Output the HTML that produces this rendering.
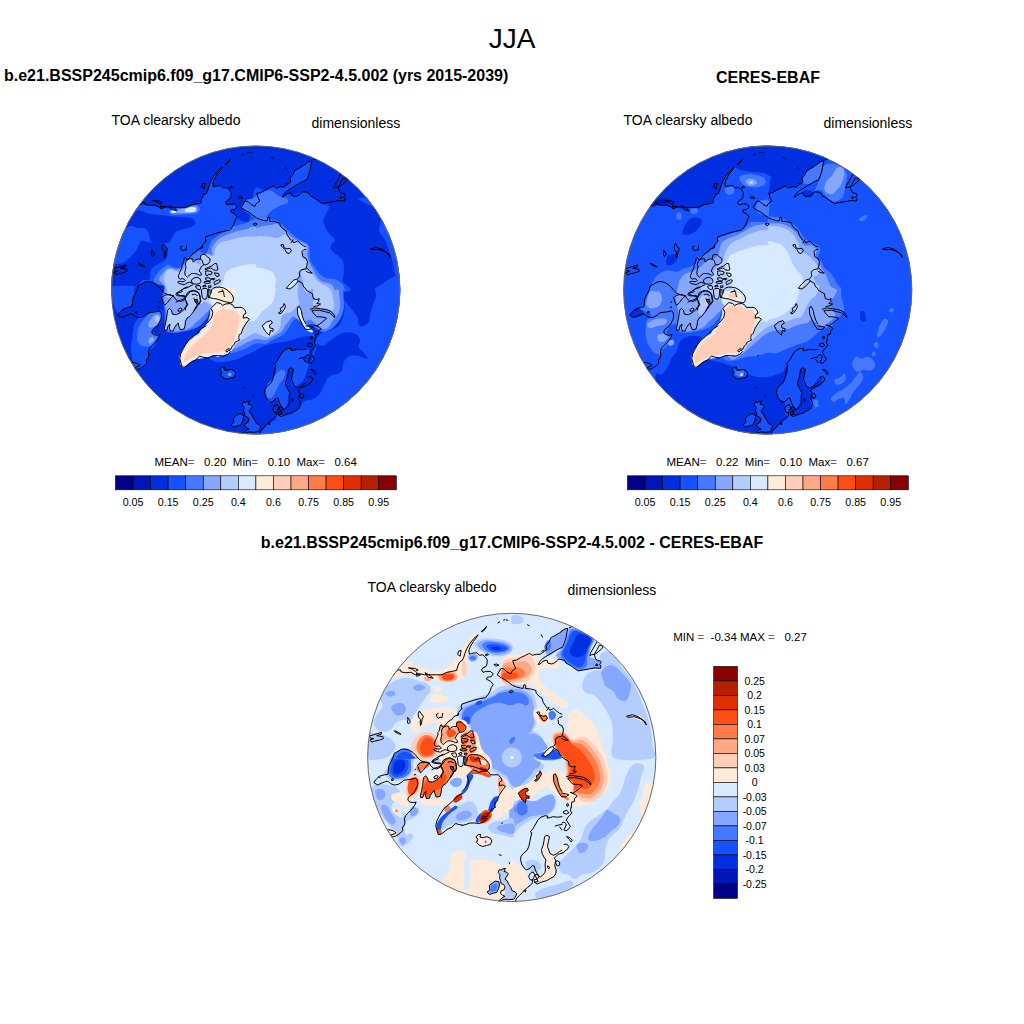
<!DOCTYPE html>
<html><head><meta charset="utf-8"><style>html,body{margin:0;padding:0;background:#fff}svg{display:block}text{font-family:"Liberation Sans",sans-serif;fill:#000}</style></head><body>
<svg width="1024" height="1024" viewBox="0 0 1024 1024">
<rect width="1024" height="1024" fill="#fff"/>
<text x="512" y="48.3" font-size="28" text-anchor="middle" xml:space="preserve">JJA</text>
<text x="4" y="80.6" font-size="16" text-anchor="start" font-weight="bold" xml:space="preserve">b.e21.BSSP245cmip6.f09_g17.CMIP6-SSP2-4.5.002 (yrs 2015-2039)</text>
<text x="768" y="82.6" font-size="16" text-anchor="middle" font-weight="bold" xml:space="preserve">CERES-EBAF</text>
<text x="512" y="548.2" font-size="16" text-anchor="middle" font-weight="bold" xml:space="preserve">b.e21.BSSP245cmip6.f09_g17.CMIP6-SSP2-4.5.002 - CERES-EBAF</text>
<text x="111.5" y="124.8" font-size="14" text-anchor="start" xml:space="preserve">TOA clearsky albedo</text>
<text x="311.5" y="127.8" font-size="14" text-anchor="start" xml:space="preserve">dimensionless</text>
<text x="623.5" y="124.8" font-size="14" text-anchor="start" xml:space="preserve">TOA clearsky albedo</text>
<text x="823.5" y="127.8" font-size="14" text-anchor="start" xml:space="preserve">dimensionless</text>
<text x="367.5" y="592.1" font-size="14" text-anchor="start" xml:space="preserve">TOA clearsky albedo</text>
<text x="567.5" y="595.1" font-size="14" text-anchor="start" xml:space="preserve">dimensionless</text>
<text x="154.5" y="465.6" font-size="11.5" text-anchor="start" xml:space="preserve">MEAN<tspan fill="#666">=</tspan>   0.20  Min<tspan fill="#666">=</tspan>   0.10  Max<tspan fill="#666">=</tspan>   0.64</text>
<text x="666.5" y="465.6" font-size="11.5" text-anchor="start" xml:space="preserve">MEAN<tspan fill="#666">=</tspan>   0.22  Min<tspan fill="#666">=</tspan>   0.10  Max<tspan fill="#666">=</tspan>   0.67</text>
<text x="673.2" y="640.8" font-size="11.5" text-anchor="start" xml:space="preserve">MIN <tspan fill="#666">=</tspan>  -0.34 MAX <tspan fill="#666">=</tspan>   0.27</text>
<rect x="115.50" y="475.8" width="17.55" height="14.0" fill="#000088" stroke="#000" stroke-width="0.6"/>
<rect x="133.05" y="475.8" width="17.55" height="14.0" fill="#0017B5" stroke="#000" stroke-width="0.6"/>
<rect x="150.60" y="475.8" width="17.55" height="14.0" fill="#002FE2" stroke="#000" stroke-width="0.6"/>
<rect x="168.15" y="475.8" width="17.55" height="14.0" fill="#1652FF" stroke="#000" stroke-width="0.6"/>
<rect x="185.70" y="475.8" width="17.55" height="14.0" fill="#4579FF" stroke="#000" stroke-width="0.6"/>
<rect x="203.25" y="475.8" width="17.55" height="14.0" fill="#86A7FF" stroke="#000" stroke-width="0.6"/>
<rect x="220.80" y="475.8" width="17.55" height="14.0" fill="#B4CDFF" stroke="#000" stroke-width="0.6"/>
<rect x="238.35" y="475.8" width="17.55" height="14.0" fill="#D7EAFF" stroke="#000" stroke-width="0.6"/>
<rect x="255.90" y="475.8" width="17.55" height="14.0" fill="#FFEADA" stroke="#000" stroke-width="0.6"/>
<rect x="273.45" y="475.8" width="17.55" height="14.0" fill="#FFCDB8" stroke="#000" stroke-width="0.6"/>
<rect x="291.00" y="475.8" width="17.55" height="14.0" fill="#FFA885" stroke="#000" stroke-width="0.6"/>
<rect x="308.55" y="475.8" width="17.55" height="14.0" fill="#FF7B47" stroke="#000" stroke-width="0.6"/>
<rect x="326.10" y="475.8" width="17.55" height="14.0" fill="#FF4E15" stroke="#000" stroke-width="0.6"/>
<rect x="343.65" y="475.8" width="17.55" height="14.0" fill="#E12F00" stroke="#000" stroke-width="0.6"/>
<rect x="361.20" y="475.8" width="17.55" height="14.0" fill="#B52100" stroke="#000" stroke-width="0.6"/>
<rect x="378.75" y="475.8" width="17.55" height="14.0" fill="#880000" stroke="#000" stroke-width="0.6"/>
<text x="133.05" y="505.8" font-size="10.7" text-anchor="middle" xml:space="preserve">0.05</text>
<text x="168.15" y="505.8" font-size="10.7" text-anchor="middle" xml:space="preserve">0.15</text>
<text x="203.25" y="505.8" font-size="10.7" text-anchor="middle" xml:space="preserve">0.25</text>
<text x="238.35" y="505.8" font-size="10.7" text-anchor="middle" xml:space="preserve">0.4</text>
<text x="273.45" y="505.8" font-size="10.7" text-anchor="middle" xml:space="preserve">0.6</text>
<text x="308.55" y="505.8" font-size="10.7" text-anchor="middle" xml:space="preserve">0.75</text>
<text x="343.65" y="505.8" font-size="10.7" text-anchor="middle" xml:space="preserve">0.85</text>
<text x="378.75" y="505.8" font-size="10.7" text-anchor="middle" xml:space="preserve">0.95</text>
<rect x="627.50" y="475.8" width="17.55" height="14.0" fill="#000088" stroke="#000" stroke-width="0.6"/>
<rect x="645.05" y="475.8" width="17.55" height="14.0" fill="#0017B5" stroke="#000" stroke-width="0.6"/>
<rect x="662.60" y="475.8" width="17.55" height="14.0" fill="#002FE2" stroke="#000" stroke-width="0.6"/>
<rect x="680.15" y="475.8" width="17.55" height="14.0" fill="#1652FF" stroke="#000" stroke-width="0.6"/>
<rect x="697.70" y="475.8" width="17.55" height="14.0" fill="#4579FF" stroke="#000" stroke-width="0.6"/>
<rect x="715.25" y="475.8" width="17.55" height="14.0" fill="#86A7FF" stroke="#000" stroke-width="0.6"/>
<rect x="732.80" y="475.8" width="17.55" height="14.0" fill="#B4CDFF" stroke="#000" stroke-width="0.6"/>
<rect x="750.35" y="475.8" width="17.55" height="14.0" fill="#D7EAFF" stroke="#000" stroke-width="0.6"/>
<rect x="767.90" y="475.8" width="17.55" height="14.0" fill="#FFEADA" stroke="#000" stroke-width="0.6"/>
<rect x="785.45" y="475.8" width="17.55" height="14.0" fill="#FFCDB8" stroke="#000" stroke-width="0.6"/>
<rect x="803.00" y="475.8" width="17.55" height="14.0" fill="#FFA885" stroke="#000" stroke-width="0.6"/>
<rect x="820.55" y="475.8" width="17.55" height="14.0" fill="#FF7B47" stroke="#000" stroke-width="0.6"/>
<rect x="838.10" y="475.8" width="17.55" height="14.0" fill="#FF4E15" stroke="#000" stroke-width="0.6"/>
<rect x="855.65" y="475.8" width="17.55" height="14.0" fill="#E12F00" stroke="#000" stroke-width="0.6"/>
<rect x="873.20" y="475.8" width="17.55" height="14.0" fill="#B52100" stroke="#000" stroke-width="0.6"/>
<rect x="890.75" y="475.8" width="17.55" height="14.0" fill="#880000" stroke="#000" stroke-width="0.6"/>
<text x="645.05" y="505.8" font-size="10.7" text-anchor="middle" xml:space="preserve">0.05</text>
<text x="680.15" y="505.8" font-size="10.7" text-anchor="middle" xml:space="preserve">0.15</text>
<text x="715.25" y="505.8" font-size="10.7" text-anchor="middle" xml:space="preserve">0.25</text>
<text x="750.35" y="505.8" font-size="10.7" text-anchor="middle" xml:space="preserve">0.4</text>
<text x="785.45" y="505.8" font-size="10.7" text-anchor="middle" xml:space="preserve">0.6</text>
<text x="820.55" y="505.8" font-size="10.7" text-anchor="middle" xml:space="preserve">0.75</text>
<text x="855.65" y="505.8" font-size="10.7" text-anchor="middle" xml:space="preserve">0.85</text>
<text x="890.75" y="505.8" font-size="10.7" text-anchor="middle" xml:space="preserve">0.95</text>
<rect x="713.7" y="666.40" width="23.7" height="14.5" fill="#880000" stroke="#000" stroke-width="0.6"/>
<rect x="713.7" y="680.90" width="23.7" height="14.5" fill="#B52100" stroke="#000" stroke-width="0.6"/>
<rect x="713.7" y="695.40" width="23.7" height="14.5" fill="#E12F00" stroke="#000" stroke-width="0.6"/>
<rect x="713.7" y="709.90" width="23.7" height="14.5" fill="#FF4E15" stroke="#000" stroke-width="0.6"/>
<rect x="713.7" y="724.40" width="23.7" height="14.5" fill="#FF7B47" stroke="#000" stroke-width="0.6"/>
<rect x="713.7" y="738.90" width="23.7" height="14.5" fill="#FFA885" stroke="#000" stroke-width="0.6"/>
<rect x="713.7" y="753.40" width="23.7" height="14.5" fill="#FFCDB8" stroke="#000" stroke-width="0.6"/>
<rect x="713.7" y="767.90" width="23.7" height="14.5" fill="#FFEADA" stroke="#000" stroke-width="0.6"/>
<rect x="713.7" y="782.40" width="23.7" height="14.5" fill="#D7EAFF" stroke="#000" stroke-width="0.6"/>
<rect x="713.7" y="796.90" width="23.7" height="14.5" fill="#B4CDFF" stroke="#000" stroke-width="0.6"/>
<rect x="713.7" y="811.40" width="23.7" height="14.5" fill="#86A7FF" stroke="#000" stroke-width="0.6"/>
<rect x="713.7" y="825.90" width="23.7" height="14.5" fill="#4579FF" stroke="#000" stroke-width="0.6"/>
<rect x="713.7" y="840.40" width="23.7" height="14.5" fill="#1652FF" stroke="#000" stroke-width="0.6"/>
<rect x="713.7" y="854.90" width="23.7" height="14.5" fill="#002FE2" stroke="#000" stroke-width="0.6"/>
<rect x="713.7" y="869.40" width="23.7" height="14.5" fill="#0017B5" stroke="#000" stroke-width="0.6"/>
<rect x="713.7" y="883.90" width="23.7" height="14.5" fill="#000088" stroke="#000" stroke-width="0.6"/>
<text x="754.6" y="684.5" font-size="10.5" text-anchor="middle" xml:space="preserve">0.25</text>
<text x="754.6" y="699.0" font-size="10.5" text-anchor="middle" xml:space="preserve">0.2</text>
<text x="754.6" y="713.5" font-size="10.5" text-anchor="middle" xml:space="preserve">0.15</text>
<text x="754.6" y="728.0" font-size="10.5" text-anchor="middle" xml:space="preserve">0.1</text>
<text x="754.6" y="742.5" font-size="10.5" text-anchor="middle" xml:space="preserve">0.07</text>
<text x="754.6" y="757.0" font-size="10.5" text-anchor="middle" xml:space="preserve">0.05</text>
<text x="754.6" y="771.5" font-size="10.5" text-anchor="middle" xml:space="preserve">0.03</text>
<text x="754.6" y="786.0" font-size="10.5" text-anchor="middle" xml:space="preserve">0</text>
<text x="754.6" y="800.5" font-size="10.5" text-anchor="middle" xml:space="preserve">-0.03</text>
<text x="754.6" y="815.0" font-size="10.5" text-anchor="middle" xml:space="preserve">-0.05</text>
<text x="754.6" y="829.5" font-size="10.5" text-anchor="middle" xml:space="preserve">-0.07</text>
<text x="754.6" y="844.0" font-size="10.5" text-anchor="middle" xml:space="preserve">-0.1</text>
<text x="754.6" y="858.5" font-size="10.5" text-anchor="middle" xml:space="preserve">-0.15</text>
<text x="754.6" y="873.0" font-size="10.5" text-anchor="middle" xml:space="preserve">-0.2</text>
<text x="754.6" y="887.5" font-size="10.5" text-anchor="middle" xml:space="preserve">-0.25</text>
<defs>
<clipPath id="cc"><circle cx="0" cy="0" r="144.6"/></clipPath>
<g id="coast" fill="none" stroke="#000" stroke-width="1.0" stroke-linejoin="round" stroke-linecap="round"><path d="M-118.5,-82.6L-113.6,-87.5L-111.2,-87.5L-110.7,-85.5L-105.8,-84.6L-100.9,-85.1L-96.5,-82.6L-91.2,-83.6L-87.2,-82.6L-81.4,-82.6L-76.5,-82.6L-69.7,-82.6L-64.8,-85.1L-59.9,-86.0L-55.0,-87.0L-54.0,-91.4L-52.1,-95.3L-49.8,-96.8"/><path d="M-102.9,-89.5L-97.0,-89.0L-93.6,-87.5L-96.5,-86.0L-99.0,-88.0Z"/><path d="M-95.1,-84.6L-91.2,-82.6L-94.6,-81.2Z"/><path d="M-86.3,-84.6L-81.4,-81.6L-78.5,-79.2L-83.3,-80.2L-85.3,-82.1Z"/><path d="M-53.1,-106.1L-50.6,-107.0L-51.6,-101.2L-53.6,-102.6Z"/><path d="M-49.8,-96.8L-48.3,-99.2L-46.8,-104.1L-44.9,-109.0L-41.9,-113.9L-38.0,-118.8L-33.6,-122.7L-35.1,-120.2L-38.5,-115.8L-41.4,-110.9L-42.9,-107.0L-42.4,-103.1L-40.0,-104.1L-35.1,-104.6L-32.2,-102.1L-29.2,-102.6L-26.3,-100.2L-24.4,-97.3L-24.8,-93.4L-25.8,-90.9L-28.8,-89.5L-30.2,-87.5L-28.8,-85.1L-25.3,-86.0L-21.4,-86.0L-18.5,-83.6L-20.5,-80.7L-24.4,-80.2L-25.3,-78.2L-21.4,-76.3L-18.5,-72.9L-20.5,-69.9L-21.4,-67.0L-23.4,-63.1L-26.3,-59.7L-32.2,-58.7L-38.0,-57.2L-43.9,-55.3L-49.8,-53.3L-50.5,-50.9L-49.8,-49.0"/><path d="M50.2,-126.1L47.9,-124.6L43.0,-121.7L39.1,-119.7L37.2,-115.3L34.2,-111.9L35.2,-108.0L31.3,-105.1L28.4,-103.1L24.5,-103.1L20.6,-102.1L17.6,-104.1L13.7,-102.1L8.8,-99.7L4.9,-97.3L1.0,-96.8L2.0,-93.4L4.0,-89.0L0.1,-86.0L-0.9,-83.6L-4.8,-85.5L-7.8,-88.5L-10.7,-89.0L-14.6,-82.6L-10.7,-79.7L-6.8,-77.7L-2.9,-74.8L1.0,-71.9L4.9,-70.4L8.8,-69.4L11.3,-68.9L12.3,-72.9L14.2,-71.9L13.7,-68.9L18.6,-68.5L24.0,-67.0L24.5,-64.1L27.4,-61.1L30.3,-59.2L31.3,-55.3L33.3,-52.3L34.7,-50.0"/><path d="M-2.4,-66.0L-0.4,-67.0L1.5,-66.0L-0.4,-64.6Z"/><path d="M50.2,-110.0L46.0,-108.0L41.1,-105.1L36.2,-102.1L31.3,-99.2L28.4,-96.3L26.4,-92.9L28.4,-93.4L31.3,-96.3L35.2,-97.3L36.2,-94.3L40.1,-93.4L44.0,-95.3L46.4,-98.2L50.2,-98.0"/><path d="M-30.2,-126.1L-27.8,-128.0L-25.3,-131.0L-26.3,-128.5L-29.2,-125.8Z"/><path d="M-13.8,-134.6L-12.2,-135.7"/><path d="M-8.2,-137.3L-6.8,-137.7"/><path d="M-5.3,-137.5L-4.0,-137.1"/><path d="M15.7,-132.6L17.6,-131.6"/><path d="M29.4,-122.7L30.8,-120.2"/><path d="M-26.3,-102.6L-24.6,-103.5L-23.2,-102.8L-24.8,-102.0Z"/><path d="M-17.5,-92.9L-15.1,-93.4L-12.8,-92.2L-15.6,-91.4Z"/><path d="M29.8,-106.1L32.3,-107.0"/><path d="M50.2,-126.6L53.2,-128.5L56.1,-129.0L55.1,-124.6L54.2,-119.7L52.7,-114.8L51.2,-110.9L50.2,-110.0"/><path d="M57.6,-130.0L61.0,-131.0"/><path d="M50.2,-97.8L53.2,-96.8L54.2,-94.3L58.1,-92.4L62.0,-89.5L66.4,-86.5L71.7,-87.5L77.6,-88.5L83.5,-89.5L88.8,-89.0L89.3,-91.4L87.8,-92.9L89.3,-94.8L88.8,-96.3L86.4,-96.8L83.9,-98.2L83.0,-101.2L82.0,-103.1L79.5,-102.6L78.1,-101.7L78.6,-104.1L81.5,-109.0L83.9,-113.4L85.4,-116.3"/><path d="M82.5,-103.1L85.4,-108.0L87.8,-112.4L91.8,-110.9L89.3,-108.0L86.4,-105.6L83.9,-103.6Z"/><path d="M83.9,-92.4L85.2,-93.6L85.9,-92.2Z"/><path d="M-82.4,5.7L-87.2,4.7L-91.2,3.2L-93.6,0.8L-96.0,-2.1L-99.0,-5.1L-102.9,-7.5L-106.8,-8.5L-110.7,-8.0L-114.6,-5.6L-117.5,-4.1L-118.5,-0.2L-120.9,4.7L-122.9,8.6L-123.4,13.5L-123.9,16.9L-127.3,17.4L-132.2,18.8L-135.1,21.3L-138.0,25.2L-134.1,27.6L-130.2,25.7L-126.3,24.2L-123.9,23.7L-121.4,26.2L-117.5,27.6L-113.6,27.1L-110.7,25.2L-107.8,22.8L-103.9,22.3L-99.9,21.8L-96.5,20.8L-94.6,22.3L-94.1,26.2L-94.6,29.1L-96.5,33.0L-98.0,35.9L-100.4,37.4L-103.4,39.8L-103.9,42.8L-101.9,44.7L-98.0,45.2L-95.6,44.7L-97.0,47.7L-98.5,50.0"/><path d="M-120.0,21.8L-118.7,21.3L-118.3,22.8L-119.7,23.2Z"/><path d="M-97.5,17.4L-96.2,17.2"/><path d="M-97.0,12.5L-96.0,11.7"/><path d="M-133.0,19.5L-131.7,20.3"/><path d="M-94.1,7.6L-91.2,5.2L-87.2,4.7L-82.4,5.7L-85.3,8.6L-88.2,12.5L-91.2,15.4L-92.6,12.5L-93.6,9.6Z"/><path d="M-82.4,5.7L-80.9,8.6L-78.0,11.0L-74.6,10.1L-71.6,8.6L-70.2,6.6L-73.6,6.2L-77.5,4.7L-79.4,3.2L-75.5,0.8L-71.6,-1.7L-68.7,-3.1"/><path d="M-54.5,-42.2L-53.1,-45.1L-49.8,-49.0"/><path d="M-52.9,-44.0L-53.5,-42.1L-56.6,-41.5L-58.5,-40.2L-59.8,-37.8L-61.6,-37.1L-64.1,-35.2L-65.4,-33.4L-67.2,-31.5L-69.1,-30.2L-70.4,-32.8L-71.6,-31.5L-72.2,-28.4L-72.9,-25.9L-74.1,-24.6L-73.5,-23.4L-74.8,-20.2L-76.0,-17.8L-77.2,-14.6L-77.2,-12.1L-75.4,-10.9L-72.9,-11.5L-70.4,-9.6L-71.6,-8.4L-74.1,-8.4L-76.6,-8.7L-78.2,-7.8L-76.6,-6.5L-74.1,-5.9L-71.6,-5.2L-68.5,-7.1L-66.0,-7.8L-63.5,-6.5"/><path d="M-70.4,-25.2L-69.8,-28.4L-67.9,-30.2L-65.4,-31.5L-62.9,-30.9L-62.6,-27.8L-61.0,-29.6L-58.5,-30.9L-55.4,-30.9L-53.5,-29.6L-52.9,-27.1L-52.2,-25.2L-53.5,-24.0L-54.8,-22.8L-55.7,-20.9L-56.6,-19.0L-54.8,-17.1L-54.1,-15.2L-56.0,-14.6L-58.5,-15.9L-61.0,-16.5L-64.1,-16.5L-66.6,-14.6L-68.5,-12.8L-70.4,-14.6L-71.0,-17.1L-70.4,-20.2L-69.8,-22.8Z"/><path d="M-55.4,-30.9L-55.1,-34.6L-52.9,-35.6L-50.4,-35.2L-48.5,-33.4L-45.7,-31.2L-46.0,-28.4L-47.2,-26.5L-49.8,-25.2L-52.2,-25.2"/><path d="M-64.1,-10.2L-61.6,-12.1L-58.5,-12.8L-55.4,-10.9L-54.8,-8.4L-56.0,-6.5L-58.5,-5.9L-61.6,-5.9L-63.5,-7.1Z"/><path d="M-59.8,-4.0L-56.0,-4.6L-55.1,-2.1L-56.0,-0.2L-58.5,-0.9L-59.8,-2.8Z"/><path d="M-79.8,4.1L-77.2,2.9L-73.5,1.6L-74.1,-0.2L-71.6,-1.5L-69.1,-2.1L-65.4,-4.0L-62.9,-5.2"/><path d="M-70.4,20.0L-69.8,17.2L-67.9,14.8L-69.1,12.2L-70.4,9.1L-69.8,6.0L-68.5,2.9L-65.4,1.0L-61.6,0.4L-58.5,1.6L-56.6,4.1L-56.0,7.2L-55.4,10.4L-56.0,12.9L-57.9,13.5L-59.1,16.0L-61.0,18.5L-61.6,20.0"/><path d="M-63.5,4.8L-61.0,4.1L-58.5,5.4"/><path d="M-61.0,9.8L-58.5,9.1L-57.9,11.6L-59.8,12.2Z"/><path d="M-79.8,4.8L-76.6,6.0L-73.5,5.4L-71.0,6.0"/><path d="M-79.8,12.2L-77.2,11.0L-74.8,11.6L-71.6,9.8L-70.4,8.5"/><path d="M-50.4,-21.2L-47.2,-22.8L-44.1,-24.0L-41.0,-26.5L-39.1,-26.5L-38.5,-23.4L-37.9,-20.2L-39.8,-19.6L-42.2,-20.2L-44.8,-22.1L-47.2,-21.5L-49.8,-20.2Z"/><path d="M-49.8,-19.0L-46.6,-19.0L-43.5,-17.8L-44.8,-15.2L-47.2,-15.9L-48.5,-14.0L-49.8,-14.6L-50.1,-17.1Z"/><path d="M-41.0,-17.1L-37.2,-16.5L-36.6,-14.0L-39.1,-13.4L-40.4,-15.2Z"/><path d="M-49.8,-12.1L-46.0,-12.1L-44.8,-10.2L-46.0,-9.0L-48.5,-9.3L-49.8,-10.2Z"/><path d="M-44.1,-11.5L-41.0,-11.5L-41.6,-10.2L-43.8,-10.4Z"/><path d="M-51.0,-8.4L-46.0,-8.7L-45.4,-7.1L-48.5,-6.5L-51.3,-7.1Z"/><path d="M-41.0,-8.4L-37.2,-10.2L-35.4,-9.9L-36.0,-7.8L-38.5,-6.5L-41.0,-5.2L-41.6,-6.5Z"/><path d="M-52.9,-4.0L-50.4,-5.2L-49.8,-3.4L-52.2,-3.1Z"/><path d="M-47.2,-4.0L-44.8,-4.3L-44.8,-2.8L-46.6,-2.4Z"/><path d="M-54.1,-0.2L-52.9,-1.5L-49.1,-1.5L-47.9,-0.2L-48.2,3.5L-48.8,7.2L-49.8,9.1L-52.2,9.1L-53.5,7.2L-54.1,3.5Z"/><path d="M-47.2,-0.9L-45.7,-0.2L-45.7,4.8L-46.3,7.9L-47.2,7.9L-47.6,3.5Z"/><path d="M-45.4,7.9L-42.2,8.5L-38.5,9.1L-34.8,10.4L-31.0,11.6L-27.9,12.2L-24.8,12.9L-22.9,11.6L-22.2,9.1L-22.9,6.0L-24.8,3.5L-27.2,1.0L-29.8,-0.9L-32.2,-2.1L-36.0,-2.8L-39.1,-2.8L-42.2,-2.1L-44.1,-0.2L-44.8,3.5"/><path d="M-33.5,-0.2L-32.2,2.2L-31.6,5.4L-31.3,6.6"/><path d="M-37.2,2.2L-34.8,1.6L-32.9,1.0"/><path d="M-75.4,-42.8L-74.8,-40.9L-73.5,-39.0L-71.6,-40.2L-69.8,-39.6L-69.4,-42.1L-69.1,-44.0"/><path d="M-75.4,-42.8L-73.5,-44.0"/><path d="M-91.2,37.9L-90.2,33.0L-89.2,28.1L-88.2,20.3L-86.3,18.4L-84.3,20.3L-83.3,24.2L-79.4,24.7L-74.6,22.3L-71.6,19.3L-68.7,14.5L-69.7,11.5L-71.6,8.6L-68.7,5.7L-65.8,1.8L-61.9,0.8L-57.0,2.7L-55.5,6.6L-55.0,11.5L-57.0,14.5L-58.9,10.5L-61.9,8.6L-59.9,12.5L-58.0,15.4L-59.9,18.4L-62.8,22.3L-65.8,26.2L-68.7,28.1L-70.2,31.1L-70.6,35.0L-71.6,38.9L-75.5,39.8L-77.0,35.9L-77.5,33.0L-79.4,35.0L-81.4,37.9L-82.4,40.8L-85.3,41.3L-86.3,37.9L-85.8,34.0L-87.7,35.9L-88.7,39.8L-90.7,40.3Z"/><path d="M-77.5,19.3L-75.5,17.9L-73.6,18.8L-74.6,20.8L-77.0,21.3Z"/><path d="M-92.1,-46.1L-90.2,-43.2L-88.2,-40.7L-89.7,-38.3L-90.2,-34.4L-91.2,-31.9L-91.6,-35.4L-91.2,-37.8L-93.1,-40.2L-93.6,-43.2Z"/><path d="M-103.9,-39.7L-102.4,-37.8L-101.4,-35.4L-103.4,-33.4L-104.3,-35.4L-103.9,-37.3Z"/><path d="M-117.0,-26.6L-113.6,-25.1L-110.7,-23.1L-113.1,-23.6L-116.1,-25.1Z"/><path d="M-142.4,-21.2L-138.0,-22.7L-133.1,-24.1L-130.2,-25.1L-130.7,-23.1L-135.1,-21.7L-128.8,-20.7L-128.3,-18.8L-132.2,-17.3L-137.1,-16.3L-140.0,-15.3L-141.9,-17.3L-138.0,-18.8L-141.0,-19.2Z"/><path d="M-49.8,35.9L-53.1,37.9L-56.0,40.3L-58.0,42.8L-61.9,46.2L-64.8,48.6L-66.7,50.0"/><path d="M-49.8,34.0L-46.8,31.1L-43.9,27.1L-42.9,22.3L-44.9,18.4L-41.9,15.4L-39.0,12.5L-35.1,13.5L-33.1,15.4L-30.2,14.0L-26.3,13.5L-23.4,14.5L-21.4,17.4L-17.5,17.4L-13.6,17.4L-10.7,20.3L-9.7,23.2L-12.2,24.7L-12.6,28.1L-8.7,27.6L-6.3,29.1L-8.7,32.0L-10.7,35.0L-12.6,37.9L-13.6,40.8L-14.6,43.8L-16.5,44.7L-17.0,47.7L-16.5,50.0"/><path d="M6.9,35.4L10.8,32.0L15.2,30.6L16.7,33.0L13.7,35.0L14.2,37.9L17.6,38.9L17.1,41.3L14.7,40.3L13.7,45.2L10.8,42.8L8.4,39.4Z"/><path d="M23.0,22.8L25.4,21.3L24.5,18.4L27.4,16.4L28.4,13.5L29.8,16.4L28.4,19.3L26.4,22.3L24.5,23.7Z"/><path d="M42.0,17.4L43.5,16.4L45.5,20.3L46.4,25.2L47.9,30.1L50.2,34.0"/><path d="M42.0,17.4L41.6,18.4L42.0,24.2L44.0,29.1L46.9,35.0L49.9,39.4"/><path d="M30.8,-2.1L34.2,-6.1L38.1,-10.0L41.1,-10.9L42.5,-9.0L40.1,-6.1L37.2,-3.1L34.2,-1.2Z"/><path d="M42.0,-11.4L44.0,-13.9L43.5,-17.8L45.5,-20.2L50.2,-21.2"/><path d="M42.5,-9.0L46.4,-7.0L47.9,-3.1L50.2,-1.2"/><path d="M25.4,-45.1L27.4,-45.6L28.4,-42.2L31.3,-41.2L34.2,-41.7L35.7,-39.3L33.3,-36.3L30.8,-37.3L29.4,-40.2L27.4,-42.2L25.9,-43.7Z"/><path d="M35.2,-47.1L37.2,-50.0"/><path d="M46.0,-38.3L47.9,-40.2L50.2,-40.7"/><path d="M46.4,-37.3L46.9,-33.4L50.2,-31.4"/><path d="M36.2,-50.0L38.1,-47.1L42.0,-49.0L45.0,-46.1L47.9,-44.1L50.2,-43.2"/><path d="M115.2,-41.2L120.6,-42.7L126.4,-40.7L131.3,-37.3L134.7,-32.4L133.3,-35.8L128.4,-38.8L122.5,-40.7L116.7,-40.2Z"/><path d="M50.2,-0.2L53.2,1.8L56.6,3.7L57.6,8.6L61.0,9.6L63.4,8.6L62.9,11.5L61.0,13.5L64.9,14.0L62.0,15.9L58.1,16.4"/><path d="M54.6,19.3L59.0,17.9L64.9,18.8L71.2,19.8L75.6,21.8L78.6,25.2L79.1,27.6L76.6,25.2L73.7,22.8L69.8,21.8L63.9,20.3L59.0,20.3L56.1,20.8L58.1,23.7L61.0,26.7L66.9,27.1L70.8,28.1L67.8,31.1L63.9,34.0L61.0,35.9L58.6,35.0L63.4,36.9L65.4,38.9L62.9,40.8L62.5,44.2L60.0,44.7L59.5,50.0"/><path d="M50.2,-31.4L51.7,-28.5L51.2,-24.6L50.2,-21.7"/><path d="M51.2,-21.7L54.2,-18.8L56.6,-16.8L53.2,-17.3L50.2,-18.8"/><path d="M50.2,35.9L54.2,36.4L57.1,37.4L54.2,39.4L50.2,39.4"/><path d="M55.1,46.7L56.3,46.2L56.9,48.1L55.6,48.8Z"/><path d="M-98.5,50.0L-100.9,52.9L-103.9,55.9L-106.3,58.3L-107.3,61.7L-106.8,65.6L-107.8,68.6L-109.2,69.5L-109.2,73.4L-111.2,75.4L-113.6,77.3L-116.1,78.8L-119.5,79.3L-121.4,77.8L-117.5,76.4L-115.6,75.4L-118.5,73.4L-121.4,72.5L-123.9,72.5"/><path d="M-66.7,50.0L-69.7,53.9L-72.6,58.8L-75.0,63.7L-76.0,68.6L-74.6,73.4L-73.6,76.9L-71.6,77.3L-68.7,75.4L-65.8,72.9L-62.8,71.0L-59.9,70.0L-58.0,67.6L-56.0,66.1L-53.1,67.1L-49.8,67.6"/><path d="M-49.8,68.1L-45.8,67.1L-41.9,65.6L-37.1,65.6L-32.2,66.1L-28.3,64.6L-25.3,61.7L-26.8,59.8L-28.8,62.2L-30.2,60.7L-27.8,58.8L-24.8,59.3L-23.4,55.9L-21.4,54.4L-20.5,52.0L-18.0,51.0L-17.0,50.0"/><path d="M-35.6,79.3L-33.6,77.3L-31.2,76.9L-31.7,79.8L-28.8,80.3L-24.8,79.3L-21.4,80.8L-20.0,83.7L-21.4,87.1L-25.3,88.1L-29.2,89.1L-32.7,87.6L-35.1,85.2L-34.1,82.2Z"/><path d="M-12.6,97.4L-10.7,97.9"/><path d="M-2.4,105.2L-2.2,106.4"/><path d="M-10.2,66.1L-9.2,65.4"/><path d="M-10.7,112.5L-8.7,111.5L-6.3,111.0L-7.8,114.0L-4.8,114.9L-3.4,116.4L-5.8,120.3L-6.8,121.8L-4.8,123.2L-2.9,127.1L-0.9,130.1L0.5,133.5L3.5,134.5L4.9,136.4L3.5,139.8L2.0,141.8L-2.9,142.3L-6.8,141.8L-9.7,142.8L-13.1,144.2L-11.2,141.8L-8.7,139.8L-6.8,138.9L-9.2,137.9L-11.2,135.9L-10.7,133.5L-7.8,132.5L-6.8,129.1L-8.2,127.1L-10.7,126.2L-11.2,123.2L-12.2,120.3L-11.7,117.4L-13.6,114.9L-12.6,112.5Z"/><path d="M-24.4,134.5L-21.9,132.5L-22.4,128.1L-19.5,125.7L-16.5,123.7L-13.1,124.2L-12.2,127.1L-13.1,131.1L-15.1,135.0L-18.5,135.9L-21.9,136.9Z"/><path d="M50.2,59.3L46.0,59.8L41.1,59.3L38.1,60.3L35.2,60.7L36.2,58.8L33.3,58.3L29.4,59.8L26.4,62.2L24.5,65.6L22.5,69.0L21.1,71.5L18.6,74.4L20.1,75.4L19.1,79.3L18.1,84.2L17.1,89.1L15.2,93.0L11.8,95.9L9.3,98.8L8.8,102.7L10.3,107.6L12.3,110.5L14.7,112.5L18.1,111.0L20.6,108.1L22.5,108.6L23.5,112.5L25.0,115.4L26.4,118.4L28.4,119.8L31.3,117.4L33.3,114.9L33.7,111.5L33.3,106.6L34.2,102.7L32.3,99.8L30.3,95.9L29.8,92.0L31.3,88.1L32.3,83.2L32.8,79.3L35.2,77.8L37.7,79.3L36.7,84.2L35.7,89.1L37.2,93.0L38.1,95.9L41.6,97.9L45.0,96.4L47.9,93.9L50.2,93.0"/><path d="M17.1,118.4L18.6,115.9L21.5,114.5L23.0,117.4L22.0,120.3L20.6,122.8L18.6,122.3Z"/><path d="M22.5,122.3L25.4,121.8L26.4,124.2L23.5,124.7Z"/><path d="M23.5,117.4L26.4,116.9L27.4,119.3L25.4,121.3Z"/><path d="M3.5,144.2L4.9,140.8L7.9,137.9L10.8,135.0L12.8,132.5L15.7,130.1L18.6,128.1L20.6,125.7L20.6,122.8"/><path d="M22.5,124.7L25.4,126.7L28.4,125.2L31.3,124.2L35.2,123.2L38.1,121.3L42.0,119.3L44.0,116.4L44.5,112.5L43.0,108.6L43.5,104.7L45.5,103.2L47.9,104.7L47.9,107.6L45.5,108.6L44.0,105.7L44.0,102.7L42.5,100.8L44.5,98.8L46.4,96.9L50.2,95.9"/><path d="M36.2,108.6L37.7,109.6L37.2,111.5L36.0,110.5Z"/><path d="M43.5,68.6L46.9,67.6L50.2,67.1"/><path d="M47.9,69.5L50.2,72.5"/><path d="M12.8,133.0L14.2,132.5L13.7,134.5Z"/><path d="M59.5,50.0L58.6,52.9L60.0,55.4L58.1,57.8L56.1,59.8L54.6,62.7L57.1,66.6L58.6,69.0L56.6,72.0L54.2,73.4L52.2,72.5L53.7,69.5L54.6,66.6L52.2,64.6L50.2,65.6"/><path d="M52.2,53.9L55.1,52.9L57.1,55.4L54.6,56.8L52.2,55.9Z"/><path d="M55.1,79.3L58.1,80.3L60.5,82.7L59.5,84.7L57.6,82.2Z"/><path d="M52.2,87.1L55.1,86.6L57.1,89.1L55.6,92.0L53.2,93.5L51.2,95.9L50.2,94.9"/></g>
</defs>
<g transform="translate(255.75,290.0)">
<g clip-path="url(#cc)">
<circle cx="0" cy="0" r="144.6" fill="#002FE2"/>
<path d="M-127.8,-79.7L-113.1,-85.3L-105.8,-84.8L-98.5,-83.3L-91.2,-82.3L-85.3,-81.2L-79.4,-81.4L-73.6,-81.9L-67.7,-82.6L-61.9,-85.5L-56.0,-87.7L-53.8,-91.4L-52.3,-95.1L-48.7,-95.8L-47.2,-100.2L-46.5,-104.6L-44.3,-110.4L-40.6,-115.6L-37.0,-120.0L-33.3,-122.9L-34.0,-120.7L-37.7,-116.3L-40.6,-111.9L-42.1,-107.5L-42.5,-103.4L-38.4,-103.1L-34.0,-104.6L-31.1,-101.7L-26.7,-100.9L-24.5,-98.7L-24.5,-94.3L-26.7,-91.4L-29.6,-88.5L-29.6,-85.5L-25.2,-84.8L-20.8,-86.3L-18.6,-84.1L-20.8,-81.2L-25.2,-79.7L-22.3,-76.8L-18.6,-73.8L-17.2,-70.9L-10.6,-68.0L2.6,-70.2L2.6,2.3L-152.7,2.3L-152.7,-62.1Z" fill="#1652FF"/>
<path d="M-116.8,-79.7C-113.9,-79.8 -110.1,-76.9 -105.8,-76.0C-101.5,-75.2 -96.0,-75.0 -91.2,-74.6C-86.3,-74.1 -81.1,-73.6 -76.5,-73.1C-71.9,-72.6 -66.0,-72.9 -63.3,-71.6C-60.6,-70.4 -59.7,-67.4 -60.4,-65.8C-61.1,-64.2 -64.5,-63.3 -67.7,-62.1C-70.9,-60.9 -76.8,-60.2 -79.4,-58.4C-82.1,-56.7 -82.6,-53.7 -83.8,-51.9C-85.1,-50.0 -85.1,-48.3 -86.8,-47.5C-88.5,-46.6 -91.2,-46.6 -94.1,-46.7C-97.0,-46.9 -102.3,-46.9 -104.3,-48.2C-106.4,-49.5 -105.6,-52.6 -106.5,-54.8C-107.5,-57.0 -108.4,-60.2 -110.2,-61.4C-112.0,-62.6 -115.1,-61.6 -117.5,-62.1C-120.0,-62.6 -122.9,-64.3 -124.8,-64.3C-126.8,-64.3 -128.8,-61.5 -129.2,-62.1C-129.7,-62.7 -128.8,-65.8 -127.8,-68.0C-126.8,-70.2 -125.2,-73.3 -123.4,-75.3C-121.6,-77.2 -119.7,-79.6 -116.8,-79.7Z" fill="#002FE2"/>
<path d="M-114.6,-48.9C-112.5,-49.9 -109.2,-47.9 -105.8,-47.5C-102.4,-47.0 -97.0,-47.5 -94.1,-46.0C-91.2,-44.5 -89.0,-41.1 -88.2,-38.7C-87.5,-36.2 -88.2,-33.4 -89.7,-31.3C-91.2,-29.3 -94.8,-27.7 -97.0,-26.2C-99.2,-24.8 -101.4,-24.1 -102.9,-22.6C-104.3,-21.0 -105.3,-18.7 -105.8,-16.7C-106.3,-14.7 -104.6,-12.1 -105.8,-10.8C-107.0,-9.6 -111.2,-10.6 -113.1,-9.4C-115.1,-8.2 -116.7,-5.5 -117.5,-3.5C-118.4,-1.6 -113.4,1.4 -118.3,2.3C-123.1,3.3 -142.1,6.2 -146.8,2.3C-151.6,-1.6 -149.3,-16.1 -146.8,-21.1C-144.4,-26.1 -136.0,-25.5 -132.2,-27.7C-128.4,-29.9 -126.4,-32.0 -124.1,-34.3C-121.8,-36.6 -119.8,-39.2 -118.3,-41.6C-116.7,-44.0 -116.7,-47.9 -114.6,-48.9Z" fill="#002FE2"/>
<path d="M-2.7,-93.6C-0.7,-110.7 5.5,-98.5 9.0,-100.2C12.6,-101.9 15.6,-103.4 18.6,-103.9C21.5,-104.3 24.2,-102.5 26.6,-103.1C29.1,-103.7 31.7,-105.6 33.2,-107.5C34.7,-109.5 34.1,-112.8 35.4,-114.8C36.7,-116.9 39.1,-118.1 41.3,-120.0C43.5,-121.8 46.2,-124.4 48.6,-125.8C51.0,-127.3 54.8,-130.1 55.6,-128.8C56.5,-127.4 54.5,-120.8 53.7,-117.8C52.9,-114.7 52.4,-112.4 50.8,-110.4C49.2,-108.5 46.5,-107.5 44.2,-106.1C41.9,-104.6 39.3,-103.1 36.9,-101.7C34.4,-100.2 31.3,-98.6 29.5,-97.3C27.8,-95.9 25.9,-93.8 26.6,-93.6C27.3,-93.4 32.2,-95.8 33.9,-95.8C35.6,-95.8 35.2,-93.4 36.9,-93.6C38.6,-93.8 42.5,-96.4 44.2,-97.3C45.9,-98.1 45.7,-98.9 47.1,-98.7C48.6,-98.6 51.0,-97.8 53.0,-96.5C54.9,-95.3 56.6,-93.0 58.8,-91.4C61.0,-89.8 63.7,-87.9 66.2,-86.7C68.6,-85.5 72.8,-85.7 73.5,-84.1C74.2,-82.4 71.5,-79.4 70.6,-76.8C69.6,-74.1 67.1,-71.4 67.6,-68.0C68.1,-64.6 71.5,-59.2 73.5,-56.2C75.4,-53.3 79.1,-52.3 79.4,-50.4C79.6,-48.4 75.4,-46.5 75.0,-44.5C74.5,-42.6 74.5,-41.1 76.4,-38.7C78.4,-36.2 84.7,-33.3 86.7,-29.9C88.6,-26.5 88.1,-21.6 88.1,-18.2C88.1,-14.7 86.7,-12.8 86.7,-9.4C86.7,-6.0 103.0,0.4 88.1,2.3C73.2,4.3 12.5,18.3 -2.7,2.3C-17.8,-13.6 -4.6,-76.5 -2.7,-93.6Z" fill="#1652FF"/>
<path d="M105.7,-92.1C98.5,-91.3 107.4,-88.6 109.4,-87.0C111.3,-85.4 114.9,-85.3 117.4,-82.6C120.0,-79.9 123.8,-74.8 124.8,-70.9C125.7,-67.0 122.6,-62.6 123.3,-59.2C124.0,-55.8 127.4,-53.8 129.2,-50.4C130.9,-47.0 132.2,-42.6 133.5,-38.7C134.9,-34.8 136.1,-31.6 137.2,-27.0C138.3,-22.3 139.5,-15.7 140.1,-10.8C140.8,-6.0 138.8,0.1 140.9,2.3C142.9,4.5 150.6,18.1 152.6,2.3C154.5,-13.4 160.4,-76.4 152.6,-92.1C144.8,-107.9 112.9,-93.0 105.7,-92.1Z" fill="#1652FF"/>
<path d="M86.7,-2.9C86.6,-4.4 85.7,3.9 88.1,8.8C90.6,13.7 99.0,22.5 101.3,26.4C103.6,30.3 101.3,30.5 102.1,32.2C102.8,33.9 103.9,36.6 105.7,36.6C107.5,36.6 111.6,34.4 113.0,32.2C114.5,30.0 113.8,26.4 114.5,23.4C115.2,20.5 116.5,17.6 117.4,14.6C118.4,11.7 119.6,8.8 120.4,5.9C121.1,2.9 116.5,-1.5 121.8,-2.9C127.2,-4.4 147.5,-28.8 152.6,-2.9C157.7,22.9 178.5,126.5 152.6,152.3C126.7,178.2 23.2,154.3 -2.7,152.3C-28.6,150.4 -3.8,142.2 -2.7,140.6C-1.6,139.0 2.2,143.1 3.9,142.8C5.6,142.6 6.1,140.7 7.6,139.2C9.0,137.6 10.6,134.9 12.7,133.3C14.8,131.7 18.9,130.9 20.0,129.6C21.1,128.4 18.6,126.8 19.3,126.0C20.0,125.1 22.3,124.8 24.4,124.5C26.5,124.3 29.7,124.8 31.7,124.5C33.8,124.3 34.8,124.1 36.9,123.0C38.9,121.9 42.2,119.9 44.2,117.9C46.1,116.0 46.1,112.9 48.6,111.3C51.0,109.7 56.2,109.9 58.8,108.4C61.5,106.9 63.0,105.0 64.7,102.5C66.4,100.1 67.6,96.4 69.1,93.8C70.6,91.1 70.8,88.4 73.5,86.4C76.2,84.5 82.8,84.5 85.2,82.0C87.7,79.6 86.7,74.5 88.1,71.8C89.6,69.1 91.6,66.9 94.0,65.9C96.4,64.9 99.9,65.4 102.8,65.9C105.7,66.4 110.6,69.3 111.6,68.8C112.6,68.4 110.1,64.9 108.6,63.0C107.2,61.0 103.5,59.3 102.8,57.1C102.1,54.9 104.7,52.0 104.3,49.8C103.8,47.6 102.5,45.2 99.9,43.9C97.2,42.7 91.8,41.7 88.1,42.5C84.5,43.2 81.3,46.1 77.9,48.3C74.5,50.5 70.3,54.9 67.6,55.7C64.9,56.4 62.3,54.7 61.8,52.7C61.3,50.8 62.7,45.9 64.7,43.9C66.7,42.0 70.6,42.2 73.5,41.0C76.4,39.8 80.1,38.6 82.3,36.6C84.5,34.7 85.6,32.5 86.7,29.3C87.8,26.1 88.9,22.9 88.9,17.6C88.9,12.2 86.8,-1.5 86.7,-2.9Z" fill="#1652FF"/>
<path d="M10.5,108.4C9.8,106.7 8.4,104.2 8.3,102.5C8.2,100.8 8.8,99.6 9.8,98.1C10.7,96.7 12.9,95.2 14.2,93.8C15.4,92.3 16.1,91.3 17.1,89.4C18.1,87.4 19.8,84.5 20.0,82.0C20.3,79.6 18.3,76.7 18.6,74.7C18.8,72.8 20.5,71.8 21.5,70.3C22.5,68.8 23.4,67.4 24.4,65.9C25.4,64.5 26.3,62.6 27.3,61.5C28.4,60.4 28.7,59.6 31.0,59.3C33.3,59.1 37.7,60.1 41.3,60.1C44.8,60.1 50.2,59.1 52.3,59.3C54.3,59.6 53.7,60.4 53.7,61.5C53.7,62.6 53.1,65.1 52.3,65.9C51.4,66.8 50.1,66.2 48.6,66.7C47.1,67.1 43.7,68.5 43.5,68.8C43.2,69.2 45.9,68.4 47.1,68.8C48.3,69.3 49.6,71.0 50.8,71.8C52.0,72.5 53.2,73.7 54.4,73.2C55.7,72.8 57.7,70.3 58.1,68.8C58.5,67.4 56.6,65.9 56.6,64.5C56.6,63.0 57.6,62.3 58.1,60.1C58.6,57.9 58.5,54.0 59.6,51.3C60.7,48.6 64.3,43.7 64.7,43.9C65.1,44.2 62.7,49.6 61.8,52.7C60.8,55.9 60.3,59.1 58.8,63.0C57.4,66.9 54.7,72.0 53.0,76.2C51.3,80.3 50.1,85.0 48.6,87.9C47.1,90.8 45.9,92.3 44.2,93.8C42.5,95.2 39.8,96.9 38.3,96.7C36.9,96.4 35.6,95.1 35.4,92.3C35.2,89.5 37.0,82.0 36.9,79.8C36.7,77.6 35.6,77.8 34.7,79.1C33.7,80.4 31.5,84.7 31.0,87.9C30.5,91.1 31.3,95.7 31.7,98.1C32.2,100.6 33.7,100.8 33.9,102.5C34.2,104.2 33.6,106.6 33.2,108.4C32.8,110.2 32.4,112.1 31.7,113.5C31.1,115.0 30.4,116.3 29.5,117.2C28.7,118.0 27.5,118.8 26.6,118.7C25.8,118.5 25.2,117.7 24.4,116.5C23.7,115.2 23.1,112.7 22.2,111.3C21.4,110.0 20.3,108.4 19.3,108.4C18.3,108.4 17.5,110.6 16.4,111.3C15.3,112.1 13.7,113.3 12.7,112.8C11.7,112.3 11.2,110.1 10.5,108.4Z" fill="#1652FF"/>
<path d="M-24.4,134.5L-21.9,132.5L-22.4,128.1L-19.5,125.7L-16.5,123.7L-13.1,124.2L-12.2,127.1L-13.1,131.1L-15.1,135.0L-18.5,135.9L-21.9,136.9Z" fill="#1652FF"/>
<path d="M-10.7,112.5L-8.7,111.5L-6.3,111.0L-7.8,114.0L-4.8,114.9L-3.4,116.4L-5.8,120.3L-6.8,121.8L-4.8,123.2L-2.9,127.1L-0.9,130.1L0.5,133.5L3.5,134.5L4.9,136.4L3.5,139.8L2.0,141.8L-2.9,142.3L-6.8,141.8L-9.7,142.8L-13.1,144.2L-11.2,141.8L-8.7,139.8L-6.8,138.9L-9.2,137.9L-11.2,135.9L-10.7,133.5L-7.8,132.5L-6.8,129.1L-8.2,127.1L-10.7,126.2L-11.2,123.2L-12.2,120.3L-11.7,117.4L-13.6,114.9L-12.6,112.5Z" fill="#1652FF"/>
<path d="M-35.6,79.3L-33.6,77.3L-31.2,76.9L-31.7,79.8L-28.8,80.3L-24.8,79.3L-21.4,80.8L-20.0,83.7L-21.4,87.1L-25.3,88.1L-29.2,89.1L-32.7,87.6L-35.1,85.2L-34.1,82.2Z" fill="#1652FF"/>
<path d="M-121.9,36.6C-121.1,33.4 -120.0,31.7 -118.3,29.3C-116.5,26.9 -113.7,24.4 -111.7,22.0C-109.6,19.5 -107.8,16.4 -105.8,14.6C-103.9,12.9 -101.9,11.2 -99.9,11.7C-98.0,12.2 -95.3,15.0 -94.1,17.6C-92.9,20.1 -92.4,24.4 -92.6,27.1C-92.9,29.8 -94.2,31.9 -95.6,33.7C-96.9,35.5 -99.5,36.6 -100.7,38.1C-101.9,39.6 -103.7,41.3 -102.9,42.5C-102.0,43.7 -96.3,44.1 -95.6,45.4C-94.8,46.8 -97.5,48.7 -98.5,50.5C-99.5,52.4 -100.2,54.8 -101.4,56.4C-102.6,58.0 -104.8,58.5 -105.8,60.1C-106.8,61.6 -106.8,64.1 -107.3,65.9C-107.8,67.7 -108.1,69.3 -108.7,71.0C-109.3,72.8 -109.2,74.7 -110.9,76.2C-112.6,77.6 -117.2,79.8 -119.0,79.8C-120.8,79.8 -120.9,79.7 -121.9,76.2C-122.9,72.6 -124.6,63.2 -124.8,58.6C-125.1,54.0 -123.9,52.0 -123.4,48.3C-122.9,44.7 -122.8,39.8 -121.9,36.6Z" fill="#1652FF"/>
<path d="M-146.8,-2.9C-142.5,-4.9 -122.4,-4.6 -118.3,-2.9C-114.1,-1.2 -120.9,4.4 -121.9,7.3C-122.9,10.3 -123.1,12.9 -124.1,14.6C-125.1,16.4 -126.4,16.8 -127.8,17.6C-129.1,18.3 -130.6,18.1 -132.2,19.0C-133.8,20.0 -135.8,23.7 -137.3,23.4C-138.8,23.2 -139.9,20.0 -141.0,17.6C-142.1,15.1 -142.9,12.2 -143.9,8.8C-144.9,5.4 -151.1,-1.0 -146.8,-2.9Z" fill="#1652FF"/>
<path d="M-47.2,67.1C-47.5,68.3 -42.9,71.0 -40.0,71.8C-37.2,72.6 -33.5,72.1 -30.2,71.8C-26.9,71.4 -23.7,70.7 -20.4,69.7C-17.2,68.8 -14.0,67.4 -10.7,65.9C-7.5,64.5 -4.2,62.6 -0.9,60.9C2.3,59.3 5.6,57.4 8.9,56.1C12.1,54.8 15.3,53.8 18.6,53.2C21.8,52.5 25.1,52.8 28.4,52.1C31.6,51.5 34.6,50.2 38.2,49.2C41.8,48.2 46.8,46.9 50.2,46.3C53.6,45.7 59.8,48.2 58.8,45.4C57.8,42.6 54.0,32.0 44.2,29.3C34.4,26.6 10.6,26.9 0.2,29.3C-10.1,31.7 -11.5,38.1 -17.9,43.9C-24.4,49.8 -33.5,60.6 -38.4,64.5C-43.3,68.3 -46.9,65.9 -47.2,67.1Z" fill="#1652FF"/>
<path d="M-0.6,-71.2C-1.1,-70.8 -3.3,-70.4 -4.6,-69.7C-5.9,-69.1 -6.6,-68.2 -8.5,-67.4C-10.5,-66.6 -13.7,-65.8 -16.3,-65.0C-18.9,-64.3 -21.8,-63.8 -24.1,-62.7C-26.3,-61.6 -27.9,-59.6 -29.8,-58.4C-31.7,-57.3 -33.9,-56.5 -35.5,-55.7C-37.1,-54.8 -38.1,-54.2 -39.4,-53.3C-40.8,-52.4 -42.4,-51.3 -43.4,-50.1C-44.5,-48.9 -45.1,-47.7 -45.7,-46.3C-46.4,-44.9 -46.7,-43.0 -47.2,-41.6C-47.7,-40.2 -47.9,-38.9 -48.7,-37.9C-49.5,-37.0 -50.7,-35.9 -51.9,-36.0C-53.1,-36.2 -54.7,-38.3 -56.0,-38.7C-57.3,-39.1 -58.1,-39.2 -59.8,-38.4C-61.5,-37.5 -64.2,-35.3 -66.0,-33.7C-67.8,-32.1 -69.5,-30.4 -70.6,-29.0C-71.8,-27.6 -72.3,-26.1 -73.0,-25.2C-73.7,-24.3 -73.7,-24.1 -74.6,-23.6C-75.5,-23.0 -77.0,-22.0 -78.6,-22.0C-80.1,-22.0 -82.4,-23.0 -84.0,-23.6C-85.5,-24.1 -86.6,-25.3 -87.9,-25.2C-89.2,-25.1 -90.4,-23.8 -91.7,-22.9C-93.0,-21.9 -94.5,-20.8 -95.7,-19.6C-96.9,-18.5 -97.7,-17.4 -98.8,-15.8C-99.8,-14.2 -101.8,-11.4 -102.0,-10.0C-102.2,-8.5 -101.0,-8.3 -99.9,-7.2C-98.9,-6.1 -96.8,-4.7 -95.6,-3.5C-94.3,-2.3 -92.7,-1.6 -92.3,0.0C-92.0,1.6 -93.3,3.7 -93.4,5.9C-93.4,8.1 -93.0,10.7 -92.6,13.2C-92.3,15.6 -91.4,17.8 -91.2,20.5C-90.9,23.2 -91.2,26.6 -91.2,29.3C-91.2,32.0 -91.6,34.5 -91.2,36.6C-90.7,38.7 -89.9,40.7 -88.2,41.7C-86.5,42.8 -83.3,42.8 -80.9,42.8C-78.5,42.8 -75.8,42.1 -73.6,41.7C-71.4,41.4 -69.7,41.2 -67.7,40.7C-65.8,40.2 -63.8,39.6 -61.9,38.8C-59.9,38.0 -57.7,37.1 -56.0,35.9C-54.3,34.7 -52.9,33.1 -51.6,31.5C-50.3,29.9 -48.9,28.2 -47.9,26.4C-47.0,24.5 -46.2,20.8 -45.7,20.5C-45.3,20.3 -44.8,22.9 -45.0,24.9C-45.3,26.9 -46.4,30.3 -47.2,32.2C-48.1,34.2 -48.9,35.3 -50.1,36.6C-51.4,38.0 -53.6,39.1 -54.5,40.3C-55.5,41.5 -54.8,42.8 -56.0,43.9C-57.2,45.0 -60.3,45.9 -61.9,46.9C-63.4,47.9 -64.2,48.3 -65.5,49.8C-66.9,51.3 -68.6,53.7 -69.9,55.7C-71.3,57.6 -72.6,59.6 -73.6,61.5C-74.6,63.5 -75.6,65.2 -75.8,67.4C-76.0,69.6 -75.4,73.0 -74.8,74.7C-74.1,76.4 -73.3,77.5 -72.1,77.3C-70.9,77.2 -69.2,74.8 -67.7,73.7C-66.3,72.6 -64.8,71.6 -63.3,70.8C-61.9,69.9 -60.6,69.0 -58.9,68.6C-57.2,68.1 -55.0,68.1 -53.1,67.8C-51.1,67.6 -48.9,67.6 -47.2,67.1C-45.5,66.6 -44.3,65.0 -42.8,64.9C-41.4,64.8 -40.1,66.4 -38.4,66.4C-36.7,66.4 -34.4,65.3 -32.6,64.9C-30.7,64.5 -29.9,64.3 -27.4,63.7C-25.0,63.2 -21.0,62.5 -17.9,61.5C-14.9,60.5 -12.2,59.2 -9.1,57.9C-6.1,56.5 -3.0,54.1 0.2,53.5C3.5,52.8 7.8,54.3 10.2,53.9C12.7,53.5 12.9,51.9 14.9,50.8C16.9,49.8 19.8,48.7 21.9,47.6C24.0,46.6 25.8,45.9 27.5,44.5C29.2,43.1 30.8,41.1 32.2,39.1C33.6,37.2 34.7,34.5 36.0,32.8C37.3,31.1 38.6,29.1 39.9,28.9C41.3,28.6 42.1,30.3 43.9,31.2C45.7,32.1 48.7,33.9 50.9,34.4C53.1,35.0 55.7,33.9 57.1,34.4C58.5,34.9 58.4,36.5 59.4,37.5C60.5,38.5 61.9,39.8 63.4,40.6C64.8,41.4 66.5,42.2 68.1,42.2C69.6,42.2 71.2,41.4 72.8,40.6C74.3,39.8 75.8,39.1 77.4,37.5C79.1,35.9 81.3,33.5 82.9,31.2C84.4,28.9 85.9,26.0 86.8,23.4C87.7,20.8 88.1,18.4 88.3,15.7C88.5,13.0 88.0,9.9 87.8,7.3C87.7,4.7 87.4,1.2 87.6,0.0C87.7,-1.2 89.2,1.0 89.0,0.0C88.9,-1.0 88.2,-4.1 86.7,-5.9C85.1,-7.6 82.4,-9.5 79.6,-10.5C76.9,-11.6 72.9,-11.1 70.3,-12.0C67.7,-12.9 65.8,-14.3 64.0,-16.0C62.1,-17.7 60.8,-20.0 59.3,-22.3C57.7,-24.5 55.5,-27.0 54.6,-29.3C53.7,-31.6 54.1,-33.7 53.9,-36.3C53.6,-38.9 54.7,-42.5 53.0,-44.8C51.3,-47.2 46.5,-48.4 43.6,-50.4C40.8,-52.3 38.2,-54.6 35.8,-56.5C33.5,-58.5 31.6,-60.2 29.5,-62.1C27.5,-64.0 26.7,-66.3 23.7,-68.0C20.6,-69.7 12.9,-70.9 11.2,-72.4C9.5,-73.8 12.6,-75.5 13.4,-76.8C14.3,-78.0 14.7,-78.5 16.4,-79.7C18.1,-80.9 21.1,-82.9 23.7,-84.1C26.3,-85.3 30.5,-85.8 31.7,-87.0C33.0,-88.2 32.6,-90.2 31.0,-91.4C29.4,-92.6 24.9,-93.0 22.2,-94.3C19.5,-95.7 17.8,-99.1 14.9,-99.5C12.0,-99.8 7.7,-97.9 4.6,-96.5C1.6,-95.2 -1.0,-92.5 -3.3,-91.4C-5.6,-90.3 -7.3,-91.2 -9.1,-89.9C-11.0,-88.7 -13.8,-85.8 -14.3,-84.1C-14.7,-82.4 -13.5,-81.2 -12.1,-79.7C-10.6,-78.2 -7.2,-76.5 -5.5,-75.3C-3.8,-74.1 -2.6,-73.0 -1.8,-72.4C-1.0,-71.7 -0.2,-71.6 -0.6,-71.2Z" fill="#4579FF"/>
<path d="M-0.6,-63.4C-1.5,-63.5 -3.3,-63.1 -4.6,-62.7C-5.9,-62.3 -6.6,-61.6 -8.5,-61.1C-10.5,-60.5 -13.7,-60.1 -16.3,-59.5C-18.9,-58.8 -21.8,-57.9 -24.1,-57.1C-26.3,-56.3 -28.0,-55.6 -29.8,-54.8C-31.6,-54.0 -33.1,-53.5 -34.8,-52.4C-36.4,-51.4 -38.2,-49.9 -39.4,-48.6C-40.7,-47.3 -41.7,-46.1 -42.5,-44.7C-43.3,-43.2 -44.0,-41.6 -44.1,-40.0C-44.3,-38.4 -42.9,-35.9 -43.4,-35.3C-43.9,-34.7 -45.8,-36.1 -47.2,-36.2C-48.6,-36.3 -50.6,-35.9 -51.9,-35.7C-53.2,-35.6 -54.5,-35.9 -55.1,-35.3C-55.8,-34.7 -55.1,-33.1 -55.9,-32.2C-56.6,-31.3 -58.6,-30.2 -59.8,-29.9C-61.0,-29.6 -62.3,-31.0 -62.9,-30.6C-63.5,-30.2 -63.1,-27.9 -63.6,-27.5C-64.1,-27.1 -65.0,-28.3 -66.0,-28.3C-66.9,-28.3 -68.4,-27.8 -69.2,-27.5C-70.0,-27.3 -70.0,-27.6 -70.6,-27.0C-71.3,-26.3 -72.2,-24.5 -73.0,-23.6C-73.8,-22.6 -74.2,-21.8 -75.3,-21.2C-76.5,-20.7 -78.5,-20.4 -80.0,-20.5C-81.6,-20.6 -83.3,-21.9 -84.7,-22.0C-86.2,-22.1 -87.5,-21.9 -88.7,-21.2C-89.8,-20.6 -90.7,-19.3 -91.7,-18.2C-92.8,-17.0 -94.2,-15.6 -95.0,-14.2C-95.7,-12.8 -96.8,-11.4 -96.4,-10.0C-96.0,-8.5 -93.5,-7.4 -92.6,-5.7C-91.7,-4.1 -91.3,-1.9 -91.2,0.0C-91.0,1.9 -91.9,3.7 -91.9,5.9C-91.9,8.1 -91.5,10.7 -91.2,13.2C-90.8,15.6 -89.9,17.8 -89.7,20.5C-89.4,23.2 -89.7,26.9 -89.7,29.3C-89.7,31.7 -90.2,33.3 -89.7,35.2C-89.2,37.0 -88.2,39.3 -86.8,40.3C-85.3,41.3 -83.1,41.3 -80.9,41.3C-78.7,41.3 -75.8,40.7 -73.6,40.3C-71.4,39.9 -69.4,39.4 -67.7,38.8C-66.0,38.2 -64.5,37.6 -63.3,36.6C-62.1,35.6 -61.6,34.2 -60.4,33.0C-59.2,31.7 -57.5,30.6 -56.0,29.3C-54.5,28.0 -53.1,26.4 -51.6,24.9C-50.1,23.4 -48.4,21.7 -47.2,20.5C-46.0,19.3 -44.9,17.1 -44.6,17.9C-44.2,18.6 -44.6,22.5 -45.0,24.9C-45.5,27.3 -46.4,30.3 -47.2,32.2C-48.1,34.2 -48.9,35.3 -50.1,36.6C-51.4,38.0 -53.6,39.1 -54.5,40.3C-55.5,41.5 -54.8,42.8 -56.0,43.9C-57.2,45.0 -60.3,45.9 -61.9,46.9C-63.4,47.9 -64.2,48.3 -65.5,49.8C-66.9,51.3 -68.6,53.7 -69.9,55.7C-71.3,57.6 -72.6,59.6 -73.6,61.5C-74.6,63.5 -75.6,65.2 -75.8,67.4C-76.0,69.6 -75.4,73.0 -74.8,74.7C-74.1,76.4 -73.3,77.5 -72.1,77.3C-70.9,77.2 -69.2,74.8 -67.7,73.7C-66.3,72.6 -64.8,71.6 -63.3,70.8C-61.9,69.9 -60.6,69.0 -58.9,68.6C-57.2,68.1 -55.0,68.1 -53.1,67.8C-51.1,67.6 -48.9,67.6 -47.2,67.1C-45.5,66.6 -44.3,65.0 -42.8,64.9C-41.4,64.8 -40.1,66.4 -38.4,66.4C-36.7,66.4 -35.0,66.0 -32.6,64.9C-30.1,63.8 -26.7,61.3 -23.8,59.8C-20.8,58.2 -17.9,57.1 -15.0,55.7C-12.1,54.2 -8.7,52.4 -6.2,51.3C-3.7,50.2 -2.5,49.3 0.2,49.1C3.0,48.9 7.8,50.2 10.2,50.0C12.7,49.7 13.3,48.4 14.9,47.6C16.5,46.8 17.8,46.3 19.6,45.3C21.4,44.2 24.2,43.1 25.9,41.5C27.6,39.8 28.5,37.0 29.8,35.2C31.1,33.3 32.4,31.9 33.6,30.5C34.9,29.0 36.0,26.6 37.6,26.5C39.2,26.4 41.1,29.0 43.0,29.7C45.0,30.5 47.4,31.2 49.3,31.2C51.3,31.2 52.9,29.2 54.7,29.7C56.5,30.3 58.7,33.1 60.2,34.4C61.6,35.7 62.1,36.7 63.4,37.5C64.7,38.3 66.5,39.1 68.1,39.1C69.6,39.1 71.3,38.8 72.8,37.5C74.2,36.2 75.3,33.0 76.6,31.2C77.9,29.4 79.4,28.3 80.5,26.5C81.7,24.7 82.9,22.8 83.6,20.4C84.3,17.9 84.5,14.1 84.5,11.7C84.5,9.3 83.7,7.8 83.5,5.9C83.2,3.9 83.6,1.0 82.9,0.0C82.1,-1.0 79.6,0.3 78.8,0.0C78.0,-0.3 78.7,-0.9 78.0,-1.9C77.4,-2.9 76.8,-4.8 75.0,-5.9C73.1,-6.9 69.4,-6.9 67.0,-8.2C64.7,-9.5 62.6,-11.4 60.9,-13.6C59.2,-15.8 58.3,-18.8 56.9,-21.4C55.6,-24.0 53.9,-26.8 53.0,-29.3C52.1,-31.8 51.8,-33.7 51.5,-36.3C51.3,-38.9 53.1,-42.6 51.5,-44.8C50.0,-47.0 45.0,-47.9 42.1,-49.5C39.3,-51.1 36.6,-52.4 34.2,-54.2C31.9,-56.0 30.2,-58.6 28.1,-60.5C26.0,-62.4 24.0,-65.0 21.8,-65.8C19.6,-66.5 17.3,-65.4 14.9,-65.0C12.5,-64.7 9.9,-64.4 7.6,-63.9C5.2,-63.4 2.2,-62.2 0.8,-62.1C-0.5,-62.0 0.3,-63.3 -0.6,-63.4Z" fill="#86A7FF"/>
<path d="M-0.6,-53.6C-3.2,-53.6 -5.9,-53.5 -8.5,-53.3C-11.2,-53.1 -13.7,-52.9 -16.3,-52.4C-18.9,-52.0 -21.8,-51.0 -24.1,-50.4C-26.3,-49.8 -28.0,-49.4 -29.8,-48.9C-31.6,-48.4 -33.3,-48.3 -34.8,-47.5C-36.2,-46.6 -37.7,-45.3 -38.7,-43.9C-39.8,-42.6 -40.5,-40.8 -41.1,-39.3C-41.6,-37.7 -41.1,-35.4 -41.8,-34.6C-42.5,-33.7 -43.9,-34.1 -45.0,-34.3C-46.2,-34.5 -47.1,-35.6 -48.7,-35.7C-50.3,-35.9 -53.4,-36.0 -54.5,-35.3C-55.7,-34.6 -55.6,-33.0 -55.7,-31.3C-55.8,-29.7 -54.6,-26.2 -55.1,-25.5C-55.7,-24.8 -57.6,-26.2 -58.9,-27.0C-60.3,-27.7 -61.9,-29.3 -63.3,-29.9C-64.8,-30.5 -66.5,-31.1 -67.7,-30.6C-68.9,-30.1 -70.2,-28.1 -70.6,-27.0C-71.1,-25.8 -70.3,-24.8 -70.6,-23.6C-71.0,-22.4 -71.9,-20.5 -73.0,-19.6C-74.0,-18.7 -75.5,-18.2 -76.9,-18.2C-78.4,-18.2 -80.1,-19.2 -81.6,-19.6C-83.2,-20.0 -85.0,-20.8 -86.3,-20.5C-87.6,-20.3 -88.5,-19.2 -89.4,-18.2C-90.3,-17.1 -91.4,-15.6 -91.7,-14.2C-92.1,-12.8 -92.1,-11.7 -91.7,-10.0C-91.4,-8.2 -90.3,-5.2 -89.7,-3.5C-89.1,-1.9 -88.2,-1.6 -88.2,0.0C-88.2,1.6 -90.2,4.6 -89.7,5.9C-89.2,7.1 -87.5,7.3 -85.3,7.3C-83.1,7.3 -79.1,6.2 -76.5,5.9C-73.9,5.5 -72.1,5.7 -69.9,5.1C-67.7,4.5 -65.3,2.0 -63.3,2.2C-61.4,2.4 -59.4,4.6 -58.2,6.6C-57.0,8.5 -57.1,13.1 -56.0,13.9C-54.9,14.8 -53.1,11.8 -51.6,11.7C-50.1,11.6 -48.4,12.3 -47.2,13.2C-46.0,14.0 -44.6,14.9 -44.3,16.8C-43.9,18.8 -44.5,22.3 -45.0,24.9C-45.5,27.5 -46.4,30.3 -47.2,32.2C-48.1,34.2 -48.9,35.3 -50.1,36.6C-51.4,38.0 -53.6,39.1 -54.5,40.3C-55.5,41.5 -54.8,42.8 -56.0,43.9C-57.2,45.0 -60.3,45.9 -61.9,46.9C-63.4,47.9 -64.2,48.3 -65.5,49.8C-66.9,51.3 -68.6,53.7 -69.9,55.7C-71.3,57.6 -72.6,59.6 -73.6,61.5C-74.6,63.5 -75.6,65.2 -75.8,67.4C-76.0,69.6 -75.4,73.0 -74.8,74.7C-74.1,76.4 -73.3,77.5 -72.1,77.3C-70.9,77.2 -69.2,74.8 -67.7,73.7C-66.3,72.6 -64.8,71.6 -63.3,70.8C-61.9,69.9 -60.6,69.0 -58.9,68.6C-57.2,68.1 -55.0,68.1 -53.1,67.8C-51.1,67.6 -48.9,67.6 -47.2,67.1C-45.5,66.6 -44.3,65.0 -42.8,64.9C-41.4,64.8 -40.1,66.4 -38.4,66.4C-36.7,66.4 -34.8,65.7 -32.6,64.9C-30.4,64.1 -27.4,63.4 -25.2,61.5C-23.0,59.6 -21.6,55.5 -19.4,53.5C-17.2,51.4 -14.5,50.5 -12.1,49.1C-9.6,47.6 -6.8,45.7 -4.7,44.7C-2.7,43.7 -2.2,42.8 0.2,43.2C2.7,43.6 7.8,46.4 10.2,46.9C12.7,47.4 13.2,46.9 14.9,46.1C16.6,45.4 18.9,43.6 20.5,42.2C22.0,40.7 23.5,39.3 24.3,37.5C25.1,35.7 24.9,33.0 25.2,31.2C25.4,29.4 25.1,27.8 25.9,26.5C26.7,25.2 28.2,24.2 29.8,23.4C31.5,22.7 34.0,23.1 36.0,21.8C37.9,20.5 40.2,17.1 41.6,15.7C42.9,14.3 43.8,14.6 43.9,13.3C44.0,12.0 42.6,10.0 42.3,7.8C41.9,5.5 41.8,1.9 41.9,0.0C41.9,-1.9 42.7,-2.0 42.7,-3.5C42.8,-5.1 42.0,-7.7 42.0,-9.4C42.0,-11.1 42.2,-12.1 42.7,-13.8C43.2,-15.5 43.7,-18.4 44.9,-19.6C46.1,-20.8 49.0,-20.4 50.1,-21.1C51.2,-21.8 51.4,-22.2 51.5,-23.7C51.6,-25.2 51.4,-28.5 50.6,-30.0C49.9,-31.6 47.6,-31.8 46.8,-33.1C46.0,-34.4 45.4,-36.6 46.0,-37.8C46.5,-39.0 49.1,-39.1 49.9,-40.1C50.7,-41.2 51.4,-43.2 50.6,-44.1C49.9,-45.0 46.8,-44.8 45.2,-45.7C43.7,-46.6 42.6,-49.3 41.3,-49.5C40.0,-49.8 39.0,-46.4 37.5,-47.2C35.9,-47.9 33.3,-52.8 31.9,-54.2C30.4,-55.6 30.0,-55.9 28.8,-55.8C27.6,-55.7 26.3,-54.1 24.9,-53.5C23.4,-52.8 21.8,-51.9 20.2,-51.9C18.5,-51.8 17.1,-53.0 14.9,-53.3C12.7,-53.6 9.7,-53.6 7.1,-53.6C4.5,-53.7 2.0,-53.7 -0.6,-53.6Z" fill="#B4CDFF"/>
<path d="M50.1,2.3C48.4,1.0 47.9,-6.0 47.1,-9.4C46.4,-12.8 44.8,-16.3 45.7,-18.2C46.5,-20.0 50.5,-20.8 52.3,-20.7C54.0,-20.6 55.0,-19.0 56.2,-17.6C57.4,-16.1 58.0,-13.7 59.3,-12.0C60.6,-10.3 62.4,-8.5 64.0,-7.3C65.5,-6.2 67.1,-5.9 68.7,-5.0C70.2,-4.1 72.3,-3.1 73.3,-1.9C74.4,-0.7 74.7,2.3 75.0,2.3C75.2,2.4 74.7,-2.4 75.1,-1.5C75.5,-0.6 76.9,4.9 77.4,7.8C78.0,10.6 78.3,13.6 78.2,15.7C78.0,17.8 77.5,19.8 76.6,20.4C75.7,20.9 74.7,19.1 72.8,18.8C70.8,18.4 67.2,18.3 64.8,18.0C62.5,17.7 60.0,18.2 58.7,17.1C57.4,16.1 56.8,13.0 57.1,11.7C57.3,10.4 60.2,10.3 60.2,9.4C60.2,8.5 57.6,8.1 57.1,6.3C56.6,4.5 58.3,-0.8 57.1,-1.5C55.9,-2.1 51.7,3.7 50.1,2.3Z" fill="#B4CDFF"/>
<path d="M0.2,-25.5C-1.3,-25.9 -6.1,-25.9 -9.1,-25.5C-12.2,-25.1 -15.2,-24.0 -17.9,-23.3C-20.6,-22.6 -23.2,-22.2 -25.2,-21.1C-27.3,-20.0 -29.3,-18.4 -30.4,-16.7C-31.5,-15.0 -31.2,-12.8 -31.8,-10.8C-32.4,-8.9 -33.2,-6.8 -34.0,-5.0C-34.9,-3.2 -34.8,-1.3 -37.0,0.0C-39.2,1.3 -45.6,1.5 -47.2,2.9C-48.8,4.4 -47.0,6.9 -46.5,8.8C-46.0,10.7 -45.5,13.5 -44.3,14.4C-43.1,15.3 -40.9,14.4 -39.2,14.2C-37.4,14.1 -35.9,13.5 -34.0,13.5C-32.2,13.5 -30.4,13.4 -28.2,14.2C-26.0,15.1 -23.0,18.0 -20.8,18.6C-18.6,19.2 -16.7,17.5 -15.0,17.9C-13.3,18.2 -11.6,19.4 -10.6,20.8C-9.6,22.2 -9.7,25.0 -9.1,26.4C-8.5,27.8 -7.9,28.4 -6.9,29.3C-6.0,30.2 -4.5,31.5 -3.3,31.5C-2.1,31.5 -1.3,30.9 0.2,29.3C1.8,27.7 3.9,24.2 6.1,22.0C8.3,19.8 11.5,18.1 13.4,16.1C15.4,14.2 16.9,12.2 17.8,10.3C18.8,8.3 18.9,6.1 19.3,4.4C19.7,2.7 20.0,1.3 20.0,0.0C20.0,-1.3 19.3,-1.7 19.3,-3.5C19.3,-5.3 20.5,-8.4 20.0,-10.8C19.5,-13.3 18.2,-16.5 16.4,-18.2C14.5,-19.9 11.7,-20.3 9.0,-21.1C6.4,-21.9 1.7,-22.1 0.2,-22.9C-1.2,-23.6 1.8,-25.0 0.2,-25.5Z" fill="#D7EAFF"/>
<path d="M-91.2,37.9L-90.2,33.0L-89.2,28.1L-88.2,20.3L-86.3,18.4L-84.3,20.3L-83.3,24.2L-79.4,24.7L-74.6,22.3L-71.6,19.3L-68.7,14.5L-69.7,11.5L-71.6,8.6L-68.7,5.7L-65.8,1.8L-61.9,0.8L-57.0,2.7L-55.5,6.6L-55.0,11.5L-57.0,14.5L-58.9,10.5L-61.9,8.6L-59.9,12.5L-58.0,15.4L-59.9,18.4L-62.8,22.3L-65.8,26.2L-68.7,28.1L-70.2,31.1L-70.6,35.0L-71.6,38.9L-75.5,39.8L-77.0,35.9L-77.5,33.0L-79.4,35.0L-81.4,37.9L-82.4,40.8L-85.3,41.3L-86.3,37.9L-85.8,34.0L-87.7,35.9L-88.7,39.8L-90.7,40.3Z" fill="#B4CDFF"/>
<path d="M-118.3,43.9C-118.0,41.5 -117.9,39.1 -116.8,36.6C-115.7,34.2 -113.5,31.5 -111.7,29.3C-109.8,27.1 -107.9,24.8 -105.8,23.4C-103.7,22.1 -101.0,21.2 -99.2,21.2C-97.4,21.2 -95.7,22.3 -94.8,23.4C-94.0,24.5 -93.7,26.1 -94.1,27.8C-94.5,29.5 -95.8,32.0 -97.0,33.7C-98.2,35.4 -100.3,36.6 -101.4,38.1C-102.5,39.6 -104.0,41.3 -103.6,42.5C-103.2,43.7 -99.9,44.2 -99.2,45.4C-98.5,46.6 -98.6,48.2 -99.2,49.8C-99.8,51.4 -101.3,53.8 -102.9,54.9C-104.5,56.0 -106.8,56.3 -108.7,56.4C-110.7,56.5 -113.0,56.5 -114.6,55.7C-116.2,54.8 -117.6,53.2 -118.3,51.3C-118.9,49.3 -118.5,46.4 -118.3,43.9Z" fill="#4579FF"/>
<path d="M-107.3,33.7C-106.8,31.9 -104.3,28.0 -102.9,26.4C-101.4,24.8 -99.7,24.0 -98.5,24.2C-97.3,24.3 -95.7,25.6 -95.6,27.1C-95.4,28.6 -96.8,31.4 -97.7,33.0C-98.7,34.5 -100.1,35.9 -101.4,36.6C-102.8,37.4 -104.8,37.8 -105.8,37.4C-106.8,36.9 -107.8,35.5 -107.3,33.7Z" fill="#86A7FF"/>
<path d="M-107.3,49.8C-106.8,48.7 -104.6,47.0 -103.6,46.9C-102.6,46.8 -101.4,48.1 -101.4,49.1C-101.4,50.0 -102.8,52.0 -103.6,52.7C-104.5,53.5 -105.9,54.0 -106.5,53.5C-107.1,53.0 -107.8,50.9 -107.3,49.8Z" fill="#86A7FF"/>
<path d="M-100.4,26.8C-99.8,26.0 -97.3,25.7 -96.7,26.4C-96.1,27.1 -96.2,30.2 -96.7,31.1C-97.3,31.9 -99.3,32.2 -99.9,31.5C-100.6,30.8 -100.9,27.7 -100.4,26.8Z" fill="#B4CDFF"/>
<path d="M-118.3,-4.4C-123.1,-2.4 -120.9,4.2 -121.9,7.3C-122.9,10.5 -123.1,12.9 -124.1,14.6C-125.1,16.4 -126.4,16.8 -127.8,17.6C-129.1,18.3 -130.6,18.1 -132.2,19.0C-133.8,20.0 -136.8,22.1 -137.3,23.4C-137.8,24.8 -136.7,26.7 -135.1,27.1C-133.5,27.5 -129.6,26.1 -127.8,25.6C-125.9,25.1 -125.3,24.0 -124.1,24.2C-122.9,24.3 -122.5,26.2 -120.5,26.4C-118.4,26.5 -114.1,25.5 -111.7,24.9C-109.2,24.3 -107.9,23.4 -105.8,22.7C-103.7,22.0 -101.0,20.6 -99.2,20.5C-97.4,20.4 -95.8,23.2 -94.8,22.0C-93.8,20.8 -93.5,15.9 -93.4,13.2C-93.2,10.5 -94.2,8.8 -94.1,5.9C-94.0,2.9 -88.6,-2.7 -92.6,-4.4C-96.7,-6.1 -113.4,-6.3 -118.3,-4.4Z" fill="#002FE2"/>
<path d="M-118.3,0.9C-122.2,0.1 -117.9,-1.9 -116.1,-3.5C-114.2,-5.1 -110.0,-8.3 -107.3,-8.6C-104.6,-9.0 -101.9,-6.8 -99.9,-5.7C-98.0,-4.6 -96.8,-3.1 -95.6,-2.1C-94.3,-1.0 -88.8,0.4 -92.6,0.9C-96.4,1.4 -114.4,1.6 -118.3,0.9Z" fill="#002FE2"/>
<path d="M-44.3,17.6L-39.2,13.9L-34.0,13.2L-28.2,13.9L-20.8,18.3L-15.0,17.6L-10.6,20.5L-9.1,26.4L-6.2,28.6L-9.1,33.0L-12.8,36.6L-14.3,42.5L-16.5,48.3L-19.4,52.0L-22.3,55.7L-24.5,60.1L-27.4,63.0L-32.6,64.5L-38.4,65.9L-42.8,64.5L-47.2,66.7L-53.1,67.4L-58.9,68.1L-63.3,70.3L-67.7,73.2L-72.1,76.9L-74.3,74.7L-75.8,67.4L-73.6,61.5L-69.9,55.7L-65.5,49.8L-61.9,46.9L-56.0,43.9L-54.5,40.3L-50.1,36.6L-47.2,32.2L-45.0,24.9Z" fill="#FFEADA" stroke="#D7EAFF" stroke-width="1.6"/>
<path d="M-38.4,22.0C-37.2,21.1 -35.5,19.4 -33.3,19.0C-31.1,18.7 -27.7,19.2 -25.2,19.8C-22.8,20.4 -20.2,21.1 -18.6,22.7C-17.1,24.3 -16.4,27.1 -16.2,29.3C-16.0,31.5 -17.0,33.6 -17.5,35.9C-17.9,38.2 -18.3,41.0 -18.9,43.2C-19.6,45.4 -20.3,47.1 -21.1,49.1C-22.0,51.0 -22.8,53.2 -24.1,54.9C-25.3,56.6 -26.7,58.2 -28.5,59.3C-30.2,60.4 -32.6,60.9 -34.8,61.5C-36.9,62.1 -39.3,62.8 -41.4,63.0C-43.4,63.2 -45.3,62.5 -47.2,62.7C-49.2,62.9 -51.1,63.6 -53.1,64.2C-55.0,64.7 -57.1,65.3 -58.9,65.9C-60.8,66.6 -62.5,67.3 -64.1,68.1C-65.6,68.9 -67.2,70.0 -68.5,70.6C-69.7,71.2 -70.9,72.3 -71.4,71.8C-71.9,71.2 -71.9,69.1 -71.4,67.4C-70.9,65.7 -69.7,63.4 -68.5,61.5C-67.2,59.7 -65.8,58.2 -64.1,56.4C-62.3,54.6 -60.2,52.2 -58.2,50.5C-56.2,48.8 -54.0,47.6 -52.3,46.1C-50.6,44.7 -49.2,43.3 -47.9,41.7C-46.7,40.2 -45.6,38.7 -44.6,36.6C-43.6,34.5 -42.7,31.4 -42.1,29.3C-41.4,27.2 -41.2,25.4 -40.6,24.2C-40.0,22.9 -39.6,22.8 -38.4,22.0Z" fill="#FFCDB8"/>
<path d="M-44.3,2.9C-43.9,1.0 -44.3,-0.7 -40.6,-1.5C-37.0,-2.2 -25.4,-3.2 -22.3,-1.5C-19.2,0.2 -21.9,6.5 -22.0,8.8C-22.1,11.1 -22.0,11.7 -23.0,12.5C-24.1,13.2 -26.3,13.2 -28.2,13.2C-30.0,13.1 -32.2,12.2 -34.0,12.2C-35.9,12.1 -37.7,13.2 -39.2,12.9C-40.6,12.6 -42.0,11.9 -42.8,10.3C-43.7,8.6 -44.6,4.9 -44.3,2.9Z" fill="#FFEADA"/>
<path d="M-38.4,0.9C-40.7,0.3 -37.4,-2.1 -36.2,-2.8C-35.0,-3.5 -32.7,-3.6 -31.1,-3.5C-29.5,-3.4 -28.2,-2.8 -26.7,-2.1C-25.2,-1.3 -20.4,0.4 -22.3,0.9C-24.3,1.4 -36.1,1.5 -38.4,0.9Z" fill="#FFEADA"/>
<path d="M-86.8,-78.2C-86.3,-79.2 -83.1,-80.5 -80.9,-81.2C-78.7,-81.8 -76.3,-81.4 -73.6,-81.9C-70.9,-82.4 -67.2,-83.6 -64.8,-84.1C-62.3,-84.6 -60.4,-85.3 -58.9,-84.8C-57.5,-84.3 -56.0,-82.5 -56.0,-81.2C-56.0,-79.8 -57.0,-77.6 -58.9,-76.8C-60.9,-75.9 -64.8,-76.3 -67.7,-76.0C-70.6,-75.8 -73.8,-75.4 -76.5,-75.3C-79.2,-75.2 -82.1,-74.8 -83.8,-75.3C-85.5,-75.8 -87.3,-77.2 -86.8,-78.2Z" fill="#4579FF"/>
<path d="M-83.8,-77.9C-84.3,-78.5 -81.4,-79.4 -79.4,-80.0C-77.5,-80.5 -74.8,-80.6 -72.1,-81.2C-69.4,-81.7 -65.5,-83.1 -63.3,-83.3C-61.1,-83.6 -59.5,-83.5 -58.9,-82.6C-58.3,-81.8 -58.2,-79.1 -59.7,-78.2C-61.1,-77.3 -64.9,-77.4 -67.7,-77.2C-70.5,-77.0 -73.8,-76.6 -76.5,-76.8C-79.2,-76.9 -83.3,-77.4 -83.8,-77.9Z" fill="#86A7FF"/>
<path d="M-70.6,-80.4C-69.8,-81.2 -66.5,-82.6 -64.8,-82.9C-63.0,-83.2 -60.8,-83.1 -60.1,-82.3C-59.4,-81.6 -59.7,-79.3 -60.7,-78.5C-61.7,-77.8 -64.7,-77.9 -66.3,-77.8C-67.8,-77.7 -69.2,-77.5 -69.9,-77.9C-70.6,-78.4 -71.5,-79.6 -70.6,-80.4Z" fill="#D7EAFF"/>
<path d="M-85.3,-79.0C-84.9,-79.5 -81.9,-80.2 -80.9,-80.0C-79.9,-79.8 -78.8,-78.5 -79.1,-77.9C-79.5,-77.4 -82.1,-76.6 -83.1,-76.8C-84.1,-76.9 -85.7,-78.4 -85.3,-79.0Z" fill="#D7EAFF"/>
<path d="M11.2,95.2C12.2,92.8 14.8,91.3 16.4,89.4C17.9,87.4 19.2,85.1 20.8,83.5C22.3,81.9 24.4,80.1 25.9,79.8C27.3,79.6 29.2,80.7 29.5,82.0C29.9,83.4 29.1,85.9 28.1,87.9C27.1,89.8 24.9,91.8 23.7,93.8C22.5,95.7 21.7,97.7 20.8,99.6C19.8,101.6 19.0,104.0 17.8,105.5C16.6,106.9 14.7,108.6 13.4,108.4C12.2,108.2 10.9,106.2 10.5,104.0C10.1,101.8 10.3,97.7 11.2,95.2Z" fill="#4579FF"/>
<path d="M6.9,35.4L10.8,32.0L15.2,30.6L16.7,33.0L13.7,35.0L14.2,37.9L17.6,38.9L17.1,41.3L14.7,40.3L13.7,45.2L10.8,42.8L8.4,39.4Z" fill="#D7EAFF"/>
<path d="M42.0,17.4L43.5,16.4L45.5,20.3L46.4,25.2L47.9,30.1L50.2,34.0L53.8,37.9L56.2,40.3L57.7,41.3L56.2,42.8L52.8,41.3L49.9,39.4L46.9,35.0L44.0,29.1L42.0,24.2L41.6,18.4Z" fill="#D7EAFF"/>
<path d="M30.8,-2.1L34.2,-6.1L38.1,-10.0L41.1,-10.9L42.5,-9.0L40.1,-6.1L37.2,-3.1L34.2,-1.2Z" fill="#D7EAFF"/>
<path d="M-27.8,83.7C-27.6,83.1 -26.4,82.7 -25.8,82.7C-25.2,82.7 -24.3,83.2 -24.2,83.7C-24.0,84.2 -24.4,85.2 -24.8,85.6C-25.3,86.1 -26.6,86.5 -27.1,86.1C-27.6,85.8 -28.0,84.3 -27.8,83.7Z" fill="#86A7FF"/>
<use href="#coast"/>
</g>
<circle cx="0" cy="0" r="144.1" fill="none" stroke="#6a6a6a" stroke-width="1"/>
</g>
<g transform="translate(767.75,290.0)">
<g clip-path="url(#cc)">
<circle cx="0" cy="0" r="144.6" fill="#1652FF"/>
<path d="M-127.8,-79.7L-113.1,-85.3L-105.8,-84.8L-98.5,-83.3L-91.2,-82.3L-85.3,-81.2L-79.4,-81.4L-73.6,-81.9L-67.7,-82.6L-61.9,-85.5L-56.0,-87.7L-53.8,-91.4L-52.3,-95.1L-48.7,-95.8L-47.2,-100.2L-46.5,-104.6L-44.3,-110.4L-40.6,-115.6L-37.0,-120.0L-33.3,-122.9L-28.2,-120.0L-17.9,-118.5L-3.3,-117.0L3.2,-113.4L1.7,-101.7L0.2,-95.5L9.0,-100.2L18.6,-103.9L26.6,-103.1L33.2,-107.5L35.4,-114.8L41.3,-120.0L48.6,-125.8L55.6,-128.8L61.8,-132.4L61.8,-155.9L-135.1,-155.9L-135.1,-79.7Z" fill="#002FE2"/>
<path d="M-118.3,-84.1C-118.0,-84.9 -115.2,-87.3 -113.1,-88.5C-111.1,-89.7 -108.0,-91.2 -105.8,-91.4C-103.6,-91.7 -100.7,-90.8 -99.9,-89.9C-99.2,-89.1 -99.9,-87.0 -101.4,-86.3C-102.9,-85.5 -106.5,-86.0 -108.7,-85.5C-110.9,-85.1 -113.0,-83.6 -114.6,-83.3C-116.2,-83.1 -118.5,-83.2 -118.3,-84.1Z" fill="#0017B5"/>
<path d="M-112.4,89.4C-112.4,78.0 -107.9,86.3 -105.8,84.2C-103.7,82.2 -101.5,79.6 -99.9,76.9C-98.4,74.2 -97.7,70.7 -96.3,68.1C-94.8,65.6 -92.6,64.3 -91.2,61.5C-89.7,58.7 -89.2,53.7 -87.5,51.3C-85.8,48.8 -83.7,47.7 -80.9,46.9C-78.1,46.0 -73.5,45.8 -70.6,46.1C-67.8,46.5 -64.4,47.6 -64.1,49.1C-63.7,50.5 -66.9,52.9 -68.5,54.9C-70.0,57.0 -72.4,59.4 -73.6,61.5C-74.8,63.6 -75.6,65.2 -75.8,67.4C-76.0,69.6 -75.4,73.0 -74.8,74.7C-74.1,76.4 -73.3,77.5 -72.1,77.3C-70.9,77.2 -69.9,74.9 -67.7,73.7C-65.5,72.5 -61.9,70.3 -58.9,70.0C-55.9,69.7 -52.9,71.0 -49.7,71.8C-46.6,72.6 -43.3,73.6 -40.0,74.7C-36.8,75.8 -33.5,77.1 -30.2,78.5C-26.9,80.0 -23.7,82.1 -20.4,83.5C-17.2,84.9 -14.0,86.3 -10.7,86.9C-7.5,87.4 -4.2,87.3 -0.9,86.9C2.3,86.5 6.3,85.2 8.9,84.4C11.5,83.6 13.6,82.8 14.9,82.0C16.2,81.2 16.0,80.8 16.7,79.5C17.3,78.3 18.0,74.3 18.6,74.7C19.1,75.1 20.3,79.6 20.0,82.0C19.8,84.5 18.1,87.4 17.1,89.4C16.1,91.3 15.5,92.2 14.2,93.8C12.8,95.3 10.0,97.4 9.0,98.9C8.1,100.3 7.9,100.8 8.3,102.5C8.7,104.2 9.9,107.7 11.2,109.1C12.6,110.6 15.3,110.0 16.4,111.3C17.5,112.7 17.7,115.5 17.8,117.2C17.9,118.9 16.9,119.9 17.1,121.6C17.3,123.3 19.7,125.9 19.3,127.4C18.9,129.0 16.6,129.5 14.9,131.1C13.2,132.7 10.9,135.0 9.0,137.0C7.2,138.9 5.4,140.3 3.9,142.8C2.4,145.4 18.5,150.8 0.2,152.3C-18.0,153.9 -87.0,162.8 -105.8,152.3C-124.6,141.8 -112.4,100.7 -112.4,89.4Z" fill="#002FE2"/>
<path d="M34.7,79.1C35.4,78.7 36.6,78.6 36.9,79.8C37.1,81.1 36.4,84.4 36.1,86.4C35.9,88.5 35.0,90.6 35.4,92.3C35.8,94.0 37.1,95.8 38.3,96.7C39.6,97.5 41.3,97.9 42.7,97.4C44.2,96.9 45.8,95.3 47.1,93.8C48.5,92.2 49.6,89.1 50.8,87.9C52.0,86.7 54.0,85.4 54.4,86.4C54.9,87.4 54.4,92.0 53.7,93.8C53.0,95.5 51.4,95.7 50.1,96.7C48.7,97.7 46.9,98.6 45.7,99.6C44.4,100.6 43.0,101.6 42.7,102.5C42.5,103.5 43.3,104.6 44.2,105.5C45.0,106.3 48.0,107.1 47.9,107.7C47.7,108.3 44.3,108.0 43.5,109.1C42.6,110.2 42.6,112.8 42.7,114.3C42.9,115.7 44.7,116.9 44.2,117.9C43.7,118.9 41.0,119.3 39.8,120.1C38.6,121.0 38.2,122.3 36.9,123.0C35.5,123.8 33.3,124.0 31.7,124.5C30.2,125.0 28.6,126.0 27.3,126.0C26.1,126.0 25.3,125.2 24.4,124.5C23.6,123.8 22.2,122.9 22.2,121.6C22.2,120.2 23.7,116.9 24.4,116.5C25.2,116.0 25.8,118.5 26.6,118.7C27.5,118.8 28.7,118.0 29.5,117.2C30.4,116.3 31.1,115.0 31.7,113.5C32.4,112.1 32.8,110.2 33.2,108.4C33.6,106.6 34.2,104.2 33.9,102.5C33.7,100.8 32.4,99.6 31.7,98.1C31.1,96.7 30.4,95.5 30.3,93.8C30.2,92.0 30.6,89.8 31.0,87.9C31.4,85.9 31.9,83.5 32.5,82.0C33.1,80.6 33.9,79.5 34.7,79.1Z" fill="#002FE2"/>
<path d="M-85.3,-56.2C-86.0,-58.2 -82.9,-65.3 -80.9,-68.0C-79.0,-70.7 -76.0,-71.9 -73.6,-72.4C-71.1,-72.9 -67.2,-72.4 -66.3,-70.9C-65.3,-69.4 -66.0,-66.0 -67.7,-63.6C-69.4,-61.1 -73.6,-57.5 -76.5,-56.2C-79.4,-55.0 -84.6,-54.3 -85.3,-56.2Z" fill="#002FE2"/>
<path d="M-101.4,-25.5C-102.1,-27.0 -101.4,-32.6 -99.9,-34.3C-98.5,-36.0 -94.1,-36.5 -92.6,-35.7C-91.2,-35.0 -90.7,-31.6 -91.2,-29.9C-91.6,-28.2 -93.8,-26.2 -95.6,-25.5C-97.3,-24.8 -100.7,-24.0 -101.4,-25.5Z" fill="#002FE2"/>
<path d="M-137.3,23.4C-136.8,22.0 -133.8,19.9 -132.2,19.0C-130.6,18.2 -129.1,17.5 -127.8,18.3C-126.4,19.2 -124.1,22.8 -124.1,24.2C-124.1,25.5 -125.9,25.8 -127.8,26.4C-129.6,26.9 -133.5,28.0 -135.1,27.5C-136.7,27.1 -137.8,24.9 -137.3,23.4Z" fill="#002FE2"/>
<path d="M35.4,-98.7C36.0,-99.8 39.6,-99.7 41.3,-99.5C43.0,-99.2 45.2,-98.4 45.7,-97.3C46.1,-96.2 45.5,-93.6 44.2,-92.9C42.9,-92.1 39.1,-91.9 37.6,-92.9C36.1,-93.8 34.8,-97.6 35.4,-98.7Z" fill="#002FE2"/>
<path d="M92.5,22.0C93.1,20.5 96.1,20.5 96.9,22.0C97.8,23.4 98.3,29.3 97.7,30.8C97.1,32.2 94.1,32.2 93.3,30.8C92.4,29.3 91.9,23.4 92.5,22.0Z" fill="#002FE2"/>
<path d="M-24.4,134.5L-21.9,132.5L-22.4,128.1L-19.5,125.7L-16.5,123.7L-13.1,124.2L-12.2,127.1L-13.1,131.1L-15.1,135.0L-18.5,135.9L-21.9,136.9Z" fill="#1652FF"/>
<path d="M-10.7,112.5L-8.7,111.5L-6.3,111.0L-7.8,114.0L-4.8,114.9L-3.4,116.4L-5.8,120.3L-6.8,121.8L-4.8,123.2L-2.9,127.1L-0.9,130.1L0.5,133.5L3.5,134.5L4.9,136.4L3.5,139.8L2.0,141.8L-2.9,142.3L-6.8,141.8L-9.7,142.8L-13.1,144.2L-11.2,141.8L-8.7,139.8L-6.8,138.9L-9.2,137.9L-11.2,135.9L-10.7,133.5L-7.8,132.5L-6.8,129.1L-8.2,127.1L-10.7,126.2L-11.2,123.2L-12.2,120.3L-11.7,117.4L-13.6,114.9L-12.6,112.5Z" fill="#1652FF"/>
<path d="M-35.6,79.3L-33.6,77.3L-31.2,76.9L-31.7,79.8L-28.8,80.3L-24.8,79.3L-21.4,80.8L-20.0,83.7L-21.4,87.1L-25.3,88.1L-29.2,89.1L-32.7,87.6L-35.1,85.2L-34.1,82.2Z" fill="#1652FF"/>
<path d="M-32.9,80.6C-32.9,80.1 -32.2,79.7 -31.8,79.5C-31.3,79.2 -30.5,78.9 -30.3,79.2C-30.1,79.4 -30.8,80.6 -30.6,80.9C-30.3,81.3 -29.5,81.3 -28.8,81.2C-28.1,81.2 -27.2,80.6 -26.5,80.6C-25.7,80.7 -24.9,81.1 -24.4,81.5C-23.9,81.9 -23.6,82.6 -23.6,83.3C-23.6,83.9 -23.9,84.9 -24.4,85.3C-25.0,85.7 -26.0,85.7 -26.8,85.9C-27.6,86.1 -28.4,86.5 -29.1,86.5C-29.8,86.4 -30.6,86.0 -31.2,85.6C-31.8,85.2 -32.5,84.7 -32.6,84.1C-32.8,83.6 -32.0,83.0 -32.0,82.4C-32.1,81.8 -33.0,81.1 -32.9,80.6Z" fill="#4579FF"/>
<path d="M-27.5,84.2C-27.3,83.7 -26.4,83.2 -25.9,83.2C-25.4,83.2 -24.7,83.7 -24.6,84.2C-24.5,84.6 -24.9,85.6 -25.3,85.9C-25.8,86.3 -26.7,86.4 -27.1,86.1C-27.5,85.8 -27.7,84.7 -27.5,84.2Z" fill="#D7EAFF"/>
<path d="M-28.2,-113.4C-27.4,-115.0 -23.8,-115.3 -20.8,-115.6C-17.9,-115.8 -13.5,-115.5 -10.6,-114.8C-7.7,-114.2 -4.6,-113.4 -3.3,-111.9C-1.9,-110.4 -1.6,-107.5 -2.5,-106.1C-3.5,-104.6 -6.6,-103.6 -9.1,-103.1C-11.7,-102.6 -15.2,-102.6 -17.9,-103.1C-20.6,-103.6 -23.5,-104.3 -25.2,-106.1C-26.9,-107.8 -28.9,-111.8 -28.2,-113.4Z" fill="#4579FF"/>
<path d="M-22.3,-109.0C-21.8,-109.8 -19.6,-111.1 -17.9,-111.2C-16.2,-111.3 -13.2,-110.6 -12.1,-109.7C-11.0,-108.9 -10.5,-106.9 -11.3,-106.1C-12.2,-105.2 -15.6,-104.6 -17.2,-104.6C-18.8,-104.6 -20.0,-105.3 -20.8,-106.1C-21.7,-106.8 -22.8,-108.1 -22.3,-109.0Z" fill="#86A7FF"/>
<path d="M-18.6,-108.3C-18.4,-108.7 -16.5,-109.2 -15.7,-109.0C-15.0,-108.7 -14.0,-107.3 -14.3,-106.8C-14.5,-106.3 -16.5,-105.8 -17.2,-106.1C-17.9,-106.3 -18.9,-107.8 -18.6,-108.3Z" fill="#B4CDFF"/>
<path d="M-42.8,-101.7C-42.2,-102.6 -39.9,-103.0 -38.4,-103.1C-37.0,-103.2 -34.8,-103.4 -34.0,-102.4C-33.3,-101.4 -33.3,-98.5 -34.0,-97.3C-34.8,-96.0 -37.1,-95.1 -38.4,-95.1C-39.8,-95.1 -41.4,-96.2 -42.1,-97.3C-42.8,-98.4 -43.4,-100.7 -42.8,-101.7Z" fill="#4579FF"/>
<path d="M34.7,-109.0C34.3,-110.4 34.9,-113.0 36.1,-114.8C37.4,-116.7 39.8,-118.3 42.0,-120.0C44.2,-121.7 47.1,-123.8 49.3,-125.1C51.5,-126.4 54.4,-129.2 55.2,-128.0C55.9,-126.8 54.6,-120.7 53.7,-117.8C52.9,-114.8 51.6,-112.3 50.1,-110.4C48.5,-108.6 46.1,-107.5 44.2,-106.8C42.2,-106.1 39.9,-105.7 38.3,-106.1C36.7,-106.4 35.0,-107.5 34.7,-109.0Z" fill="#4579FF"/>
<path d="M53.0,-113.4C54.4,-117.5 54.4,-121.4 55.9,-123.6C57.4,-125.8 58.8,-126.6 61.8,-126.6C64.7,-126.6 70.6,-125.3 73.5,-123.6C76.4,-121.9 78.6,-119.2 79.4,-116.3C80.1,-113.4 78.4,-109.2 77.9,-106.1C77.4,-102.9 77.2,-99.7 76.4,-97.3C75.7,-94.8 75.2,-92.9 73.5,-91.4C71.8,-89.9 68.6,-88.2 66.2,-88.5C63.7,-88.7 60.8,-91.2 58.8,-92.9C56.9,-94.6 55.9,-97.5 54.4,-98.7C53.0,-100.0 51.3,-100.2 50.1,-100.2C48.8,-100.2 46.6,-96.5 47.1,-98.7C47.6,-100.9 51.5,-109.2 53.0,-113.4Z" fill="#4579FF"/>
<path d="M56.6,-101.7C56.6,-103.6 57.5,-106.8 58.8,-109.0C60.2,-111.2 63.0,-112.6 64.7,-114.8C66.4,-117.0 67.4,-120.9 69.1,-122.2C70.8,-123.4 73.7,-123.4 75.0,-122.2C76.2,-120.9 76.7,-117.5 76.4,-114.8C76.2,-112.2 74.7,-108.5 73.5,-106.1C72.3,-103.6 70.6,-101.9 69.1,-100.2C67.6,-98.5 66.4,-96.3 64.7,-95.8C63.0,-95.3 60.2,-96.3 58.8,-97.3C57.5,-98.2 56.6,-99.7 56.6,-101.7Z" fill="#86A7FF"/>
<path d="M91.1,-70.9C91.3,-71.8 94.1,-73.2 95.5,-73.8C96.8,-74.4 98.6,-74.9 99.1,-74.6C99.6,-74.2 99.2,-72.6 98.4,-71.6C97.5,-70.7 95.2,-68.8 94.0,-68.7C92.8,-68.6 90.8,-70.0 91.1,-70.9Z" fill="#4579FF"/>
<path d="M84.5,73.2C84.7,71.0 86.6,67.4 88.1,66.7C89.7,65.9 92.0,68.8 94.0,68.8C96.0,68.8 97.9,66.4 99.9,66.7C101.8,66.9 104.5,68.7 105.7,70.3C106.9,71.9 107.7,74.5 107.2,76.2C106.7,77.9 104.7,80.0 102.8,80.6C100.8,81.2 97.4,79.6 95.5,79.8C93.5,80.1 92.5,82.0 91.1,82.0C89.6,82.0 87.8,81.3 86.7,79.8C85.6,78.4 84.2,75.4 84.5,73.2Z" fill="#4579FF"/>
<path d="M66.9,89.4C67.5,88.3 70.4,88.9 72.0,87.9C73.6,86.9 75.4,83.3 76.4,83.5C77.4,83.7 78.4,87.6 77.9,89.4C77.4,91.1 75.1,92.9 73.5,93.8C71.9,94.6 69.5,95.2 68.4,94.5C67.3,93.8 66.3,90.5 66.9,89.4Z" fill="#4579FF"/>
<path d="M63.2,108.4C63.7,106.8 67.1,104.0 69.1,102.5C71.0,101.1 72.8,101.1 75.0,99.6C77.2,98.1 80.1,95.9 82.3,93.8C84.5,91.6 86.4,88.4 88.1,86.4C89.8,84.5 91.3,81.8 92.5,82.0C93.8,82.3 95.7,85.7 95.5,87.9C95.2,90.1 92.8,92.8 91.1,95.2C89.4,97.7 86.7,100.3 85.2,102.5C83.7,104.7 83.5,106.4 82.3,108.4C81.1,110.4 78.9,114.3 77.9,114.3C76.9,114.3 77.6,109.3 76.4,108.4C75.2,107.5 72.3,108.5 70.6,109.1C68.9,109.7 67.4,112.2 66.2,112.1C64.9,111.9 62.7,110.0 63.2,108.4Z" fill="#4579FF"/>
<path d="M109.4,46.9C109.1,45.4 110.5,39.6 111.6,36.6C112.7,33.7 114.5,30.3 116.0,29.3C117.4,28.3 120.1,29.1 120.4,30.8C120.6,32.5 118.7,37.1 117.4,39.6C116.2,42.0 114.4,44.2 113.0,45.4C111.7,46.6 109.6,48.3 109.4,46.9Z" fill="#4579FF"/>
<path d="M105.7,54.2C106.0,53.2 108.5,51.6 109.4,52.0C110.2,52.4 111.1,55.4 110.8,56.4C110.6,57.4 108.8,58.2 107.9,57.9C107.1,57.5 105.5,55.2 105.7,54.2Z" fill="#4579FF"/>
<path d="M104.3,63.0C104.6,62.3 106.6,61.2 107.2,61.5C107.8,61.9 108.3,64.5 107.9,65.2C107.5,65.9 105.6,66.3 105.0,65.9C104.4,65.6 103.9,63.7 104.3,63.0Z" fill="#4579FF"/>
<path d="M121.8,19.0C122.4,18.4 124.9,17.8 125.5,18.3C126.1,18.8 126.1,21.4 125.5,22.0C124.9,22.6 122.4,22.5 121.8,22.0C121.2,21.5 121.2,19.7 121.8,19.0Z" fill="#4579FF"/>
<path d="M45.7,110.6C46.0,109.4 48.5,109.0 49.3,109.9C50.2,110.7 51.2,114.5 50.8,115.7C50.4,116.9 48.0,118.0 47.1,117.2C46.3,116.3 45.3,111.8 45.7,110.6Z" fill="#4579FF"/>
<path d="M-91.2,-76.8C-90.5,-77.7 -87.5,-77.7 -86.8,-76.8C-86.0,-75.8 -86.2,-71.9 -86.8,-70.9C-87.4,-69.9 -89.7,-69.9 -90.4,-70.9C-91.2,-71.9 -91.8,-75.8 -91.2,-76.8Z" fill="#4579FF"/>
<path d="M-76.5,-81.2C-75.5,-81.9 -71.6,-81.9 -70.6,-81.2C-69.7,-80.4 -69.7,-77.5 -70.6,-76.8C-71.6,-76.0 -75.5,-76.0 -76.5,-76.8C-77.5,-77.5 -77.5,-80.4 -76.5,-81.2Z" fill="#4579FF"/>
<path d="M0.2,-70.2C-0.8,-66.7 -2.6,-68.3 -5.5,-68.0C-8.4,-67.6 -14.6,-68.7 -17.2,-68.0C-19.7,-67.2 -19.5,-64.8 -20.8,-63.6C-22.2,-62.4 -23.3,-61.6 -25.2,-60.6C-27.2,-59.7 -29.9,-58.7 -32.6,-57.7C-35.2,-56.7 -38.7,-55.8 -41.4,-54.8C-44.0,-53.8 -47.0,-53.1 -48.7,-51.9C-50.4,-50.6 -50.8,-49.2 -51.6,-47.5C-52.5,-45.8 -52.6,-43.1 -53.8,-41.6C-55.0,-40.1 -57.1,-39.9 -58.9,-38.7C-60.8,-37.5 -63.0,-35.5 -64.8,-34.3C-66.6,-33.1 -68.5,-32.8 -69.9,-31.3C-71.4,-29.9 -72.0,-27.0 -73.6,-25.5C-75.2,-24.0 -77.5,-23.3 -79.4,-22.6C-81.4,-21.8 -83.3,-21.8 -85.3,-21.1C-87.3,-20.4 -88.5,-18.4 -91.2,-18.2C-93.8,-17.9 -98.0,-20.4 -101.4,-19.6C-104.8,-18.9 -108.9,-17.0 -111.7,-13.8C-114.5,-10.5 -116.5,-3.5 -118.3,0.0C-120.0,3.5 -120.9,4.9 -121.9,7.3C-122.9,9.8 -123.1,12.8 -124.1,14.6C-125.1,16.5 -128.4,17.0 -127.8,18.3C-127.2,19.7 -122.4,21.5 -120.5,22.7C-118.5,23.9 -115.9,24.3 -116.1,25.6C-116.2,27.0 -120.2,28.9 -121.2,30.8C-122.2,32.6 -121.8,33.9 -121.9,36.6C-122.0,39.3 -122.4,43.7 -121.9,46.9C-121.4,50.0 -120.5,53.0 -119.0,55.7C-117.5,58.3 -115.1,61.5 -113.1,63.0C-111.2,64.5 -108.5,64.9 -107.3,64.5C-106.0,64.0 -106.8,61.4 -105.8,60.1C-104.8,58.7 -102.6,58.0 -101.4,56.4C-100.2,54.8 -99.3,52.4 -98.5,50.5C-97.6,48.7 -95.8,46.6 -96.3,45.4C-96.8,44.2 -100.9,44.4 -101.4,43.2C-101.9,42.0 -100.6,39.7 -99.2,38.1C-97.9,36.5 -94.7,33.9 -93.4,33.7C-92.0,33.4 -92.0,35.3 -91.2,36.6C-90.3,38.0 -89.9,40.7 -88.2,41.7C-86.5,42.8 -83.3,42.8 -80.9,42.8C-78.5,42.8 -75.8,42.1 -73.6,41.7C-71.4,41.4 -69.7,41.2 -67.7,40.7C-65.8,40.2 -63.8,39.6 -61.9,38.8C-59.9,38.0 -57.7,37.1 -56.0,35.9C-54.3,34.7 -52.9,33.1 -51.6,31.5C-50.3,29.9 -48.9,28.2 -47.9,26.4C-47.0,24.5 -46.2,20.8 -45.7,20.5C-45.3,20.3 -44.8,22.9 -45.0,24.9C-45.3,26.9 -46.4,30.3 -47.2,32.2C-48.1,34.2 -48.9,35.3 -50.1,36.6C-51.4,38.0 -53.6,39.1 -54.5,40.3C-55.5,41.5 -54.8,42.8 -56.0,43.9C-57.2,45.0 -60.3,45.9 -61.9,46.9C-63.4,47.9 -64.2,48.3 -65.5,49.8C-66.9,51.3 -68.6,53.7 -69.9,55.7C-71.3,57.6 -72.6,59.6 -73.6,61.5C-74.6,63.5 -75.6,65.2 -75.8,67.4C-76.0,69.6 -75.4,73.0 -74.8,74.7C-74.1,76.4 -73.3,77.5 -72.1,77.3C-70.9,77.2 -69.2,74.8 -67.7,73.7C-66.3,72.6 -64.8,71.6 -63.3,70.8C-61.9,69.9 -60.6,69.0 -58.9,68.6C-57.2,68.1 -55.0,68.1 -53.1,67.8C-51.1,67.6 -49.4,66.6 -47.2,67.1C-45.0,67.6 -42.9,70.3 -40.0,70.8C-37.2,71.2 -33.5,70.4 -30.2,69.7C-26.9,69.1 -23.7,67.4 -20.4,66.8C-17.2,66.2 -14.0,66.6 -10.7,65.9C-7.5,65.3 -4.2,63.5 -0.9,63.0C2.3,62.5 5.6,63.6 8.9,63.0C12.1,62.3 15.3,60.4 18.6,59.0C21.8,57.7 25.1,56.2 28.4,55.1C31.6,53.9 35.1,53.8 38.2,52.1C41.3,50.5 44.7,47.4 47.1,45.4C49.6,43.4 51.0,41.5 53.0,40.3C54.9,39.1 56.9,38.9 58.8,38.1C60.8,37.2 63.0,36.6 64.7,35.2C66.4,33.7 67.6,31.0 69.1,29.3C70.6,27.6 72.3,26.6 73.5,24.9C74.7,23.2 76.2,21.2 76.4,19.0C76.7,16.8 75.4,13.9 75.0,11.7C74.5,9.5 73.7,7.8 73.5,5.9C73.2,3.9 73.7,1.6 73.5,0.0C73.2,-1.6 72.8,-2.4 72.0,-3.5C71.3,-4.6 70.1,-5.0 69.1,-6.4C68.1,-7.9 67.4,-10.4 66.2,-12.3C64.9,-14.3 63.4,-16.5 61.8,-18.2C60.2,-19.9 58.0,-20.8 56.6,-22.6C55.3,-24.3 54.8,-26.7 53.7,-28.4C52.6,-30.1 50.3,-31.1 50.1,-32.8C49.8,-34.5 52.1,-36.7 52.3,-38.7C52.4,-40.6 52.6,-42.8 50.8,-44.5C49.0,-46.2 43.8,-47.5 41.3,-48.9C38.7,-50.4 37.1,-51.4 35.4,-53.3C33.7,-55.3 33.0,-58.3 31.0,-60.6C29.1,-63.0 26.9,-65.3 23.7,-67.2C20.5,-69.2 15.9,-71.3 12.0,-72.4C8.1,-73.5 2.8,-73.3 0.2,-73.8C-2.3,-74.3 -1.7,-74.8 -3.3,-75.3C-4.8,-75.8 -7.7,-75.5 -9.1,-76.8C-10.6,-78.0 -12.1,-80.7 -12.1,-82.6C-12.1,-84.6 -10.6,-87.3 -9.1,-88.5C-7.7,-89.7 -5.0,-89.9 -3.3,-89.9C-1.6,-89.9 0.5,-91.8 1.1,-88.5C1.7,-85.2 1.3,-73.6 0.2,-70.2Z" fill="#4579FF"/>
<path d="M0.2,-66.5C-1.3,-66.3 -6.1,-65.8 -9.1,-65.0C-12.2,-64.3 -15.5,-63.2 -17.9,-62.1C-20.4,-61.0 -21.6,-59.7 -23.8,-58.4C-26.0,-57.2 -28.7,-55.9 -31.1,-54.8C-33.5,-53.7 -36.2,-52.8 -38.4,-51.9C-40.6,-50.9 -42.8,-50.1 -44.3,-48.9C-45.7,-47.7 -46.5,-46.2 -47.2,-44.5C-47.9,-42.8 -47.9,-40.6 -48.7,-38.7C-49.4,-36.7 -50.4,-34.0 -51.6,-32.8C-52.8,-31.6 -54.3,-32.1 -56.0,-31.3C-57.7,-30.6 -60.2,-29.6 -61.9,-28.4C-63.6,-27.2 -64.8,-25.2 -66.3,-24.0C-67.7,-22.8 -68.9,-22.1 -70.6,-21.1C-72.4,-20.1 -74.8,-18.9 -76.5,-18.2C-78.2,-17.4 -79.4,-17.4 -80.9,-16.7C-82.4,-16.0 -84.1,-15.0 -85.3,-13.8C-86.5,-12.5 -87.5,-11.1 -88.2,-9.4C-89.0,-7.7 -89.3,-5.1 -89.7,-3.5C-90.1,-2.0 -90.1,-1.6 -90.4,0.0C-90.8,1.6 -91.8,3.7 -91.9,5.9C-92.0,8.1 -91.5,10.7 -91.2,13.2C-90.8,15.6 -89.9,17.8 -89.7,20.5C-89.4,23.2 -89.7,26.9 -89.7,29.3C-89.7,31.7 -90.2,33.3 -89.7,35.2C-89.2,37.0 -88.2,39.3 -86.8,40.3C-85.3,41.3 -83.1,41.3 -80.9,41.3C-78.7,41.3 -75.8,40.7 -73.6,40.3C-71.4,39.9 -69.4,39.4 -67.7,38.8C-66.0,38.2 -64.5,37.6 -63.3,36.6C-62.1,35.6 -61.6,34.2 -60.4,33.0C-59.2,31.7 -57.5,30.6 -56.0,29.3C-54.5,28.0 -53.1,26.4 -51.6,24.9C-50.1,23.4 -48.4,21.7 -47.2,20.5C-46.0,19.3 -44.9,17.1 -44.6,17.9C-44.2,18.6 -44.6,22.5 -45.0,24.9C-45.5,27.3 -46.4,30.3 -47.2,32.2C-48.1,34.2 -48.9,35.3 -50.1,36.6C-51.4,38.0 -53.6,39.1 -54.5,40.3C-55.5,41.5 -54.8,42.8 -56.0,43.9C-57.2,45.0 -60.3,45.9 -61.9,46.9C-63.4,47.9 -64.2,48.3 -65.5,49.8C-66.9,51.3 -68.6,53.7 -69.9,55.7C-71.3,57.6 -72.6,59.6 -73.6,61.5C-74.6,63.5 -75.6,65.2 -75.8,67.4C-76.0,69.6 -75.4,73.0 -74.8,74.7C-74.1,76.4 -73.3,77.5 -72.1,77.3C-70.9,77.2 -69.2,74.8 -67.7,73.7C-66.3,72.6 -64.8,71.6 -63.3,70.8C-61.9,69.9 -60.6,69.0 -58.9,68.6C-57.2,68.1 -55.0,68.1 -53.1,67.8C-51.1,67.6 -48.9,67.6 -47.2,67.1C-45.5,66.6 -44.3,65.0 -42.8,64.9C-41.4,64.8 -39.7,65.6 -38.4,66.4C-37.1,67.2 -37.2,70.1 -35.1,69.7C-32.9,69.3 -28.3,66.0 -25.4,63.9C-22.5,61.8 -19.9,59.2 -17.5,57.1C-15.0,55.0 -13.0,53.2 -10.7,51.3C-8.5,49.3 -6.1,47.0 -3.9,45.4C-1.6,43.8 0.6,42.6 3.0,41.7C5.5,40.9 8.2,40.6 10.8,40.3C13.4,40.0 15.9,40.5 18.6,39.8C21.2,39.2 23.9,37.6 26.5,36.6C29.1,35.6 32.0,34.3 34.2,33.7C36.5,33.1 38.1,33.7 39.8,33.0C41.5,32.2 42.7,29.2 44.2,29.3C45.7,29.4 47.1,32.5 48.6,33.7C50.1,34.9 51.3,36.6 53.0,36.6C54.7,36.6 56.9,34.9 58.8,33.7C60.8,32.5 63.2,30.8 64.7,29.3C66.2,27.8 67.6,26.6 67.6,24.9C67.6,23.2 65.7,20.8 64.7,19.0C63.7,17.3 61.8,16.4 61.8,14.6C61.8,12.9 63.7,10.5 64.7,8.8C65.7,7.1 66.9,5.9 67.6,4.4C68.4,2.9 69.8,1.3 69.1,0.0C68.4,-1.3 64.7,-2.0 63.2,-3.5C61.8,-5.1 61.2,-7.4 60.3,-9.4C59.5,-11.3 59.1,-13.3 58.1,-15.2C57.1,-17.2 55.7,-18.9 54.4,-21.1C53.2,-23.3 51.9,-26.2 50.8,-28.4C49.7,-30.6 48.2,-32.3 47.9,-34.3C47.5,-36.2 49.2,-38.4 48.6,-40.1C48.0,-41.8 46.1,-43.8 44.2,-44.5C42.2,-45.3 38.7,-43.6 36.9,-44.5C35.0,-45.5 34.7,-48.2 33.2,-50.4C31.7,-52.6 30.2,-55.5 28.1,-57.7C26.0,-59.9 23.4,-62.1 20.8,-63.6C18.1,-65.0 15.4,-66.0 12.0,-66.5C8.5,-67.0 2.2,-66.5 0.2,-66.5C-1.7,-66.5 1.8,-66.7 0.2,-66.5Z" fill="#86A7FF"/>
<path d="M0.2,-60.6C-1.3,-59.9 -6.1,-59.9 -9.1,-59.2C-12.2,-58.4 -15.2,-57.3 -17.9,-56.2C-20.6,-55.2 -22.8,-53.8 -25.2,-52.6C-27.7,-51.4 -30.5,-50.1 -32.6,-48.9C-34.6,-47.7 -36.2,-46.7 -37.7,-45.3C-39.2,-43.8 -40.4,-42.0 -41.4,-40.1C-42.3,-38.3 -42.9,-35.9 -43.5,-34.3C-44.2,-32.7 -44.0,-32.2 -45.0,-30.5C-46.0,-28.8 -48.3,-26.0 -49.7,-24.2C-51.1,-22.3 -52.6,-21.0 -53.7,-19.5C-54.7,-17.9 -55.6,-16.5 -56.0,-14.8C-56.4,-13.1 -55.5,-10.8 -56.0,-9.4C-56.5,-8.0 -57.5,-7.1 -59.1,-6.3C-60.6,-5.5 -64.1,-5.7 -65.4,-4.7C-66.7,-3.6 -67.0,-1.3 -67.0,0.0C-67.0,1.3 -67.2,2.6 -65.4,3.1C-63.5,3.6 -58.1,2.3 -56.0,3.1C-53.9,3.9 -54.5,6.7 -52.9,7.8C-51.4,8.8 -48.5,9.4 -46.6,9.4C-44.8,9.4 -42.9,7.6 -41.9,7.8C-40.9,7.9 -40.2,8.7 -40.6,10.3C-41.0,11.8 -43.5,14.4 -44.3,16.8C-45.0,19.3 -44.5,22.3 -45.0,24.9C-45.5,27.5 -46.4,30.3 -47.2,32.2C-48.1,34.2 -48.9,35.3 -50.1,36.6C-51.4,38.0 -53.6,39.1 -54.5,40.3C-55.5,41.5 -54.8,42.8 -56.0,43.9C-57.2,45.0 -60.3,45.9 -61.9,46.9C-63.4,47.9 -64.2,48.3 -65.5,49.8C-66.9,51.3 -68.6,53.7 -69.9,55.7C-71.3,57.6 -72.6,59.6 -73.6,61.5C-74.6,63.5 -75.6,65.2 -75.8,67.4C-76.0,69.6 -75.4,73.0 -74.8,74.7C-74.1,76.4 -73.3,77.5 -72.1,77.3C-70.9,77.2 -69.2,74.8 -67.7,73.7C-66.3,72.6 -64.8,71.6 -63.3,70.8C-61.9,69.9 -60.6,69.0 -58.9,68.6C-57.2,68.1 -55.0,68.1 -53.1,67.8C-51.1,67.6 -48.9,67.6 -47.2,67.1C-45.5,66.6 -44.3,65.0 -42.8,64.9C-41.4,64.8 -40.1,66.4 -38.4,66.4C-36.7,66.4 -33.6,65.0 -32.6,64.9C-31.5,64.8 -33.5,66.9 -32.1,65.9C-30.8,64.9 -26.8,61.3 -24.4,59.0C-21.9,56.7 -19.7,54.4 -17.5,52.1C-15.2,49.9 -13.0,47.5 -10.7,45.4C-8.5,43.3 -6.1,41.2 -3.9,39.6C-1.6,37.9 0.9,36.7 3.0,35.6C5.2,34.4 6.3,33.3 8.9,32.7C11.5,32.0 16.0,32.2 18.6,31.6C21.1,31.1 22.5,29.9 24.4,29.3C26.4,28.7 28.7,28.3 30.3,27.8C31.9,27.3 32.8,27.6 33.9,26.4C35.0,25.1 35.9,22.5 36.9,20.5C37.8,18.6 38.6,16.6 39.8,14.6C41.0,12.7 42.7,10.5 44.2,8.8C45.7,7.1 47.5,5.9 48.6,4.4C49.7,2.9 50.3,1.3 50.8,0.0C51.3,-1.3 51.9,-2.4 51.5,-3.5C51.2,-4.6 49.6,-5.0 48.6,-6.4C47.6,-7.9 45.4,-10.8 45.7,-12.3C45.9,-13.8 49.1,-14.0 50.1,-15.2C51.0,-16.5 51.8,-17.9 51.5,-19.6C51.3,-21.3 49.8,-23.5 48.6,-25.5C47.4,-27.4 45.9,-29.6 44.2,-31.3C42.5,-33.1 40.3,-34.3 38.3,-35.7C36.4,-37.2 33.8,-38.2 32.5,-40.1C31.1,-42.1 31.4,-45.0 30.3,-47.5C29.2,-49.9 27.7,-52.6 25.9,-54.8C24.1,-57.0 21.9,-59.2 19.3,-60.6C16.7,-62.1 13.7,-63.1 10.5,-63.6C7.3,-64.1 2.0,-64.1 0.2,-63.6C-1.5,-63.1 1.8,-61.4 0.2,-60.6Z" fill="#B4CDFF"/>
<path d="M0.2,-45.3C-1.3,-44.5 -6.1,-45.0 -9.1,-44.5C-12.2,-44.0 -15.2,-43.1 -17.9,-42.3C-20.6,-41.6 -22.8,-41.0 -25.2,-40.1C-27.7,-39.3 -30.5,-38.2 -32.6,-37.2C-34.6,-36.2 -36.3,-35.7 -37.7,-34.3C-39.0,-32.8 -40.0,-30.6 -40.6,-28.4C-41.2,-26.2 -41.5,-23.3 -41.4,-21.1C-41.2,-18.9 -40.6,-17.2 -39.9,-15.2C-39.2,-13.3 -37.7,-11.3 -37.0,-9.4C-36.2,-7.4 -35.5,-5.1 -35.5,-3.5C-35.5,-2.0 -35.0,-1.1 -37.0,0.0C-38.9,1.1 -45.6,1.5 -47.2,2.9C-48.8,4.4 -47.0,6.9 -46.5,8.8C-46.0,10.7 -45.5,13.5 -44.3,14.4C-43.1,15.3 -40.9,14.4 -39.2,14.2C-37.4,14.1 -35.9,13.5 -34.0,13.5C-32.2,13.5 -30.4,13.4 -28.2,14.2C-26.0,15.1 -23.0,18.0 -20.8,18.6C-18.6,19.2 -16.7,17.5 -15.0,17.9C-13.3,18.2 -11.6,19.4 -10.6,20.8C-9.6,22.2 -9.7,25.0 -9.1,26.4C-8.5,27.8 -7.9,28.4 -6.9,29.3C-6.0,30.2 -4.5,31.1 -3.3,31.5C-2.1,31.9 -0.3,31.7 0.2,31.5C0.8,31.2 -1.0,30.6 0.2,30.0C1.5,29.4 5.1,28.7 7.6,27.8C10.0,27.0 12.5,26.4 14.9,24.9C17.3,23.4 20.0,21.2 22.2,19.0C24.4,16.8 26.7,13.9 28.1,11.7C29.4,9.5 29.7,7.8 30.3,5.9C30.9,3.9 31.0,1.6 31.7,0.0C32.5,-1.6 34.1,-2.2 34.7,-3.5C35.3,-4.8 35.5,-6.2 35.4,-7.9C35.3,-9.6 34.9,-11.8 33.9,-13.8C33.0,-15.7 31.0,-17.7 29.5,-19.6C28.1,-21.6 26.4,-23.3 25.2,-25.5C23.9,-27.7 23.2,-30.6 22.2,-32.8C21.2,-35.0 20.5,-36.7 19.3,-38.7C18.1,-40.6 16.9,-43.1 14.9,-44.5C12.9,-46.0 10.0,-46.7 7.6,-47.5C5.1,-48.2 1.5,-49.3 0.2,-48.9C-1.0,-48.6 1.8,-46.0 0.2,-45.3Z" fill="#D7EAFF"/>
<path d="M-118.3,2.9C-119.5,4.6 -120.0,6.8 -120.5,8.8C-120.9,10.7 -121.7,13.1 -121.2,14.6C-120.7,16.2 -119.1,17.8 -117.5,18.3C-115.9,18.8 -113.4,18.2 -111.7,17.6C-110.0,17.0 -108.2,16.1 -107.3,14.6C-106.3,13.2 -105.8,10.7 -105.8,8.8C-105.8,6.8 -106.0,4.6 -107.3,2.9C-108.5,1.2 -111.3,-1.5 -113.1,-1.5C-115.0,-1.5 -117.0,1.2 -118.3,2.9Z" fill="#86A7FF"/>
<path d="M-116.1,0.9C-119.2,-0.1 -114.8,-3.6 -113.1,-5.0C-111.4,-6.3 -108.2,-7.4 -105.8,-7.2C-103.4,-6.9 -100.4,-4.9 -98.5,-3.5C-96.5,-2.2 -91.2,0.1 -94.1,0.9C-97.0,1.6 -112.9,1.9 -116.1,0.9Z" fill="#4579FF"/>
<path d="M-120.5,34.4C-120.0,33.1 -117.0,31.0 -114.6,30.0C-112.2,29.1 -108.1,28.6 -105.8,28.6C-103.5,28.6 -101.2,29.1 -100.7,30.0C-100.2,31.0 -101.3,33.4 -102.9,34.4C-104.5,35.4 -107.8,35.3 -110.2,35.9C-112.6,36.5 -115.8,38.3 -117.5,38.1C-119.2,37.8 -120.9,35.8 -120.5,34.4Z" fill="#86A7FF"/>
<path d="M-110.2,45.4C-109.5,44.2 -106.0,43.7 -104.3,43.9C-102.6,44.2 -100.2,45.7 -99.9,46.9C-99.7,48.1 -101.4,50.5 -102.9,51.3C-104.3,52.0 -107.5,52.2 -108.7,51.3C-110.0,50.3 -110.9,46.6 -110.2,45.4Z" fill="#86A7FF"/>
<path d="M-99.9,51.3C-99.3,50.3 -95.8,49.3 -94.8,49.8C-93.8,50.3 -93.5,53.2 -94.1,54.2C-94.7,55.2 -97.5,56.2 -98.5,55.7C-99.5,55.2 -100.6,52.2 -99.9,51.3Z" fill="#86A7FF"/>
<path d="M-91.2,37.9L-90.2,33.0L-89.2,28.1L-88.2,20.3L-86.3,18.4L-84.3,20.3L-83.3,24.2L-79.4,24.7L-74.6,22.3L-71.6,19.3L-68.7,14.5L-69.7,11.5L-71.6,8.6L-68.7,5.7L-65.8,1.8L-61.9,0.8L-57.0,2.7L-55.5,6.6L-55.0,11.5L-57.0,14.5L-58.9,10.5L-61.9,8.6L-59.9,12.5L-58.0,15.4L-59.9,18.4L-62.8,22.3L-65.8,26.2L-68.7,28.1L-70.2,31.1L-70.6,35.0L-71.6,38.9L-75.5,39.8L-77.0,35.9L-77.5,33.0L-79.4,35.0L-81.4,37.9L-82.4,40.8L-85.3,41.3L-86.3,37.9L-85.8,34.0L-87.7,35.9L-88.7,39.8L-90.7,40.3Z" fill="#86A7FF"/>
<path d="M-67.7,8.8C-67.0,7.1 -64.7,4.6 -63.3,4.4C-62.0,4.2 -60.4,5.9 -59.7,7.3C-58.9,8.8 -58.6,11.2 -58.9,13.2C-59.3,15.1 -60.6,17.1 -61.9,19.0C-63.1,21.0 -65.0,24.4 -66.3,24.9C-67.5,25.4 -68.9,23.7 -69.2,22.0C-69.4,20.3 -68.0,16.8 -67.7,14.6C-67.5,12.5 -68.5,10.5 -67.7,8.8Z" fill="#B4CDFF"/>
<path d="M-44.3,17.6L-39.2,13.9L-34.0,13.2L-28.2,13.9L-20.8,18.3L-15.0,17.6L-10.6,20.5L-9.1,26.4L-6.2,28.6L-9.1,33.0L-12.8,36.6L-14.3,42.5L-16.5,48.3L-19.4,52.0L-22.3,55.7L-24.5,60.1L-27.4,63.0L-32.6,64.5L-38.4,65.9L-42.8,64.5L-47.2,66.7L-53.1,67.4L-58.9,68.1L-63.3,70.3L-67.7,73.2L-72.1,76.9L-74.3,74.7L-75.8,67.4L-73.6,61.5L-69.9,55.7L-65.5,49.8L-61.9,46.9L-56.0,43.9L-54.5,40.3L-50.1,36.6L-47.2,32.2L-45.0,24.9Z" fill="#FFEADA" stroke="#D7EAFF" stroke-width="1.6"/>
<path d="M-42.1,19.0C-41.3,17.5 -39.8,16.5 -38.4,15.8C-37.1,15.2 -35.7,15.2 -34.0,15.2C-32.3,15.2 -30.2,15.1 -28.2,15.8C-26.1,16.6 -23.7,19.1 -21.6,19.8C-19.5,20.4 -17.2,19.2 -15.7,19.8C-14.3,20.4 -13.4,22.0 -12.8,23.4C-12.2,24.9 -11.8,26.6 -12.1,28.6C-12.3,30.5 -13.6,32.8 -14.3,35.2C-14.9,37.5 -15.4,40.2 -16.2,42.5C-16.9,44.8 -17.7,47.1 -18.6,49.1C-19.6,51.0 -20.5,52.5 -21.6,54.2C-22.7,55.9 -23.9,58.0 -25.2,59.3C-26.6,60.7 -27.9,61.6 -29.6,62.3C-31.3,62.9 -33.5,63.0 -35.5,63.3C-37.4,63.5 -39.4,63.5 -41.4,63.7C-43.3,63.9 -45.3,64.1 -47.2,64.5C-49.2,64.8 -51.1,65.3 -53.1,65.6C-55.0,66.0 -57.2,66.2 -58.9,66.7C-60.6,67.1 -61.9,67.7 -63.3,68.6C-64.8,69.4 -66.4,70.6 -67.7,71.5C-69.1,72.4 -70.5,73.9 -71.4,74.0C-72.2,74.0 -72.5,73.0 -72.8,71.8C-73.2,70.6 -73.8,68.4 -73.6,66.7C-73.3,64.9 -72.4,63.2 -71.4,61.5C-70.4,59.8 -69.1,58.1 -67.7,56.4C-66.4,54.7 -64.8,52.7 -63.3,51.3C-61.9,49.8 -60.5,48.8 -58.9,47.6C-57.3,46.4 -55.0,45.2 -53.8,43.9C-52.6,42.7 -52.6,41.5 -51.6,40.3C-50.6,39.1 -49.0,38.1 -47.9,36.6C-46.8,35.2 -45.8,33.4 -45.0,31.5C-44.2,29.5 -43.6,27.0 -43.1,24.9C-42.6,22.8 -42.9,20.6 -42.1,19.0Z" fill="#FFCDB8"/>
<path d="M-42.8,3.7C-42.6,2.4 -40.6,2.3 -38.4,2.2C-36.2,2.1 -31.6,2.2 -29.6,2.9C-27.7,3.7 -26.9,5.4 -26.7,6.6C-26.5,7.8 -26.9,9.7 -28.2,10.3C-29.4,10.8 -32.1,10.1 -34.0,10.0C-36.0,9.8 -38.4,10.6 -39.9,9.5C-41.4,8.5 -43.1,4.9 -42.8,3.7Z" fill="#FFEADA"/>
<path d="M-39.9,4.7C-39.6,3.9 -35.7,3.6 -34.0,3.7C-32.3,3.7 -30.2,4.4 -29.6,5.1C-29.0,5.9 -29.4,7.5 -30.4,8.1C-31.3,8.6 -33.9,9.1 -35.5,8.5C-37.1,7.9 -40.1,5.5 -39.9,4.7Z" fill="#FFCDB8"/>
<use href="#coast"/>
</g>
<circle cx="0" cy="0" r="144.1" fill="none" stroke="#6a6a6a" stroke-width="1"/>
</g>
<g transform="translate(511.75,757.4)">
<g clip-path="url(#cc)">
<circle cx="0" cy="0" r="144.6" fill="#D7EAFF"/>
<path d="M-130.7,-62.1C-129.7,-64.6 -127.3,-68.5 -124.8,-70.9C-122.4,-73.3 -119.2,-75.3 -116.1,-76.8C-112.9,-78.2 -109.5,-79.7 -105.8,-79.7C-102.1,-79.7 -97.5,-77.7 -94.1,-76.8C-90.7,-75.8 -87.5,-75.3 -85.3,-73.8C-83.1,-72.4 -80.9,-70.2 -80.9,-68.0C-80.9,-65.8 -83.8,-62.8 -85.3,-60.6C-86.8,-58.4 -88.2,-57.0 -89.7,-54.8C-91.2,-52.6 -92.6,-49.7 -94.1,-47.5C-95.6,-45.3 -97.3,-43.3 -98.5,-41.6C-99.7,-39.9 -99.5,-37.9 -101.4,-37.2C-103.4,-36.5 -107.8,-37.7 -110.2,-37.2C-112.6,-36.7 -114.4,-35.7 -116.1,-34.3C-117.8,-32.8 -118.5,-29.9 -120.5,-28.4C-122.4,-27.0 -125.3,-25.5 -127.8,-25.5C-130.2,-25.5 -133.4,-26.7 -135.1,-28.4C-136.8,-30.1 -138.3,-33.1 -138.0,-35.7C-137.8,-38.4 -135.1,-42.1 -133.6,-44.5C-132.2,-47.0 -129.7,-48.4 -129.2,-50.4C-128.8,-52.3 -130.5,-54.3 -130.7,-56.2C-131.0,-58.2 -131.7,-59.7 -130.7,-62.1Z" fill="#B4CDFF"/>
<path d="M-126.3,-63.6C-126.4,-64.5 -124.1,-66.1 -122.7,-66.5C-121.2,-66.9 -118.5,-66.9 -117.5,-66.2C-116.5,-65.5 -116.1,-63.3 -116.8,-62.4C-117.5,-61.5 -120.3,-60.7 -121.9,-60.9C-123.5,-61.1 -126.2,-62.6 -126.3,-63.6Z" fill="#86A7FF"/>
<path d="M-98.5,-70.2C-98.2,-71.1 -96.4,-72.3 -94.8,-72.7C-93.2,-73.0 -90.3,-72.7 -89.0,-72.1C-87.6,-71.5 -86.4,-70.0 -86.8,-69.1C-87.1,-68.3 -89.6,-67.2 -91.2,-66.8C-92.7,-66.4 -95.1,-66.2 -96.3,-66.8C-97.5,-67.4 -98.7,-69.2 -98.5,-70.2Z" fill="#86A7FF"/>
<path d="M-120.5,-50.4C-120.1,-52.2 -116.7,-53.6 -114.6,-54.1C-112.5,-54.5 -109.5,-54.4 -108.0,-53.3C-106.5,-52.2 -105.4,-49.3 -105.8,-47.5C-106.2,-45.6 -108.4,-43.1 -110.2,-42.3C-112.0,-41.6 -115.1,-41.7 -116.8,-43.1C-118.5,-44.4 -120.8,-48.6 -120.5,-50.4Z" fill="#86A7FF"/>
<path d="M-143.9,-21.1C-142.9,-25.2 -140.5,-23.8 -138.0,-24.0C-135.6,-24.3 -132.2,-23.5 -129.2,-22.6C-126.3,-21.6 -122.7,-20.1 -120.5,-18.2C-118.3,-16.2 -116.1,-13.3 -116.1,-10.8C-116.1,-8.4 -118.5,-5.5 -120.5,-3.5C-122.4,-1.6 -123.9,0.1 -127.8,0.9C-131.7,1.6 -141.2,4.5 -143.9,0.9C-146.6,-2.8 -144.9,-16.9 -143.9,-21.1Z" fill="#B4CDFF"/>
<path d="M-118.3,-82.6C-117.2,-84.6 -114.5,-89.2 -111.7,-91.4C-108.9,-93.6 -103.9,-95.8 -101.4,-95.8C-99.0,-95.8 -99.2,-92.4 -97.0,-91.4C-94.8,-90.4 -91.2,-90.7 -88.2,-89.9C-85.3,-89.2 -82.4,-87.5 -79.4,-87.0C-76.5,-86.5 -73.6,-86.3 -70.6,-87.0C-67.7,-87.7 -64.5,-89.0 -61.9,-91.4C-59.2,-93.8 -57.0,-98.2 -54.5,-101.7C-52.1,-105.1 -49.9,-108.4 -47.2,-111.9C-44.5,-115.5 -40.9,-120.9 -38.4,-122.9C-36.0,-124.9 -32.6,-124.7 -32.6,-123.6C-32.6,-122.5 -36.7,-119.0 -38.4,-116.3C-40.1,-113.6 -41.7,-110.4 -42.8,-107.5C-43.9,-104.6 -44.8,-101.9 -45.0,-98.7C-45.3,-95.6 -43.9,-91.4 -44.3,-88.5C-44.6,-85.5 -45.5,-83.1 -47.2,-81.2C-48.9,-79.2 -51.6,-77.7 -54.5,-76.8C-57.5,-75.8 -61.6,-75.3 -64.8,-75.3C-68.0,-75.3 -70.6,-76.5 -73.6,-76.8C-76.5,-77.0 -79.9,-76.3 -82.4,-76.8C-84.8,-77.2 -85.1,-78.7 -88.2,-79.7C-91.4,-80.7 -97.5,-82.4 -101.4,-82.6C-105.3,-82.9 -108.9,-81.6 -111.7,-81.2C-114.5,-80.7 -117.2,-79.4 -118.3,-79.7C-119.4,-79.9 -119.4,-80.7 -118.3,-82.6Z" fill="#FFEADA"/>
<path d="M-73.6,-81.2C-73.1,-82.5 -70.2,-84.1 -67.7,-84.8C-65.3,-85.5 -61.1,-85.9 -58.9,-85.5C-56.7,-85.2 -55.0,-84.0 -54.5,-82.6C-54.0,-81.3 -54.5,-78.7 -56.0,-77.5C-57.5,-76.3 -60.9,-75.4 -63.3,-75.3C-65.8,-75.2 -68.9,-75.8 -70.6,-76.8C-72.4,-77.7 -74.1,-79.8 -73.6,-81.2Z" fill="#FFA885"/>
<path d="M-69.9,-81.2C-69.4,-82.2 -66.6,-83.4 -64.8,-83.8C-63.0,-84.2 -60.2,-84.0 -58.9,-83.3C-57.7,-82.7 -57.0,-80.7 -57.5,-79.7C-58.0,-78.6 -60.2,-77.4 -61.9,-77.1C-63.6,-76.7 -66.4,-76.8 -67.7,-77.5C-69.1,-78.2 -70.4,-80.1 -69.9,-81.2Z" fill="#FF4E15"/>
<path d="M-87.5,-79.7C-87.1,-80.4 -85.1,-81.0 -83.8,-80.9C-82.6,-80.7 -80.4,-79.7 -80.2,-79.0C-79.9,-78.2 -81.3,-76.8 -82.4,-76.5C-83.4,-76.1 -85.6,-76.2 -86.5,-76.8C-87.3,-77.3 -87.9,-79.0 -87.5,-79.7Z" fill="#FFA885"/>
<path d="M-48.7,-95.8C-47.9,-97.5 -46.4,-96.0 -45.7,-94.3C-45.1,-92.6 -44.8,-87.7 -45.0,-85.5C-45.3,-83.3 -46.4,-81.4 -47.2,-81.2C-48.1,-80.9 -49.9,-81.6 -50.1,-84.1C-50.4,-86.5 -49.4,-94.1 -48.7,-95.8Z" fill="#FFCDB8"/>
<path d="M-81.6,-60.6C-80.9,-61.9 -78.6,-63.3 -76.5,-63.6C-74.4,-63.8 -71.4,-62.7 -69.2,-62.1C-67.0,-61.5 -63.8,-61.0 -63.3,-59.9C-62.8,-58.8 -64.3,-56.4 -66.3,-55.5C-68.2,-54.7 -72.6,-54.7 -75.0,-54.8C-77.5,-54.9 -79.8,-55.3 -80.9,-56.2C-82.0,-57.2 -82.4,-59.4 -81.6,-60.6Z" fill="#FFEADA"/>
<path d="M-78.0,-70.2C-77.4,-71.0 -74.9,-72.0 -73.6,-71.6C-72.2,-71.3 -69.9,-69.1 -69.9,-68.0C-69.9,-66.9 -72.4,-65.3 -73.6,-65.0C-74.8,-64.8 -76.5,-65.6 -77.2,-66.5C-78.0,-67.4 -78.6,-69.3 -78.0,-70.2Z" fill="#FFEADA"/>
<path d="M-99.9,-32.8C-99.5,-35.5 -99.0,-39.2 -97.0,-41.6C-95.1,-44.0 -91.6,-46.2 -88.2,-47.5C-84.8,-48.7 -79.9,-48.4 -76.5,-48.9C-73.1,-49.4 -70.6,-50.4 -67.7,-50.4C-64.8,-50.4 -60.9,-49.9 -58.9,-48.9C-57.0,-47.9 -55.5,-46.2 -56.0,-44.5C-56.5,-42.8 -59.4,-40.1 -61.9,-38.7C-64.3,-37.2 -67.7,-36.5 -70.6,-35.7C-73.6,-35.0 -76.8,-35.0 -79.4,-34.3C-82.1,-33.5 -84.3,-32.8 -86.8,-31.3C-89.2,-29.9 -91.9,-26.5 -94.1,-25.5C-96.3,-24.5 -99.0,-24.3 -99.9,-25.5C-100.9,-26.7 -100.4,-30.1 -99.9,-32.8Z" fill="#FFEADA"/>
<path d="M-37.0,-114.8C-36.2,-116.3 -33.5,-117.8 -31.1,-118.5C-28.7,-119.2 -25.7,-119.4 -22.3,-119.2C-18.9,-119.1 -14.0,-118.5 -10.6,-117.8C-7.2,-117.0 -3.8,-116.3 -1.8,-114.8C0.2,-113.4 1.4,-110.9 1.1,-109.0C0.9,-107.0 -1.1,-104.5 -3.3,-103.1C-5.5,-101.8 -9.1,-101.2 -12.1,-100.9C-15.0,-100.7 -17.9,-100.8 -20.8,-101.7C-23.8,-102.5 -27.2,-104.7 -29.6,-106.1C-32.1,-107.4 -34.3,-108.3 -35.5,-109.7C-36.7,-111.2 -37.7,-113.4 -37.0,-114.8Z" fill="#B4CDFF"/>
<path d="M-34.0,-113.4C-33.5,-114.8 -30.6,-116.4 -28.2,-117.0C-25.7,-117.7 -22.6,-117.3 -19.4,-117.0C-16.2,-116.8 -12.1,-116.4 -9.1,-115.6C-6.2,-114.7 -3.3,-113.3 -1.8,-111.9C-0.3,-110.6 0.4,-108.9 -0.3,-107.5C-1.1,-106.2 -3.8,-104.7 -6.2,-103.9C-8.6,-103.0 -12.1,-102.3 -15.0,-102.4C-17.9,-102.5 -21.1,-103.6 -23.8,-104.6C-26.5,-105.6 -29.4,-106.8 -31.1,-108.3C-32.8,-109.7 -34.5,-111.9 -34.0,-113.4Z" fill="#86A7FF"/>
<path d="M-29.6,-112.6C-29.4,-114.1 -26.2,-115.2 -23.8,-115.6C-21.3,-115.9 -17.9,-115.3 -15.0,-114.8C-12.1,-114.4 -8.3,-113.6 -6.2,-112.6C-4.1,-111.7 -2.3,-110.2 -2.5,-109.0C-2.8,-107.8 -5.3,-106.1 -7.7,-105.3C-10.0,-104.6 -13.5,-104.3 -16.5,-104.6C-19.4,-104.8 -23.0,-105.4 -25.2,-106.8C-27.4,-108.1 -29.9,-111.2 -29.6,-112.6Z" fill="#4579FF"/>
<path d="M-25.2,-111.2C-25.2,-112.4 -21.8,-113.3 -19.4,-113.4C-16.9,-113.5 -13.0,-112.6 -10.6,-111.9C-8.1,-111.2 -4.7,-110.0 -4.7,-109.0C-4.7,-108.0 -8.1,-106.5 -10.6,-106.1C-13.0,-105.6 -16.9,-105.5 -19.4,-106.3C-21.8,-107.2 -25.2,-110.0 -25.2,-111.2Z" fill="#1652FF"/>
<path d="M-20.8,-109.7C-20.8,-110.3 -16.7,-110.9 -15.0,-110.7C-13.3,-110.6 -10.6,-109.6 -10.6,-109.0C-10.6,-108.4 -13.3,-107.1 -15.0,-107.2C-16.7,-107.3 -20.8,-109.1 -20.8,-109.7Z" fill="#002FE2"/>
<path d="M-43.5,-100.9C-43.2,-102.1 -40.0,-103.0 -38.4,-103.1C-36.8,-103.2 -34.5,-102.6 -34.0,-101.7C-33.5,-100.7 -34.4,-98.2 -35.5,-97.3C-36.6,-96.3 -39.3,-95.2 -40.6,-95.8C-42.0,-96.4 -43.9,-99.7 -43.5,-100.9Z" fill="#86A7FF"/>
<path d="M-42.1,-100.2C-41.7,-100.9 -38.7,-101.9 -37.7,-101.7C-36.7,-101.4 -35.9,-99.5 -36.2,-98.7C-36.6,-98.0 -38.9,-97.0 -39.9,-97.3C-40.9,-97.5 -42.5,-99.5 -42.1,-100.2Z" fill="#4579FF"/>
<path d="M-14.3,-84.1C-13.8,-85.8 -11.7,-88.7 -9.1,-89.9C-6.6,-91.2 -1.8,-91.7 1.1,-91.4C4.1,-91.2 7.2,-91.7 8.5,-88.5C9.7,-85.3 9.7,-75.2 8.5,-72.4C7.2,-69.6 3.4,-71.1 1.1,-71.6C-1.2,-72.1 -3.3,-74.0 -5.5,-75.3C-7.7,-76.6 -10.6,-78.2 -12.1,-79.7C-13.5,-81.2 -14.7,-82.4 -14.3,-84.1Z" fill="#FFCDB8"/>
<path d="M-9.1,-84.1C-9.1,-85.5 -6.4,-85.3 -4.7,-85.5C-3.0,-85.8 -1.1,-85.8 1.1,-85.5C3.3,-85.3 7.2,-85.9 8.5,-84.1C9.7,-82.3 9.7,-76.3 8.5,-74.6C7.2,-72.9 3.3,-73.5 1.1,-73.8C-1.1,-74.2 -3.0,-75.0 -4.7,-76.8C-6.4,-78.5 -9.1,-82.6 -9.1,-84.1Z" fill="#FF7B47"/>
<path d="M-5.5,-81.2C-5.5,-82.3 -1.2,-82.2 1.1,-82.3C3.4,-82.4 7.2,-82.8 8.5,-81.9C9.7,-81.0 9.7,-77.8 8.5,-76.8C7.2,-75.7 3.4,-74.9 1.1,-75.6C-1.2,-76.3 -5.5,-80.0 -5.5,-81.2Z" fill="#FF4E15"/>
<path d="M88.1,-101.7C89.1,-104.6 93.0,-106.3 95.5,-106.1C97.9,-105.8 100.1,-103.1 102.8,-100.2C105.5,-97.3 108.6,-92.4 111.6,-88.5C114.5,-84.6 117.9,-80.7 120.4,-76.8C122.8,-72.9 124.3,-69.4 126.2,-65.0C128.2,-60.6 130.4,-54.8 132.1,-50.4C133.8,-46.0 135.3,-42.8 136.5,-38.7C137.7,-34.5 138.7,-30.1 139.4,-25.5C140.1,-20.8 140.5,-15.2 140.9,-10.8C141.2,-6.4 148.0,-1.1 141.6,0.9C135.3,2.8 109.5,4.1 102.8,0.9C96.1,-2.3 101.8,-12.1 101.3,-18.2C100.8,-24.3 101.1,-30.9 99.9,-35.7C98.6,-40.6 96.0,-44.0 94.0,-47.5C92.0,-50.9 90.1,-53.8 88.1,-56.2C86.2,-58.7 84.7,-60.6 82.3,-62.1C79.8,-63.6 75.4,-63.6 73.5,-65.0C71.5,-66.5 70.8,-68.7 70.6,-70.9C70.3,-73.1 71.0,-76.0 72.0,-78.2C73.0,-80.4 74.7,-82.6 76.4,-84.1C78.1,-85.5 80.1,-86.3 82.3,-87.0C84.5,-87.7 88.6,-86.0 89.6,-88.5C90.6,-90.9 87.2,-98.7 88.1,-101.7Z" fill="#B4CDFF"/>
<path d="M89.6,-85.5C90.3,-87.7 93.3,-90.4 95.5,-91.4C97.7,-92.4 100.1,-92.9 102.8,-91.4C105.5,-89.9 108.9,-85.5 111.6,-82.6C114.3,-79.7 117.9,-77.2 118.9,-73.8C119.9,-70.4 118.4,-65.0 117.4,-62.1C116.5,-59.2 115.0,-56.7 113.0,-56.2C111.1,-55.8 107.7,-57.5 105.7,-59.2C103.8,-60.9 103.3,-64.6 101.3,-66.5C99.4,-68.5 95.7,-68.9 94.0,-70.9C92.3,-72.9 91.8,-75.8 91.1,-78.2C90.3,-80.7 88.9,-83.3 89.6,-85.5Z" fill="#86A7FF"/>
<path d="M0.2,-141.2C1.2,-142.6 4.2,-142.4 6.1,-141.9C8.1,-141.5 11.5,-139.6 12.0,-138.3C12.5,-136.9 11.0,-134.6 9.0,-133.9C7.1,-133.2 1.7,-132.7 0.2,-133.9C-1.2,-135.1 -0.7,-139.9 0.2,-141.2Z" fill="#B4CDFF"/>
<path d="M44.2,-101.7C43.7,-103.6 47.1,-105.3 48.6,-107.5C50.1,-109.7 51.8,-111.9 53.0,-114.8C54.2,-117.8 54.9,-122.7 55.9,-125.1C56.9,-127.5 56.6,-129.2 58.8,-129.5C61.0,-129.7 65.2,-128.4 69.1,-126.6C73.0,-124.7 80.6,-121.2 82.3,-118.5C84.0,-115.8 80.1,-113.3 79.4,-110.4C78.6,-107.6 77.4,-103.6 77.9,-101.7C78.4,-99.7 80.6,-99.7 82.3,-98.7C84.0,-97.8 87.0,-97.3 88.1,-95.8C89.2,-94.3 90.3,-91.2 88.9,-89.9C87.4,-88.7 82.9,-89.0 79.4,-88.5C75.8,-87.9 71.0,-86.2 67.6,-86.7C64.2,-87.2 61.5,-89.9 58.8,-91.4C56.2,-92.9 54.0,-94.1 51.5,-95.8C49.1,-97.5 44.7,-99.7 44.2,-101.7Z" fill="#86A7FF"/>
<path d="M48.6,-103.1C48.7,-105.6 51.6,-108.7 53.0,-111.9C54.3,-115.1 55.4,-119.5 56.6,-122.2C57.9,-124.9 58.2,-127.4 60.3,-128.0C62.4,-128.6 65.7,-127.4 69.1,-125.8C72.5,-124.2 79.4,-121.2 80.8,-118.5C82.3,-115.8 78.7,-112.8 77.9,-109.7C77.0,-106.7 76.2,-103.2 75.7,-100.2C75.2,-97.1 76.3,-93.5 75.0,-91.4C73.6,-89.3 70.3,-87.6 67.6,-87.7C64.9,-87.9 61.4,-90.6 58.8,-92.1C56.3,-93.7 54.0,-95.4 52.3,-97.3C50.5,-99.1 48.5,-100.7 48.6,-103.1Z" fill="#4579FF"/>
<path d="M50.8,-104.6C51.2,-106.9 53.8,-110.3 55.2,-113.4C56.5,-116.4 57.5,-120.7 58.8,-122.9C60.2,-125.1 61.3,-126.3 63.2,-126.6C65.2,-126.8 67.8,-125.7 70.6,-124.4C73.4,-123.0 79.0,-120.8 80.1,-118.5C81.2,-116.2 78.1,-113.3 77.2,-110.4C76.2,-107.6 75.1,-104.6 74.2,-101.7C73.4,-98.7 73.4,-94.8 72.0,-92.9C70.7,-90.9 68.4,-89.7 66.2,-89.9C64.0,-90.2 61.0,-92.7 58.8,-94.3C56.6,-95.9 54.3,-97.8 53.0,-99.5C51.6,-101.2 50.4,-102.3 50.8,-104.6Z" fill="#1652FF"/>
<path d="M58.1,-106.1C58.4,-108.3 60.4,-112.0 61.8,-114.8C63.1,-117.7 64.2,-121.7 66.2,-122.9C68.1,-124.1 71.3,-123.0 73.5,-122.2C75.7,-121.3 78.9,-119.7 79.4,-117.8C79.8,-115.8 77.5,-112.9 76.4,-110.4C75.3,-108.0 74.5,-104.8 72.8,-103.1C71.0,-101.4 68.2,-100.4 66.2,-100.2C64.1,-100.0 61.7,-100.7 60.3,-101.7C59.0,-102.6 57.9,-103.9 58.1,-106.1Z" fill="#002FE2"/>
<path d="M33.2,-107.5C33.0,-109.7 34.1,-112.8 35.4,-114.8C36.7,-116.9 39.1,-118.1 41.3,-120.0C43.5,-121.8 46.2,-124.4 48.6,-125.8C51.0,-127.3 54.8,-130.1 55.6,-128.8C56.5,-127.4 54.5,-120.8 53.7,-117.8C52.9,-114.7 52.4,-112.4 50.8,-110.4C49.2,-108.5 46.5,-107.5 44.2,-106.1C41.9,-104.6 38.7,-101.4 36.9,-101.7C35.0,-101.9 33.5,-105.3 33.2,-107.5Z" fill="#86A7FF"/>
<path d="M32.5,-109.0C32.2,-110.6 33.7,-114.2 34.7,-115.6C35.6,-116.9 37.6,-117.9 38.3,-117.0C39.1,-116.2 39.4,-112.3 39.1,-110.4C38.7,-108.6 37.2,-106.3 36.1,-106.1C35.0,-105.8 32.7,-107.4 32.5,-109.0Z" fill="#4579FF"/>
<path d="M78.6,-103.1C78.5,-105.2 82.2,-114.0 84.5,-115.6C86.8,-117.2 92.4,-114.7 92.5,-112.6C92.7,-110.6 87.5,-104.7 85.2,-103.1C82.9,-101.5 78.7,-101.0 78.6,-103.1Z" fill="#D7EAFF"/>
<path d="M-8.5,-98.7C-5.6,-103.9 4.6,-101.9 9.0,-103.1C13.4,-104.3 15.4,-106.3 17.8,-106.1C20.3,-105.8 21.7,-103.1 23.7,-101.7C25.6,-100.2 27.3,-97.8 29.5,-97.3C31.7,-96.8 34.2,-98.7 36.9,-98.7C39.6,-98.7 43.7,-98.5 45.7,-97.3C47.6,-96.0 49.1,-92.9 48.6,-91.4C48.1,-89.9 44.9,-88.7 42.7,-88.5C40.5,-88.2 37.6,-90.2 35.4,-89.9C33.2,-89.7 31.3,-88.7 29.5,-87.0C27.8,-85.3 26.6,-81.9 25.2,-79.7C23.7,-77.5 22.5,-75.3 20.8,-73.8C19.0,-72.4 16.9,-71.4 14.9,-70.9C12.9,-70.4 12.9,-70.7 9.0,-70.9C5.1,-71.1 -5.6,-67.7 -8.5,-72.4C-11.5,-77.0 -11.5,-93.6 -8.5,-98.7Z" fill="#FFEADA"/>
<path d="M-8.5,-95.8C-5.9,-100.2 3.4,-99.1 7.6,-100.2C11.7,-101.3 14.2,-102.6 16.4,-102.4C18.6,-102.1 19.5,-100.6 20.8,-98.7C22.0,-96.9 23.4,-93.8 23.7,-91.4C23.9,-89.0 23.2,-86.3 22.2,-84.1C21.2,-81.9 19.8,-79.7 17.8,-78.2C15.9,-76.8 14.9,-76.0 10.5,-75.3C6.1,-74.6 -5.4,-70.4 -8.5,-73.8C-11.7,-77.2 -11.2,-91.4 -8.5,-95.8Z" fill="#FFCDB8"/>
<path d="M-8.5,-92.9C-6.1,-96.2 2.4,-95.3 6.1,-95.8C9.8,-96.3 11.2,-96.5 13.4,-95.8C15.6,-95.1 18.3,-93.1 19.3,-91.4C20.3,-89.7 20.0,-87.4 19.3,-85.5C18.6,-83.7 16.9,-81.8 14.9,-80.4C12.9,-79.1 11.5,-78.2 7.6,-77.5C3.7,-76.8 -5.9,-73.5 -8.5,-76.0C-11.2,-78.6 -11.0,-89.6 -8.5,-92.9Z" fill="#FFA885"/>
<path d="M-8.5,-88.5C-6.3,-90.6 1.5,-89.9 4.6,-89.9C7.8,-89.9 9.0,-89.5 10.5,-88.5C12.0,-87.5 13.7,-85.5 13.4,-84.1C13.2,-82.6 12.7,-80.8 9.0,-79.7C5.4,-78.6 -5.6,-76.0 -8.5,-77.5C-11.5,-79.0 -10.7,-86.4 -8.5,-88.5Z" fill="#FF7B47"/>
<path d="M-8.5,-84.1C-6.5,-85.1 1.5,-85.2 3.9,-84.8C6.4,-84.4 6.2,-82.9 6.1,-81.9C6.0,-80.9 5.6,-79.5 3.2,-79.0C0.7,-78.4 -6.6,-77.7 -8.5,-78.5C-10.5,-79.4 -10.6,-83.0 -8.5,-84.1Z" fill="#FF4E15"/>
<path d="M20.8,-76.8C21.0,-79.0 24.9,-81.6 26.6,-81.2C28.3,-80.7 29.3,-76.0 31.0,-73.8C32.7,-71.6 34.7,-69.7 36.9,-68.0C39.1,-66.3 42.2,-65.0 44.2,-63.6C46.1,-62.1 46.9,-60.4 48.6,-59.2C50.3,-58.0 53.2,-57.7 54.4,-56.2C55.7,-54.8 56.6,-51.6 55.9,-50.4C55.2,-49.2 52.0,-48.4 50.1,-48.9C48.1,-49.4 46.1,-52.1 44.2,-53.3C42.2,-54.5 40.3,-54.8 38.3,-56.2C36.4,-57.7 34.7,-60.2 32.5,-62.1C30.3,-64.1 27.1,-65.5 25.2,-68.0C23.2,-70.4 20.5,-74.6 20.8,-76.8Z" fill="#FFEADA"/>
<path d="M55.9,-43.1C56.6,-45.3 60.8,-47.2 63.2,-47.5C65.7,-47.7 68.4,-46.2 70.6,-44.5C72.8,-42.8 74.8,-39.9 76.4,-37.2C78.0,-34.5 79.1,-31.3 80.1,-28.4C81.1,-25.5 80.9,-22.1 82.3,-19.6C83.6,-17.2 86.7,-15.7 88.1,-13.8C89.6,-11.8 90.1,-10.4 91.1,-7.9C92.0,-5.5 99.4,-0.6 94.0,0.9C88.6,2.3 64.2,5.3 58.8,0.9C53.5,-3.5 61.8,-19.6 61.8,-25.5C61.8,-31.3 59.8,-31.3 58.8,-34.3C57.9,-37.2 55.2,-40.9 55.9,-43.1Z" fill="#FFEADA"/>
<path d="M61.8,-34.3C62.3,-36.0 64.2,-38.7 66.2,-38.7C68.1,-38.7 71.5,-36.5 73.5,-34.3C75.4,-32.1 76.9,-28.2 77.9,-25.5C78.9,-22.8 80.1,-19.4 79.4,-18.2C78.6,-16.9 75.4,-17.4 73.5,-18.2C71.5,-18.9 69.3,-20.8 67.6,-22.6C65.9,-24.3 64.2,-26.5 63.2,-28.4C62.3,-30.4 61.3,-32.6 61.8,-34.3Z" fill="#FFCDB8"/>
<path d="M116.0,-40.9C116.2,-41.4 120.9,-42.6 123.3,-42.3C125.7,-42.1 128.7,-40.9 130.6,-39.4C132.6,-37.9 135.3,-34.0 135.0,-33.5C134.8,-33.1 131.4,-35.5 129.2,-36.5C127.0,-37.5 124.0,-38.7 121.8,-39.4C119.6,-40.1 115.7,-40.4 116.0,-40.9Z" fill="#FFEADA"/>
<path d="M0.7,-73.0C-0.3,-72.8 -3.3,-72.6 -5.5,-72.2C-7.8,-71.7 -10.4,-71.3 -12.7,-70.3C-15.0,-69.2 -16.7,-67.1 -19.1,-65.8C-21.5,-64.5 -24.4,-63.7 -27.1,-62.6C-29.7,-61.5 -32.3,-60.5 -35.1,-59.4C-37.9,-58.3 -41.2,-57.3 -43.8,-56.2C-46.5,-55.1 -49.3,-54.3 -51.0,-53.0C-52.8,-51.7 -53.6,-49.9 -54.2,-48.2C-54.8,-46.5 -55.1,-44.5 -54.5,-42.6C-54.0,-40.8 -52.5,-38.4 -51.0,-37.0C-49.5,-35.7 -46.9,-36.2 -45.6,-34.5C-44.2,-32.8 -44.1,-29.4 -43.0,-26.8C-41.9,-24.3 -40.2,-21.9 -39.2,-19.2C-38.1,-16.4 -37.7,-13.0 -36.6,-10.2C-35.5,-7.4 -34.3,-5.1 -32.8,-2.6C-31.3,0.0 -29.4,2.8 -27.7,5.1C-26.0,7.5 -24.5,9.8 -22.6,11.5C-20.6,13.2 -18.3,14.1 -16.2,15.3C-14.0,16.6 -11.7,17.9 -9.8,19.2C-7.9,20.4 -6.0,21.5 -4.7,23.0C-3.4,24.5 -3.2,26.4 -2.1,28.1C-1.1,29.8 0.2,32.1 1.7,33.2C3.2,34.3 5.1,34.9 6.8,34.5C8.5,34.1 10.2,32.1 11.9,30.7C13.6,29.2 15.3,27.3 17.0,25.5C18.7,23.8 20.9,22.1 22.1,20.4C23.4,18.7 23.4,16.6 24.7,15.3C26.0,14.1 28.5,14.1 29.8,12.8C31.1,11.5 32.8,8.9 32.4,7.7C31.9,6.4 28.5,6.1 27.3,5.1C26.0,4.2 24.1,4.2 24.7,1.9C25.3,-0.3 30.2,-5.8 31.0,-8.3C31.8,-10.8 30.8,-11.5 29.4,-13.1C28.1,-14.7 24.4,-15.8 23.1,-17.9C21.7,-20.0 21.2,-23.2 21.5,-25.9C21.7,-28.5 24.0,-30.9 24.7,-33.8C25.3,-36.8 25.5,-40.2 25.5,-43.4C25.5,-46.6 25.2,-49.8 24.7,-53.0C24.1,-56.2 23.6,-59.9 22.3,-62.6C20.9,-65.2 18.8,-67.4 16.7,-69.0C14.5,-70.6 12.1,-71.5 9.5,-72.2C6.8,-72.8 2.2,-72.8 0.7,-73.0C-0.8,-73.1 1.7,-73.1 0.7,-73.0Z" fill="#B4CDFF"/>
<path d="M0.2,-68.7C-0.7,-68.6 -3.4,-68.4 -5.5,-68.0C-7.5,-67.6 -10.0,-67.2 -12.1,-66.2C-14.1,-65.2 -15.7,-63.3 -17.9,-62.1C-20.1,-60.9 -22.8,-60.2 -25.2,-59.2C-27.7,-58.2 -30.0,-57.2 -32.6,-56.2C-35.1,-55.3 -38.2,-54.3 -40.6,-53.3C-43.1,-52.3 -45.6,-51.6 -47.2,-50.4C-48.8,-49.2 -49.6,-47.6 -50.1,-46.0C-50.7,-44.4 -50.9,-42.6 -50.4,-40.9C-49.9,-39.2 -48.6,-37.0 -47.2,-35.7C-45.8,-34.5 -43.4,-35.0 -42.2,-33.4C-41.0,-31.8 -40.8,-28.7 -39.8,-26.4C-38.9,-24.0 -37.3,-21.9 -36.3,-19.3C-35.4,-16.8 -35.0,-13.7 -34.0,-11.1C-33.0,-8.6 -31.8,-6.4 -30.5,-4.1C-29.1,-1.8 -27.3,0.8 -25.8,2.9C-24.2,5.1 -22.9,7.2 -21.1,8.8C-19.3,10.4 -17.2,11.1 -15.2,12.3C-13.3,13.5 -11.1,14.6 -9.4,15.8C-7.6,17.0 -5.9,18.0 -4.7,19.3C-3.5,20.7 -3.3,22.5 -2.3,24.0C-1.4,25.6 -0.2,27.7 1.2,28.7C2.5,29.7 4.3,30.3 5.9,29.9C7.4,29.5 9.0,27.7 10.5,26.4C12.1,25.0 13.7,23.2 15.2,21.7C16.8,20.1 18.8,18.6 19.9,17.0C21.1,15.4 21.1,13.5 22.3,12.3C23.4,11.1 25.8,11.1 27.0,10.0C28.1,8.8 29.7,6.4 29.3,5.3C28.9,4.1 25.8,3.8 24.6,2.9C23.4,2.1 21.7,2.1 22.3,0.0C22.8,-2.1 27.4,-7.1 28.1,-9.4C28.8,-11.7 27.8,-12.3 26.6,-13.8C25.4,-15.2 22.0,-16.2 20.8,-18.2C19.5,-20.1 19.0,-23.0 19.3,-25.5C19.5,-27.9 21.6,-30.1 22.2,-32.8C22.8,-35.5 23.0,-38.7 23.0,-41.6C23.0,-44.5 22.7,-47.5 22.2,-50.4C21.7,-53.3 21.2,-56.7 20.0,-59.2C18.8,-61.6 16.9,-63.6 14.9,-65.0C12.9,-66.5 10.7,-67.4 8.3,-68.0C5.9,-68.6 1.6,-68.6 0.2,-68.7C-1.1,-68.8 1.2,-68.8 0.2,-68.7Z" fill="#86A7FF"/>
<path d="M17.1,-56.2C17.0,-58.0 15.8,-60.6 14.2,-62.1C12.6,-63.6 9.9,-64.4 7.6,-65.0C5.3,-65.6 1.5,-65.5 0.2,-65.8C-1.0,-66.0 2.3,-66.7 0.2,-66.5C-1.8,-66.3 -9.0,-65.3 -12.1,-64.3C-15.1,-63.3 -15.7,-61.7 -17.9,-60.6C-20.1,-59.5 -22.8,-58.7 -25.2,-57.7C-27.7,-56.7 -30.1,-55.8 -32.6,-54.8C-35.0,-53.8 -37.7,-52.8 -39.9,-51.9C-42.1,-50.9 -44.3,-50.1 -45.7,-48.9C-47.2,-47.7 -47.9,-46.1 -48.7,-44.5C-49.4,-42.9 -50.1,-40.8 -50.1,-39.3C-50.1,-37.7 -49.5,-36.1 -48.7,-35.0C-47.8,-33.9 -46.2,-32.9 -45.0,-32.8C-43.8,-32.7 -42.0,-33.4 -41.4,-34.3C-40.7,-35.2 -41.7,-36.5 -41.1,-38.1C-40.4,-39.7 -39.3,-42.2 -37.5,-43.9C-35.8,-45.7 -33.2,-47.1 -30.5,-48.6C-27.8,-50.2 -24.5,-52.3 -21.1,-53.3C-17.8,-54.3 -13.9,-54.7 -10.6,-54.5C-7.3,-54.3 -4.1,-52.1 -1.2,-52.1C1.7,-52.1 4.3,-54.5 7.0,-54.5C9.7,-54.4 13.2,-51.6 14.9,-51.9C16.6,-52.1 17.2,-54.5 17.1,-56.2Z" fill="#4579FF"/>
<path d="M-36.4,-53.3C-36.5,-54.0 -35.0,-55.7 -34.0,-56.2C-33.1,-56.8 -31.2,-57.2 -30.5,-56.8C-29.8,-56.5 -29.5,-54.8 -29.9,-54.1C-30.4,-53.3 -32.2,-52.3 -33.3,-52.1C-34.4,-52.0 -36.2,-52.6 -36.4,-53.3Z" fill="#1652FF"/>
<path d="M-48.1,-38.7C-48.0,-39.9 -46.7,-40.7 -45.7,-40.9C-44.8,-41.1 -42.8,-40.9 -42.2,-39.8C-41.7,-38.7 -41.8,-35.4 -42.5,-34.3C-43.2,-33.2 -45.6,-32.7 -46.5,-33.4C-47.4,-34.1 -48.2,-37.4 -48.1,-38.7Z" fill="#1652FF"/>
<path d="M12.9,-20.5C13.3,-22.2 15.6,-23.8 17.6,-24.6C19.5,-25.4 22.7,-25.9 24.6,-25.2C26.6,-24.5 28.3,-22.3 29.3,-20.5C30.3,-18.8 31.1,-16.2 30.5,-14.6C29.9,-13.1 27.5,-11.6 25.8,-11.1C24.0,-10.6 21.7,-11.1 19.9,-11.7C18.2,-12.3 16.4,-13.2 15.2,-14.6C14.1,-16.1 12.5,-18.8 12.9,-20.5Z" fill="#B4CDFF"/>
<circle cx="0" cy="0" r="10" fill="#B4CDFF"/>
<ellipse cx="0.1" cy="0" rx="1.8" ry="1.3" fill="#fff"/>
<path d="M22.3,-2.9C23.6,-3.7 28.7,-4.5 31.6,-5.3C34.6,-6.1 37.3,-7.2 39.8,-7.6C42.4,-8.0 45.3,-8.4 46.9,-7.6C48.4,-6.8 49.4,-4.5 49.2,-2.9C49.0,-1.4 47.9,0.8 45.7,1.8C43.6,2.7 39.5,2.9 36.3,2.9C33.2,2.9 29.1,2.3 27.0,1.8C24.8,1.2 24.2,0.2 23.4,-0.6C22.7,-1.4 20.9,-2.1 22.3,-2.9Z" fill="#4579FF"/>
<path d="M29.3,-2.3C30.1,-3.2 34.9,-3.9 37.5,-4.3C40.1,-4.7 43.7,-5.1 45.1,-4.7C46.6,-4.3 46.8,-2.6 46.3,-1.8C45.8,-0.9 44.4,0.2 42.2,0.6C39.9,1.0 35.0,1.3 32.8,0.8C30.7,0.3 28.5,-1.5 29.3,-2.3Z" fill="#1652FF"/>
<path d="M-2.3,-17.0C-2.0,-18.2 0.2,-20.0 1.2,-20.5C2.1,-21.0 3.4,-20.8 3.5,-19.9C3.6,-19.0 2.5,-16.3 1.8,-15.2C1.0,-14.2 -0.5,-13.2 -1.2,-13.5C-1.9,-13.8 -2.7,-15.8 -2.3,-17.0Z" fill="#4579FF"/>
<path d="M12.0,-21.1C12.7,-23.0 16.6,-24.0 19.3,-24.0C22.0,-24.0 25.6,-22.8 28.1,-21.1C30.5,-19.4 32.7,-15.7 33.9,-13.8C35.2,-11.8 36.1,-10.8 35.4,-9.4C34.7,-7.9 31.7,-5.5 29.5,-5.0C27.3,-4.5 24.7,-5.2 22.2,-6.4C19.8,-7.7 16.6,-9.9 14.9,-12.3C13.2,-14.7 11.2,-19.1 12.0,-21.1Z" fill="#86A7FF"/>
<path d="M22.2,-47.5C23.4,-48.9 27.1,-48.9 29.5,-48.9C32.0,-48.9 35.4,-49.2 36.9,-47.5C38.3,-45.8 38.8,-41.1 38.3,-38.7C37.8,-36.2 35.9,-33.5 33.9,-32.8C32.0,-32.1 28.6,-33.1 26.6,-34.3C24.7,-35.5 23.0,-37.9 22.2,-40.1C21.5,-42.3 21.0,-46.0 22.2,-47.5Z" fill="#FFEADA"/>
<path d="M25.9,-45.3C26.1,-45.8 28.1,-42.1 29.5,-41.6C31.0,-41.1 33.7,-42.9 34.7,-42.3C35.6,-41.7 35.9,-39.0 35.4,-37.9C34.9,-36.8 33.0,-35.6 31.7,-35.7C30.5,-35.9 29.1,-37.1 28.1,-38.7C27.1,-40.3 25.6,-44.8 25.9,-45.3Z" fill="#FF7B47"/>
<path d="M36.9,-44.5C37.4,-46.0 40.0,-47.0 41.3,-46.7C42.5,-46.5 44.0,-44.4 44.2,-43.1C44.4,-41.7 43.7,-39.5 42.7,-38.7C41.8,-37.8 39.3,-37.0 38.3,-37.9C37.4,-38.9 36.4,-43.1 36.9,-44.5Z" fill="#4579FF"/>
<path d="M57.2,-37.5C59.4,-40.8 65.0,-41.4 68.9,-41.0C72.8,-40.6 77.5,-38.5 80.6,-35.2C83.8,-31.8 85.9,-26.0 87.7,-21.1C89.4,-16.2 89.8,-10.4 91.2,-5.9C92.6,-1.4 94.5,1.9 95.9,5.9C97.2,9.8 99.2,13.7 99.4,17.6C99.6,21.5 98.8,25.8 97.0,29.3C95.3,32.8 91.8,35.9 88.8,38.7C85.9,41.4 82.8,43.9 79.5,45.7C76.2,47.5 71.9,49.0 68.9,49.2C66.0,49.4 63.3,48.6 61.9,46.9C60.5,45.1 60.1,41.2 60.7,38.7C61.3,36.1 65.6,38.7 65.4,31.6C65.2,24.6 61.1,5.3 59.5,-3.5C58.0,-12.3 56.4,-15.4 56.0,-21.1C55.6,-26.8 55.1,-34.2 57.2,-37.5Z" fill="#FFEADA"/>
<path d="M41.6,-24.0C43.4,-25.7 49.1,-26.8 52.1,-25.8C55.2,-24.7 56.5,-18.7 60.1,-17.8C63.7,-16.8 68.6,-23.0 73.6,-20.2C78.6,-17.5 86.7,-7.2 90.3,-1.2C94.0,4.9 94.7,11.3 95.4,16.3C96.1,21.2 95.9,25.0 94.7,28.7C93.5,32.5 90.6,36.4 88.3,39.0C86.0,41.6 83.6,43.4 80.9,44.2C78.2,45.1 75.5,45.3 72.3,44.1C69.0,42.8 63.9,38.8 61.6,36.5C59.3,34.3 59.6,32.8 58.5,30.6C57.3,28.3 55.4,26.0 54.7,22.9C53.9,19.9 54.3,16.2 53.9,12.5C53.4,8.8 53.4,4.0 51.9,0.8C50.5,-2.3 47.0,-3.9 45.2,-6.6C43.4,-9.3 41.5,-12.4 40.9,-15.3C40.3,-18.2 39.7,-22.2 41.6,-24.0Z" fill="#FFCDB8"/>
<path d="M42.3,-22.8C44.1,-24.5 49.6,-25.5 52.6,-24.4C55.6,-23.3 57.0,-17.7 60.3,-16.4C63.5,-15.0 67.9,-19.2 72.3,-16.5C76.6,-13.7 83.3,-5.1 86.6,0.2C89.8,5.5 90.7,10.9 91.5,15.3C92.3,19.7 92.3,23.1 91.4,26.6C90.4,30.0 87.8,33.6 85.8,35.9C83.7,38.2 81.6,39.9 79.1,40.6C76.7,41.3 74.2,41.1 71.3,40.2C68.4,39.3 63.7,37.0 61.7,35.1C59.6,33.3 59.8,31.4 58.8,29.2C57.7,27.0 56.0,24.6 55.4,21.7C54.8,18.9 55.5,15.3 55.2,11.9C54.8,8.6 54.6,4.5 53.1,1.6C51.6,-1.3 48.2,-3.1 46.3,-5.7C44.4,-8.4 42.6,-11.4 41.9,-14.3C41.2,-17.1 40.6,-21.1 42.3,-22.8Z" fill="#FFA885"/>
<path d="M43.1,-21.7C44.8,-23.3 50.1,-24.2 53.0,-23.1C55.9,-22.0 57.5,-16.7 60.4,-15.0C63.4,-13.2 67.2,-15.4 70.9,-12.7C74.6,-9.9 80.0,-3.0 82.8,1.5C85.6,6.0 86.8,10.5 87.6,14.3C88.5,18.1 88.7,21.3 88.0,24.4C87.3,27.4 85.0,30.7 83.2,32.8C81.5,34.9 79.5,36.4 77.4,37.0C75.3,37.6 73.0,36.8 70.4,36.3C67.7,35.7 63.6,35.1 61.7,33.7C59.9,32.3 60.0,30.0 59.1,27.8C58.1,25.6 56.6,23.3 56.1,20.5C55.7,17.8 56.8,14.4 56.4,11.4C56.1,8.3 55.8,5.1 54.3,2.4C52.8,-0.3 49.3,-2.3 47.4,-4.9C45.5,-7.5 43.6,-10.4 42.9,-13.2C42.2,-16.0 41.4,-20.0 43.1,-21.7Z" fill="#FF7B47"/>
<path d="M44.3,-19.9C45.9,-21.5 51.0,-22.3 53.7,-21.1C56.4,-19.9 58.2,-15.2 60.7,-12.9C63.3,-10.6 66.2,-9.8 68.9,-7.0C71.7,-4.3 75.0,0.2 77.1,3.5C79.3,6.8 80.8,10.0 81.8,12.9C82.8,15.8 83.4,18.5 83.0,21.1C82.6,23.6 80.8,26.4 79.5,28.1C78.1,29.9 76.5,31.2 74.8,31.6C73.0,32.0 71.1,30.5 68.9,30.5C66.8,30.5 63.5,32.4 61.9,31.6C60.3,30.9 60.3,27.9 59.5,25.8C58.8,23.6 57.4,21.3 57.2,18.7C57.0,16.2 58.6,13.1 58.4,10.5C58.2,8.0 57.6,5.9 56.0,3.5C54.5,1.2 51.0,-1.0 49.0,-3.5C47.0,-6.1 45.1,-9.0 44.3,-11.7C43.5,-14.5 42.8,-18.4 44.3,-19.9Z" fill="#FF4E15"/>
<path d="M38.3,0.9C36.7,-0.2 38.8,-4.4 39.8,-5.7C40.8,-7.1 42.9,-7.5 44.2,-7.2C45.5,-6.8 47.0,-4.9 47.9,-3.5C48.7,-2.2 50.9,0.1 49.3,0.9C47.7,1.6 39.9,2.0 38.3,0.9Z" fill="#1652FF"/>
<path d="M-1.2,33.7C0.0,31.7 3.7,30.3 6.1,29.3C8.5,28.3 11.0,27.8 13.4,27.8C15.9,27.8 19.0,29.8 20.8,29.3C22.5,28.8 21.7,26.6 23.7,24.9C25.6,23.2 29.5,21.2 32.5,19.0C35.4,16.8 38.3,12.5 41.3,11.7C44.2,11.0 47.6,12.7 50.1,14.6C52.5,16.6 54.4,20.5 55.9,23.4C57.4,26.4 57.4,28.3 58.8,32.2C60.3,36.1 64.7,44.2 64.7,46.9C64.7,49.6 60.8,49.1 58.8,48.3C56.9,47.6 54.9,43.9 53.0,42.5C51.0,41.0 49.1,41.0 47.1,39.6C45.2,38.1 43.2,35.4 41.3,33.7C39.3,32.0 37.4,29.5 35.4,29.3C33.5,29.1 31.7,31.0 29.5,32.2C27.3,33.4 24.2,34.9 22.2,36.6C20.3,38.3 19.8,41.3 17.8,42.5C15.9,43.7 12.7,43.9 10.5,43.9C8.3,43.9 6.6,43.0 4.6,42.5C2.7,42.0 -0.2,42.5 -1.2,41.0C-2.2,39.6 -2.4,35.6 -1.2,33.7Z" fill="#FFEADA"/>
<path d="M34.7,19.0C35.2,17.3 38.2,15.4 39.8,15.4C41.4,15.4 43.7,17.5 44.2,19.0C44.7,20.6 44.0,23.8 42.7,24.9C41.5,26.0 38.2,26.6 36.9,25.6C35.5,24.7 34.2,20.8 34.7,19.0Z" fill="#FFCDB8"/>
<path d="M-1.2,43.9C0.5,39.1 5.9,46.1 9.0,46.9C12.2,47.6 14.9,48.8 17.8,48.3C20.8,47.9 23.9,45.7 26.6,43.9C29.3,42.2 31.5,39.1 33.9,38.1C36.4,37.1 39.6,37.1 41.3,38.1C43.0,39.1 44.0,41.7 44.2,43.9C44.4,46.1 44.0,49.1 42.7,51.3C41.5,53.5 39.3,55.7 36.9,57.1C34.4,58.6 30.8,59.3 28.1,60.1C25.4,60.8 23.2,60.5 20.8,61.5C18.3,62.5 15.9,64.2 13.4,65.9C11.0,67.6 8.5,70.1 6.1,71.8C3.7,73.5 0.0,80.8 -1.2,76.2C-2.4,71.5 -2.9,48.8 -1.2,43.9Z" fill="#B4CDFF"/>
<path d="M-1.2,46.9C0.5,43.7 5.9,49.2 9.0,49.8C12.2,50.4 14.9,51.0 17.8,50.5C20.8,50.0 23.9,48.5 26.6,46.9C29.3,45.3 31.7,42.0 33.9,41.0C36.1,40.0 38.5,40.0 39.8,41.0C41.1,42.0 42.1,44.9 42.0,46.9C41.9,48.8 40.7,51.1 39.1,52.7C37.5,54.3 35.0,55.5 32.5,56.4C29.9,57.3 26.4,57.3 23.7,57.9C21.0,58.5 18.8,59.0 16.4,60.1C13.9,61.2 12.0,63.0 9.0,64.5C6.1,65.9 0.5,71.8 -1.2,68.8C-2.9,65.9 -2.9,50.0 -1.2,46.9Z" fill="#86A7FF"/>
<path d="M3.2,49.8C4.4,48.1 8.5,44.4 10.5,43.9C12.5,43.5 13.9,45.2 14.9,46.9C15.9,48.6 16.9,52.2 16.4,54.2C15.9,56.2 13.7,58.0 12.0,58.6C10.3,59.2 7.6,58.6 6.1,57.9C4.6,57.1 3.7,55.5 3.2,54.2C2.7,52.9 2.0,51.5 3.2,49.8Z" fill="#4579FF"/>
<path d="M101.3,43.9C103.5,41.3 106.7,38.8 108.6,35.2C110.6,31.5 111.6,25.9 113.0,22.0C114.5,18.1 115.5,14.4 117.4,11.7C119.4,9.0 122.3,6.3 124.8,5.9C127.2,5.4 131.4,6.3 132.1,8.8C132.8,11.2 130.1,16.6 129.2,20.5C128.2,24.4 127.4,28.3 126.2,32.2C125.0,36.1 123.5,40.3 121.8,43.9C120.1,47.6 117.7,51.0 116.0,54.2C114.3,57.4 112.8,60.3 111.6,63.0C110.4,65.7 110.1,68.1 108.6,70.3C107.2,72.5 104.7,74.2 102.8,76.2C100.8,78.1 98.4,79.6 96.9,82.0C95.5,84.5 94.7,87.4 94.0,90.8C93.3,94.2 93.5,99.4 92.5,102.5C91.6,105.7 90.3,107.7 88.1,109.9C85.9,112.1 82.3,114.5 79.4,115.7C76.4,116.9 73.2,116.2 70.6,117.2C67.9,118.2 65.7,121.6 63.2,121.6C60.8,121.6 58.4,118.4 55.9,117.2C53.5,116.0 50.1,116.2 48.6,114.3C47.1,112.3 46.4,107.9 47.1,105.5C47.9,103.0 51.0,101.6 53.0,99.6C54.9,97.7 56.6,95.9 58.8,93.8C61.0,91.6 64.2,89.1 66.2,86.4C68.1,83.7 69.3,80.6 70.6,77.6C71.8,74.7 72.0,71.3 73.5,68.8C75.0,66.4 76.9,64.9 79.4,63.0C81.8,61.0 85.5,59.1 88.1,57.1C90.8,55.2 93.3,53.5 95.5,51.3C97.7,49.1 99.1,46.6 101.3,43.9Z" fill="#B4CDFF"/>
<path d="M91.1,58.6C92.8,56.4 93.8,53.2 95.5,52.7C97.2,52.2 99.1,54.2 101.3,55.7C103.5,57.1 107.9,59.3 108.6,61.5C109.4,63.7 107.2,66.9 105.7,68.8C104.3,70.8 101.8,71.5 99.9,73.2C97.9,75.0 96.0,77.6 94.0,79.1C92.0,80.6 90.1,81.3 88.1,82.0C86.2,82.8 84.2,83.5 82.3,83.5C80.3,83.5 76.9,83.7 76.4,82.0C75.9,80.3 77.9,75.9 79.4,73.2C80.8,70.6 83.3,68.4 85.2,65.9C87.2,63.5 89.4,60.8 91.1,58.6Z" fill="#86A7FF"/>
<path d="M64.7,87.9C65.2,86.2 68.6,85.0 70.6,85.0C72.5,85.0 75.9,86.4 76.4,87.9C76.9,89.4 75.0,92.5 73.5,93.8C72.0,95.0 69.1,96.2 67.6,95.2C66.2,94.2 64.2,89.6 64.7,87.9Z" fill="#86A7FF"/>
<path d="M23.7,136.2C24.4,134.8 27.1,133.1 29.5,131.8C32.0,130.6 35.2,129.9 38.3,128.9C41.5,127.9 45.2,127.0 48.6,126.0C52.0,125.0 56.6,122.8 58.8,123.0C61.0,123.3 62.3,126.0 61.8,127.4C61.3,128.9 58.8,130.4 55.9,131.8C53.0,133.3 47.9,134.8 44.2,136.2C40.5,137.7 37.1,139.9 33.9,140.6C30.8,141.4 26.9,141.4 25.2,140.6C23.4,139.9 23.0,137.7 23.7,136.2Z" fill="#B4CDFF"/>
<path d="M13.4,105.5C13.7,103.6 17.1,102.8 19.3,102.5C21.5,102.3 24.9,102.8 26.6,104.0C28.3,105.2 29.8,108.2 29.5,109.9C29.3,111.6 27.1,113.6 25.2,114.3C23.2,114.9 19.8,115.0 17.8,113.5C15.9,112.1 13.2,107.3 13.4,105.5Z" fill="#B4CDFF"/>
<path d="M34.7,79.1C35.4,78.7 36.6,78.6 36.9,79.8C37.1,81.1 36.4,84.4 36.1,86.4C35.9,88.5 35.0,90.6 35.4,92.3C35.8,94.0 37.1,95.8 38.3,96.7C39.6,97.5 41.3,97.9 42.7,97.4C44.2,96.9 45.8,95.3 47.1,93.8C48.5,92.2 49.6,89.1 50.8,87.9C52.0,86.7 54.0,85.4 54.4,86.4C54.9,87.4 54.4,92.0 53.7,93.8C53.0,95.5 51.4,95.7 50.1,96.7C48.7,97.7 46.9,98.6 45.7,99.6C44.4,100.6 43.0,101.6 42.7,102.5C42.5,103.5 43.3,104.6 44.2,105.5C45.0,106.3 48.0,107.1 47.9,107.7C47.7,108.3 44.3,108.0 43.5,109.1C42.6,110.2 42.6,112.8 42.7,114.3C42.9,115.7 44.7,116.9 44.2,117.9C43.7,118.9 41.0,119.3 39.8,120.1C38.6,121.0 38.2,122.3 36.9,123.0C35.5,123.8 33.3,124.0 31.7,124.5C30.2,125.0 28.6,126.0 27.3,126.0C26.1,126.0 25.3,125.2 24.4,124.5C23.6,123.8 22.2,122.9 22.2,121.6C22.2,120.2 23.7,116.9 24.4,116.5C25.2,116.0 25.8,118.5 26.6,118.7C27.5,118.8 28.7,118.0 29.5,117.2C30.4,116.3 31.1,115.0 31.7,113.5C32.4,112.1 32.8,110.2 33.2,108.4C33.6,106.6 34.2,104.2 33.9,102.5C33.7,100.8 32.4,99.6 31.7,98.1C31.1,96.7 30.4,95.5 30.3,93.8C30.2,92.0 30.6,89.8 31.0,87.9C31.4,85.9 31.9,83.5 32.5,82.0C33.1,80.6 33.9,79.5 34.7,79.1Z" fill="#FFEADA"/>
<path d="M-1.2,105.5C0.0,99.1 4.2,106.0 6.1,106.9C8.1,107.9 9.0,109.6 10.5,111.3C12.0,113.0 13.9,114.7 14.9,117.2C15.9,119.6 16.6,123.3 16.4,126.0C16.1,128.7 14.9,131.1 13.4,133.3C12.0,135.5 10.0,137.2 7.6,139.2C5.1,141.1 0.2,150.6 -1.2,145.0C-2.7,139.4 -2.4,111.8 -1.2,105.5Z" fill="#FFEADA"/>
<path d="M132.1,29.3C133.1,26.9 134.8,25.4 136.5,24.9C138.2,24.4 140.9,24.2 142.3,26.4C143.8,28.6 145.5,34.4 145.3,38.1C145.0,41.7 143.1,44.4 140.9,48.3C138.7,52.2 134.3,61.3 132.1,61.5C129.9,61.8 127.9,53.5 127.7,49.8C127.4,46.1 129.9,43.0 130.6,39.6C131.4,36.1 131.1,31.7 132.1,29.3Z" fill="#FFEADA"/>
<path d="M107.2,93.8C107.4,91.6 109.6,87.9 111.6,85.0C113.5,82.0 116.7,78.9 118.9,76.2C121.1,73.5 122.6,71.8 124.8,68.8C127.0,65.9 130.9,58.3 132.1,58.6C133.3,58.8 133.3,66.4 132.1,70.3C130.9,74.2 127.2,78.6 124.8,82.0C122.3,85.4 119.9,88.1 117.4,90.8C115.0,93.5 111.8,97.7 110.1,98.1C108.4,98.6 106.9,95.9 107.2,93.8Z" fill="#FFEADA"/>
<path d="M-127.8,16.1C-128.0,13.9 -124.6,11.5 -123.4,8.8C-122.2,6.1 -124.4,1.5 -120.5,0.0C-116.5,-1.5 -103.6,-1.5 -99.9,0.0C-96.3,1.5 -98.5,6.1 -98.5,8.8C-98.5,11.5 -99.0,14.0 -99.9,16.1C-100.9,18.2 -102.1,20.0 -104.3,21.2C-106.5,22.5 -110.2,23.3 -113.1,23.4C-116.1,23.6 -119.5,23.2 -121.9,22.0C-124.4,20.8 -127.5,18.3 -127.8,16.1Z" fill="#B4CDFF"/>
<path d="M-118.3,-1.5C-121.4,0.0 -120.9,4.6 -121.9,7.3C-122.9,10.0 -124.4,12.5 -124.1,14.6C-123.9,16.8 -122.3,19.4 -120.5,20.5C-118.6,21.6 -115.6,21.5 -113.1,21.2C-110.7,21.0 -107.8,20.1 -105.8,19.0C-103.9,17.9 -102.3,16.6 -101.4,14.6C-100.6,12.7 -100.4,10.0 -100.7,7.3C-100.9,4.6 -99.9,0.0 -102.9,-1.5C-105.8,-2.9 -115.1,-2.9 -118.3,-1.5Z" fill="#4579FF"/>
<path d="M-117.5,1.5C-120.2,2.4 -119.8,6.6 -120.5,8.8C-121.1,11.0 -121.7,12.9 -121.2,14.6C-120.7,16.4 -119.1,18.3 -117.5,19.0C-115.9,19.8 -113.5,19.5 -111.7,19.0C-109.8,18.6 -107.9,17.6 -106.5,16.1C-105.2,14.6 -104.0,12.5 -103.6,10.3C-103.2,8.1 -102.0,4.4 -104.3,2.9C-106.7,1.5 -114.8,0.5 -117.5,1.5Z" fill="#1652FF"/>
<path d="M-115.3,2.9C-117.0,3.9 -117.8,6.8 -118.3,8.8C-118.7,10.7 -118.9,13.3 -118.3,14.6C-117.6,16.0 -116.1,16.8 -114.6,16.8C-113.1,16.8 -110.8,16.0 -109.5,14.6C-108.1,13.3 -106.8,10.7 -106.5,8.8C-106.3,6.8 -106.5,3.9 -108.0,2.9C-109.5,2.0 -113.6,2.0 -115.3,2.9Z" fill="#002FE2"/>
<path d="M-118.3,0.9C-121.9,-0.2 -116.4,-4.1 -114.6,-5.7C-112.8,-7.3 -109.7,-8.6 -107.3,-8.6C-104.8,-8.6 -102.0,-6.8 -99.9,-5.7C-97.9,-4.6 -96.0,-3.1 -94.8,-2.1C-93.6,-1.0 -88.7,0.4 -92.6,0.9C-96.5,1.4 -114.6,2.0 -118.3,0.9Z" fill="#4579FF"/>
<path d="M-114.6,0.9C-117.0,0.0 -113.0,-3.1 -111.7,-4.2C-110.3,-5.3 -108.4,-5.8 -106.5,-5.7C-104.7,-5.6 -102.3,-4.6 -100.7,-3.5C-99.1,-2.4 -94.7,0.1 -97.0,0.9C-99.3,1.6 -112.2,1.7 -114.6,0.9Z" fill="#1652FF"/>
<path d="M-139.5,29.3C-138.3,27.3 -134.9,26.6 -132.2,26.4C-129.5,26.1 -126.1,27.3 -123.4,27.8C-120.7,28.3 -118.0,28.1 -116.1,29.3C-114.1,30.5 -111.9,33.0 -111.7,35.2C-111.4,37.4 -113.1,40.3 -114.6,42.5C-116.1,44.7 -120.0,46.1 -120.5,48.3C-120.9,50.5 -119.0,53.7 -117.5,55.7C-116.1,57.6 -113.4,59.6 -111.7,60.1C-110.0,60.5 -109.0,59.3 -107.3,58.6C-105.6,57.9 -103.1,57.1 -101.4,55.7C-99.7,54.2 -98.5,50.5 -97.0,49.8C-95.6,49.1 -93.1,50.0 -92.6,51.3C-92.1,52.5 -92.9,55.4 -94.1,57.1C-95.3,58.8 -98.0,60.3 -99.9,61.5C-101.9,62.7 -104.6,63.0 -105.8,64.5C-107.0,65.9 -107.3,68.1 -107.3,70.3C-107.3,72.5 -106.8,76.7 -105.8,77.6C-104.8,78.6 -102.6,75.9 -101.4,76.2C-100.2,76.4 -98.2,77.6 -98.5,79.1C-98.7,80.6 -101.2,83.3 -102.9,85.0C-104.6,86.7 -107.0,89.1 -108.7,89.4C-110.4,89.6 -112.2,88.1 -113.1,86.4C-114.1,84.7 -113.4,81.8 -114.6,79.1C-115.8,76.4 -118.5,73.0 -120.5,70.3C-122.4,67.6 -124.4,65.4 -126.3,63.0C-128.3,60.5 -130.5,58.3 -132.2,55.7C-133.9,53.0 -135.3,49.8 -136.6,46.9C-137.8,43.9 -139.0,41.0 -139.5,38.1C-140.0,35.2 -140.7,31.2 -139.5,29.3Z" fill="#B4CDFF"/>
<path d="M-136.6,33.7C-136.1,31.9 -132.4,31.2 -130.7,31.5C-129.0,31.7 -126.8,33.6 -126.3,35.2C-125.8,36.7 -126.6,39.8 -127.8,41.0C-129.0,42.2 -132.2,43.7 -133.6,42.5C-135.1,41.3 -137.1,35.5 -136.6,33.7Z" fill="#86A7FF"/>
<path d="M-130.7,48.3C-130.0,47.1 -126.6,47.1 -124.8,48.3C-123.1,49.6 -121.9,53.2 -120.5,55.7C-119.0,58.1 -116.3,61.0 -116.1,63.0C-115.8,64.9 -117.5,67.4 -119.0,67.4C-120.5,67.4 -123.1,64.9 -124.8,63.0C-126.6,61.0 -128.3,58.1 -129.2,55.7C-130.2,53.2 -131.4,49.6 -130.7,48.3Z" fill="#86A7FF"/>
<path d="M-101.4,51.3C-100.4,50.2 -96.9,49.9 -95.6,50.5C-94.2,51.1 -93.0,53.6 -93.4,54.9C-93.7,56.3 -96.4,58.2 -97.7,58.6C-99.1,59.0 -100.8,58.3 -101.4,57.1C-102.0,55.9 -102.4,52.4 -101.4,51.3Z" fill="#86A7FF"/>
<path d="M-112.4,82.0C-112.2,80.8 -109.1,79.5 -108.0,79.8C-106.9,80.2 -105.6,83.0 -105.8,84.2C-106.0,85.4 -108.4,87.5 -109.5,87.2C-110.6,86.8 -112.6,83.3 -112.4,82.0Z" fill="#86A7FF"/>
<path d="M-120.5,38.1C-119.5,36.7 -115.6,35.4 -113.1,35.2C-110.7,34.9 -107.8,35.6 -105.8,36.6C-103.9,37.6 -101.9,39.1 -101.4,41.0C-100.9,43.0 -101.7,47.1 -102.9,48.3C-104.1,49.6 -106.8,48.8 -108.7,48.3C-110.7,47.9 -112.9,46.3 -114.6,45.4C-116.3,44.6 -118.0,44.4 -119.0,43.2C-120.0,42.0 -121.4,39.4 -120.5,38.1Z" fill="#FFEADA"/>
<path d="M-119.0,51.3C-118.3,50.5 -115.7,50.0 -114.6,50.5C-113.5,51.0 -112.3,53.2 -112.4,54.2C-112.5,55.2 -114.2,56.3 -115.3,56.4C-116.4,56.5 -118.4,55.8 -119.0,54.9C-119.6,54.1 -119.7,52.0 -119.0,51.3Z" fill="#FFEADA"/>
<path d="M-116.4,52.4C-116.2,52.0 -115.0,51.7 -114.6,52.0C-114.2,52.3 -113.8,53.7 -114.0,54.2C-114.2,54.7 -115.4,55.1 -115.8,54.8C-116.2,54.5 -116.5,52.9 -116.4,52.4Z" fill="#FF7B47"/>
<path d="M-123.4,73.2C-122.8,72.5 -119.7,72.1 -118.3,72.5C-116.8,72.9 -114.7,74.5 -114.6,75.4C-114.5,76.4 -116.3,78.1 -117.5,78.4C-118.7,78.6 -120.9,77.8 -121.9,76.9C-122.9,76.0 -124.0,74.0 -123.4,73.2Z" fill="#FFEADA"/>
<path d="M-105.7,36.6C-106.5,33.8 -105.5,28.0 -104.5,24.9C-103.6,21.7 -101.8,19.0 -99.8,17.8C-97.9,16.7 -94.4,16.3 -92.8,17.8C-91.2,19.4 -90.3,24.1 -90.5,27.2C-90.7,30.3 -92.4,34.2 -94.0,36.6C-95.5,38.9 -97.9,41.3 -99.8,41.3C-101.8,41.3 -104.9,39.3 -105.7,36.6Z" fill="#FFEADA"/>
<path d="M-104.3,35.1C-104.9,32.9 -104.1,28.2 -103.3,25.6C-102.5,23.1 -101.1,20.9 -99.5,19.9C-97.9,18.9 -95.1,18.6 -93.8,19.9C-92.5,21.2 -91.8,25.0 -91.9,27.5C-92.1,30.1 -93.5,33.2 -94.8,35.1C-96.0,37.0 -97.9,38.9 -99.5,38.9C-101.1,38.9 -103.7,37.4 -104.3,35.1Z" fill="#FFA885"/>
<path d="M-102.9,33.7C-103.4,32.0 -102.8,28.3 -102.1,26.4C-101.5,24.4 -100.4,22.7 -99.2,22.0C-98.0,21.2 -95.8,21.0 -94.8,22.0C-93.8,22.9 -93.2,25.9 -93.4,27.8C-93.5,29.8 -94.6,32.2 -95.6,33.7C-96.5,35.2 -98.0,36.6 -99.2,36.6C-100.4,36.6 -102.4,35.4 -102.9,33.7Z" fill="#FF4E15"/>
<path d="M-73.1,-35.1C-70.0,-37.0 -60.0,-37.2 -55.5,-37.4C-51.0,-37.6 -48.5,-37.8 -46.1,-36.2C-43.8,-34.7 -43.4,-30.2 -41.4,-28.0C-39.5,-25.9 -36.4,-26.7 -34.4,-23.3C-32.5,-20.0 -31.9,-12.2 -29.7,-8.1C-27.6,-4.0 -23.1,-2.0 -21.5,1.3C-19.9,4.6 -19.0,9.1 -20.3,11.8C-21.7,14.6 -26.2,17.3 -29.7,17.7C-33.2,18.1 -38.7,14.0 -41.4,14.2C-44.2,14.4 -43.6,17.7 -46.1,18.9C-48.7,20.0 -54.1,21.2 -56.7,21.2C-59.2,21.2 -59.0,19.4 -61.4,18.9C-63.7,18.3 -68.2,19.2 -70.7,17.7C-73.3,16.1 -76.2,12.8 -76.6,9.5C-77.0,6.2 -73.9,1.7 -73.1,-2.2C-72.3,-6.1 -71.7,-10.1 -71.9,-14.0C-72.1,-17.9 -74.1,-22.2 -74.2,-25.7C-74.4,-29.2 -76.2,-33.1 -73.1,-35.1Z" fill="#FFEADA"/>
<path d="M-101.2,-9.3C-101.0,-12.0 -99.4,-16.1 -97.7,-18.6C-95.9,-21.2 -93.2,-23.4 -90.7,-24.5C-88.1,-25.6 -85.0,-25.7 -82.5,-25.1C-79.9,-24.5 -77.2,-22.8 -75.4,-21.0C-73.7,-19.1 -72.3,-16.5 -71.9,-14.0C-71.5,-11.4 -72.1,-8.1 -73.1,-5.8C-74.1,-3.4 -75.8,-1.3 -77.8,0.1C-79.7,1.5 -82.3,2.2 -84.8,2.4C-87.3,2.6 -90.7,2.1 -93.0,1.3C-95.3,0.5 -97.5,-0.5 -98.9,-2.2C-100.2,-4.0 -101.4,-6.5 -101.2,-9.3Z" fill="#FFCDB8"/>
<path d="M-95.3,-9.3C-95.5,-11.8 -94.4,-15.3 -93.0,-17.5C-91.6,-19.6 -89.3,-21.6 -87.1,-22.2C-85.0,-22.8 -82.1,-22.2 -80.1,-21.0C-78.2,-19.8 -76.2,-17.3 -75.4,-15.1C-74.6,-13.0 -74.8,-10.3 -75.4,-8.1C-76.0,-6.0 -77.2,-3.6 -78.9,-2.2C-80.7,-0.9 -83.8,0.1 -86.0,0.1C-88.1,0.1 -90.3,-0.7 -91.8,-2.2C-93.4,-3.8 -95.1,-6.7 -95.3,-9.3Z" fill="#FF7B47"/>
<path d="M-91.8,-8.1C-91.9,-10.1 -91.2,-13.2 -90.1,-15.1C-88.9,-17.1 -86.7,-19.4 -84.8,-19.8C-82.9,-20.2 -80.2,-18.8 -78.9,-17.5C-77.7,-16.1 -77.2,-13.8 -77.2,-11.6C-77.2,-9.5 -77.7,-6.2 -78.9,-4.6C-80.2,-2.9 -83.0,-1.9 -84.8,-1.7C-86.6,-1.5 -88.3,-2.3 -89.5,-3.4C-90.7,-4.5 -91.7,-6.1 -91.8,-8.1Z" fill="#FF4E15"/>
<path d="M-71.3,-30.4C-70.7,-31.7 -68.9,-32.9 -67.2,-32.7C-65.6,-32.5 -63.3,-29.6 -61.4,-29.2C-59.4,-28.8 -56.9,-31.0 -55.5,-30.4C-54.1,-29.8 -53.2,-27.4 -53.2,-25.7C-53.2,-23.9 -54.3,-21.2 -55.5,-19.8C-56.7,-18.5 -58.6,-17.7 -60.2,-17.5C-61.7,-17.3 -63.5,-19.0 -64.9,-18.6C-66.2,-18.3 -67.2,-15.1 -68.4,-15.1C-69.6,-15.1 -71.5,-17.1 -71.9,-18.6C-72.3,-20.2 -70.8,-22.6 -70.7,-24.5C-70.6,-26.5 -71.9,-29.0 -71.3,-30.4Z" fill="#FFA885"/>
<path d="M-64.9,-26.9C-64.1,-28.0 -60.6,-28.4 -59.0,-28.0C-57.5,-27.6 -55.5,-25.7 -55.5,-24.5C-55.5,-23.3 -57.6,-21.6 -59.0,-21.0C-60.4,-20.4 -62.7,-20.0 -63.7,-21.0C-64.7,-22.0 -65.7,-25.7 -64.9,-26.9Z" fill="#FF4E15"/>
<path d="M-55.5,-35.1C-54.9,-36.2 -52.3,-36.8 -50.8,-36.2C-49.3,-35.6 -47.2,-33.1 -46.7,-31.5C-46.2,-30.0 -47.0,-27.8 -47.9,-26.9C-48.8,-25.9 -50.9,-25.3 -52.0,-25.7C-53.1,-26.1 -53.7,-27.6 -54.3,-29.2C-54.9,-30.8 -56.1,-33.9 -55.5,-35.1Z" fill="#FF4E15"/>
<path d="M-50.8,-22.2C-50.0,-23.9 -47.7,-24.9 -46.1,-25.7C-44.6,-26.5 -43.0,-27.4 -41.4,-26.9C-39.9,-26.3 -37.7,-24.1 -36.7,-22.2C-35.8,-20.2 -35.6,-17.5 -35.6,-15.1C-35.6,-12.8 -35.8,-10.1 -36.7,-8.1C-37.7,-6.1 -39.9,-4.2 -41.4,-3.4C-43.0,-2.6 -44.8,-2.6 -46.1,-3.4C-47.5,-4.2 -48.9,-6.1 -49.6,-8.1C-50.4,-10.1 -50.6,-12.8 -50.8,-15.1C-51.0,-17.5 -51.6,-20.4 -50.8,-22.2Z" fill="#FFA885"/>
<path d="M-41.4,-24.5C-40.8,-24.9 -38.7,-23.3 -37.9,-22.2C-37.1,-21.0 -36.5,-18.5 -36.7,-17.5C-37.0,-16.5 -38.8,-15.9 -39.7,-16.3C-40.6,-16.7 -41.7,-18.5 -42.0,-19.8C-42.3,-21.2 -42.1,-24.1 -41.4,-24.5Z" fill="#FF4E15"/>
<path d="M-49.6,-17.5C-49.1,-18.2 -47.0,-19.0 -46.1,-18.6C-45.2,-18.3 -44.2,-16.0 -44.4,-15.1C-44.6,-14.3 -46.4,-13.5 -47.3,-13.4C-48.2,-13.3 -49.2,-13.9 -49.6,-14.5C-50.0,-15.2 -50.2,-16.8 -49.6,-17.5Z" fill="#FF4E15"/>
<path d="M-42.6,-10.4C-42.2,-11.7 -39.0,-12.2 -37.9,-11.6C-36.8,-11.0 -35.8,-8.2 -36.2,-6.9C-36.6,-5.7 -39.2,-3.4 -40.3,-4.0C-41.3,-4.6 -43.0,-9.2 -42.6,-10.4Z" fill="#FF7B47"/>
<path d="M-50.2,-10.4C-49.5,-11.2 -45.9,-10.6 -45.0,-9.9C-44.0,-9.1 -43.7,-6.5 -44.4,-5.8C-45.0,-5.0 -48.1,-4.4 -49.1,-5.2C-50.0,-6.0 -50.9,-9.7 -50.2,-10.4Z" fill="#FF7B47"/>
<path d="M-48.5,-23.3C-48.3,-24.3 -45.0,-24.9 -43.8,-24.5C-42.6,-24.1 -41.2,-22.0 -41.4,-21.0C-41.6,-20.0 -43.8,-18.3 -45.0,-18.6C-46.1,-19.0 -48.7,-22.4 -48.5,-23.3Z" fill="#FF7B47"/>
<path d="M-46.1,-2.2C-44.8,-3.2 -41.4,-3.4 -39.1,-3.4C-36.7,-3.4 -34.2,-3.2 -32.1,-2.2C-29.9,-1.3 -27.8,0.7 -26.2,2.4C-24.6,4.2 -23.1,6.5 -22.7,8.3C-22.3,10.1 -22.7,11.8 -23.9,13.0C-25.0,14.2 -27.8,15.1 -29.7,15.3C-31.7,15.5 -33.6,14.9 -35.6,14.2C-37.5,13.4 -39.7,11.8 -41.4,10.6C-43.2,9.5 -45.1,8.5 -46.1,7.1C-47.1,5.8 -47.3,4.0 -47.3,2.4C-47.3,0.9 -47.5,-1.3 -46.1,-2.2Z" fill="#FF7B47"/>
<path d="M-41.4,-1.1C-40.3,-1.6 -36.0,-0.7 -34.4,0.1C-32.8,0.9 -31.7,2.8 -32.1,3.6C-32.5,4.4 -35.2,4.9 -36.7,4.8C-38.3,4.7 -40.7,4.0 -41.4,3.0C-42.2,2.1 -42.6,-0.6 -41.4,-1.1Z" fill="#E12F00"/>
<path d="M-32.1,9.5C-31.5,8.8 -27.4,9.9 -26.2,10.6C-25.0,11.4 -24.4,13.5 -25.0,14.2C-25.6,14.8 -28.5,15.5 -29.7,14.8C-30.9,14.0 -32.6,10.2 -32.1,9.5Z" fill="#E12F00"/>
<path d="M-30.9,2.4C-30.3,1.9 -27.1,2.8 -26.2,3.6C-25.3,4.4 -25.0,6.5 -25.6,7.1C-26.2,7.7 -28.8,7.9 -29.7,7.1C-30.6,6.4 -31.5,3.0 -30.9,2.4Z" fill="#FFEADA"/>
<path d="M-69.6,4.8C-68.7,3.2 -66.6,0.9 -64.9,0.1C-63.1,-0.7 -60.6,-0.7 -59.0,0.1C-57.5,0.9 -55.9,2.8 -55.5,4.8C-55.1,6.7 -55.9,9.7 -56.7,11.8C-57.5,14.0 -58.8,16.5 -60.2,17.7C-61.6,18.9 -63.5,19.2 -64.9,18.9C-66.2,18.5 -67.5,16.9 -68.4,15.3C-69.3,13.8 -70.0,11.2 -70.1,9.5C-70.3,7.7 -70.4,6.4 -69.6,4.8Z" fill="#FF7B47"/>
<path d="M-66.0,6.0C-65.2,4.4 -62.7,2.4 -61.4,2.4C-60.0,2.4 -58.2,4.4 -57.8,6.0C-57.5,7.5 -58.0,10.3 -59.0,11.8C-60.0,13.4 -62.4,15.3 -63.7,15.3C-65.0,15.3 -66.2,13.4 -66.6,11.8C-67.0,10.3 -66.9,7.5 -66.0,6.0Z" fill="#FF4E15"/>
<path d="M-54.3,-2.2L-47.3,-2.2L-46.7,8.3L-53.7,8.9Z" fill="#D7EAFF"/>
<path d="M-95.3,9.5C-94.9,8.1 -93.6,5.8 -91.8,4.8C-90.1,3.8 -86.5,3.2 -84.8,3.6C-83.1,4.0 -81.9,6.0 -81.9,7.1C-81.9,8.3 -83.5,9.9 -84.8,10.6C-86.1,11.4 -88.3,11.1 -89.5,11.8C-90.7,12.5 -90.9,14.6 -91.8,14.8C-92.7,14.9 -94.2,13.9 -94.8,13.0C-95.3,12.1 -95.8,10.8 -95.3,9.5Z" fill="#FF7B47"/>
<path d="M-105.2,24.9C-104.5,22.2 -103.9,19.8 -102.0,18.5C-100.2,17.2 -96.0,16.2 -94.1,16.9C-92.3,17.7 -91.2,20.6 -90.9,23.3C-90.7,25.9 -91.5,30.1 -92.5,32.8C-93.6,35.4 -95.6,37.8 -97.3,39.1C-99.0,40.4 -101.4,41.5 -102.8,40.7C-104.3,39.9 -105.6,37.0 -106.0,34.4C-106.4,31.7 -105.8,27.5 -105.2,24.9Z" fill="#FFCDB8"/>
<path d="M-103.5,25.9C-103.1,23.9 -102.6,22.2 -101.2,21.2C-99.8,20.2 -96.7,19.4 -95.3,20.0C-94.0,20.6 -93.2,22.8 -93.0,24.7C-92.8,26.7 -93.4,29.8 -94.2,31.7C-95.0,33.7 -96.4,35.5 -97.7,36.4C-99.0,37.4 -100.7,38.2 -101.8,37.6C-102.9,37.0 -103.8,34.9 -104.1,32.9C-104.4,31.0 -104.0,27.8 -103.5,25.9Z" fill="#FF4E15"/>
<path d="M-80.1,2.4C-79.5,1.7 -77.0,1.2 -75.4,1.3C-73.9,1.4 -71.1,2.2 -70.7,3.0C-70.3,3.8 -71.7,5.5 -73.1,6.0C-74.4,6.4 -77.8,6.5 -78.9,6.0C-80.1,5.4 -80.7,3.2 -80.1,2.4Z" fill="#B4CDFF"/>
<path d="M-93.2,39.6C-93.1,38.2 -92.5,35.9 -92.1,34.1C-91.8,32.3 -91.4,31.0 -91.0,28.6C-90.7,26.3 -90.5,21.7 -90.0,19.9C-89.4,18.1 -88.5,17.7 -87.8,17.7C-87.0,17.7 -86.1,18.8 -85.6,19.9C-85.0,21.0 -85.4,23.4 -84.5,24.3C-83.6,25.1 -81.7,25.2 -80.1,24.8C-78.5,24.4 -76.1,23.1 -74.6,22.1C-73.2,21.1 -72.5,20.3 -71.4,18.8C-70.3,17.3 -68.4,14.8 -68.1,13.3C-67.7,11.9 -68.6,11.1 -69.2,10.0C-69.7,9.0 -71.5,7.9 -71.4,6.8C-71.2,5.7 -69.2,4.8 -68.1,3.5C-67.0,2.2 -66.1,0.0 -64.8,-0.9C-63.5,-1.8 -62.1,-2.2 -60.4,-2.0C-58.8,-1.8 -56.1,-0.9 -55.0,0.2C-53.8,1.3 -53.7,2.9 -53.3,4.6C-52.9,6.2 -52.5,8.6 -52.8,10.0C-53.0,11.5 -54.2,13.5 -55.0,13.3C-55.7,13.1 -56.2,10.0 -57.1,9.0C-58.1,7.9 -60.2,6.4 -60.4,6.8C-60.6,7.1 -59.0,9.9 -58.2,11.1C-57.5,12.4 -56.0,13.3 -56.0,14.4C-56.0,15.5 -57.3,16.4 -58.2,17.7C-59.1,19.0 -60.4,20.6 -61.5,22.1C-62.6,23.5 -63.7,25.4 -64.8,26.5C-65.9,27.5 -67.3,27.7 -68.1,28.6C-68.9,29.6 -69.4,30.6 -69.7,31.9C-70.1,33.2 -70.0,34.8 -70.3,36.3C-70.5,37.8 -70.4,39.8 -71.4,40.7C-72.3,41.6 -74.7,42.3 -75.7,41.8C-76.7,41.2 -77.0,38.7 -77.4,37.4C-77.7,36.1 -77.5,34.3 -77.9,34.1C-78.4,33.9 -79.4,35.4 -80.1,36.3C-80.8,37.2 -81.7,38.5 -82.3,39.6C-82.8,40.7 -82.7,42.2 -83.4,42.9C-84.1,43.5 -85.9,44.0 -86.7,43.4C-87.4,42.9 -87.7,40.9 -87.8,39.6C-87.9,38.2 -86.9,35.6 -87.2,35.2C-87.5,34.8 -88.9,36.3 -89.4,37.4C-90.0,38.5 -90.0,40.9 -90.5,41.8C-91.0,42.6 -92.2,42.7 -92.7,42.3C-93.1,41.9 -93.3,40.9 -93.2,39.6Z" fill="#FFEADA"/>
<path d="M-91.2,37.9L-90.2,33.0L-89.2,28.1L-88.2,20.3L-86.3,18.4L-84.3,20.3L-83.3,24.2L-79.4,24.7L-74.6,22.3L-71.6,19.3L-68.7,14.5L-69.7,11.5L-71.6,8.6L-68.7,5.7L-65.8,1.8L-61.9,0.8L-57.0,2.7L-55.5,6.6L-55.0,11.5L-57.0,14.5L-58.9,10.5L-61.9,8.6L-59.9,12.5L-58.0,15.4L-59.9,18.4L-62.8,22.3L-65.8,26.2L-68.7,28.1L-70.2,31.1L-70.6,35.0L-71.6,38.9L-75.5,39.8L-77.0,35.9L-77.5,33.0L-79.4,35.0L-81.4,37.9L-82.4,40.8L-85.3,41.3L-86.3,37.9L-85.8,34.0L-87.7,35.9L-88.7,39.8L-90.7,40.3Z" fill="#FF7B47"/>
<path d="M-88.3,28.2C-87.6,26.5 -86.4,24.1 -84.8,23.5C-83.2,23.0 -80.9,25.1 -78.9,24.7C-77.0,24.3 -74.6,22.6 -73.1,21.2C-71.5,19.8 -70.9,16.9 -69.6,16.5C-68.2,16.1 -65.3,17.3 -64.9,18.9C-64.5,20.4 -66.0,23.7 -67.2,25.9C-68.4,28.0 -70.3,30.6 -71.9,31.7C-73.5,32.9 -75.0,31.9 -76.6,32.9C-78.2,33.9 -79.7,36.6 -81.3,37.6C-82.8,38.6 -84.7,39.4 -86.0,38.8C-87.2,38.2 -88.5,35.8 -88.9,34.1C-89.3,32.3 -89.0,30.0 -88.3,28.2Z" fill="#FF4E15"/>
<path d="M-83.6,17.7C-82.8,16.7 -79.5,15.3 -77.8,15.3C-76.0,15.3 -73.3,16.7 -73.1,17.7C-72.9,18.7 -75.0,20.6 -76.6,21.2C-78.2,21.8 -81.3,21.8 -82.5,21.2C-83.6,20.6 -84.4,18.7 -83.6,17.7Z" fill="#FFEADA"/>
<path d="M-60.2,23.5C-59.5,22.4 -57.1,20.8 -55.5,20.6C-53.9,20.4 -51.6,21.3 -50.8,22.4C-50.0,23.4 -50.0,25.9 -50.8,27.1C-51.6,28.2 -54.0,29.3 -55.5,29.4C-57.0,29.5 -58.8,28.6 -59.6,27.6C-60.4,26.7 -60.9,24.7 -60.2,23.5Z" fill="#86A7FF"/>
<path d="M-61.9,24.9C-61.6,23.4 -58.0,21.0 -56.0,20.5C-54.0,20.0 -50.9,20.8 -50.1,22.0C-49.4,23.2 -50.4,26.6 -51.6,27.8C-52.8,29.1 -55.8,29.8 -57.5,29.3C-59.2,28.8 -62.1,26.4 -61.9,24.9Z" fill="#86A7FF"/>
<path d="M-91.2,42.5C-90.2,41.6 -86.8,41.0 -83.8,41.0C-80.9,41.0 -77.0,42.4 -73.6,42.5C-70.2,42.6 -65.3,41.3 -63.3,41.7C-61.4,42.2 -60.6,44.3 -61.9,45.4C-63.1,46.5 -67.5,48.0 -70.6,48.3C-73.8,48.7 -77.7,48.0 -80.9,47.6C-84.1,47.2 -88.0,47.0 -89.7,46.1C-91.4,45.3 -92.1,43.3 -91.2,42.5Z" fill="#FFEADA"/>
<path d="M-44.3,17.6L-39.2,13.9L-34.0,13.2L-28.2,13.9L-20.8,18.3L-15.0,17.6L-10.6,20.5L-9.1,26.4L-6.2,28.6L-9.1,33.0L-12.8,36.6L-14.3,42.5L-16.5,48.3L-19.4,52.0L-22.3,55.7L-24.5,60.1L-27.4,63.0L-32.6,64.5L-38.4,65.9L-42.8,64.5L-47.2,66.7L-53.1,67.4L-58.9,68.1L-63.3,70.3L-67.7,73.2L-72.1,76.9L-74.3,74.7L-75.8,67.4L-73.6,61.5L-69.9,55.7L-65.5,49.8L-61.9,46.9L-56.0,43.9L-54.5,40.3L-50.1,36.6L-47.2,32.2L-45.0,24.9Z" fill="#D7EAFF"/>
<path d="M-73.6,70.3C-73.7,68.5 -72.6,65.3 -71.4,63.0C-70.2,60.7 -68.3,58.3 -66.3,56.4C-64.2,54.4 -61.6,52.9 -58.9,51.3C-56.2,49.7 -52.8,48.1 -50.1,46.9C-47.5,45.7 -45.0,43.9 -42.8,43.9C-40.6,43.9 -38.4,45.2 -37.0,46.9C-35.5,48.6 -34.3,52.0 -34.0,54.2C-33.8,56.4 -34.3,58.5 -35.5,60.1C-36.7,61.6 -38.9,62.9 -41.4,63.7C-43.8,64.6 -47.2,64.7 -50.1,65.2C-53.1,65.7 -56.2,65.9 -58.9,66.7C-61.6,67.4 -64.3,68.4 -66.3,69.6C-68.2,70.8 -69.4,73.9 -70.6,74.0C-71.9,74.1 -73.5,72.1 -73.6,70.3Z" fill="#B4CDFF"/>
<path d="M-56.0,58.6C-55.5,57.1 -52.3,55.1 -50.1,54.2C-47.9,53.3 -44.5,52.9 -42.8,53.5C-41.1,54.1 -39.4,56.5 -39.9,57.9C-40.4,59.2 -43.5,60.7 -45.7,61.5C-47.9,62.4 -51.4,63.5 -53.1,63.0C-54.8,62.5 -56.5,60.1 -56.0,58.6Z" fill="#86A7FF"/>
<path d="M-44.0,18.3C-43.3,16.8 -41.5,16.0 -40.6,16.1C-39.7,16.2 -38.3,17.6 -38.4,19.0C-38.5,20.5 -40.4,22.7 -41.4,24.9C-42.3,27.1 -43.1,30.3 -44.3,32.2C-45.5,34.2 -47.5,35.8 -48.7,36.6C-49.9,37.5 -51.9,38.2 -51.6,37.4C-51.4,36.5 -48.3,33.6 -47.2,31.5C-46.1,29.4 -45.6,27.1 -45.0,24.9C-44.5,22.7 -44.7,19.8 -44.0,18.3Z" fill="#1652FF"/>
<path d="M-74.3,73.2C-74.8,71.9 -75.4,69.3 -75.0,67.4C-74.7,65.4 -73.3,63.2 -72.1,61.5C-70.9,59.8 -69.4,58.7 -67.7,57.1C-66.0,55.5 -63.8,53.5 -61.9,52.0C-59.9,50.5 -57.2,48.6 -56.0,48.3C-54.8,48.1 -53.8,49.4 -54.5,50.5C-55.3,51.6 -58.6,53.3 -60.4,54.9C-62.2,56.5 -64.1,58.3 -65.5,60.1C-67.0,61.8 -68.3,63.5 -69.2,65.2C-70.0,66.9 -70.2,68.6 -70.6,70.3C-71.1,72.0 -71.5,75.0 -72.1,75.4C-72.7,75.9 -73.8,74.6 -74.3,73.2Z" fill="#1652FF"/>
<path d="M-58.2,42.5C-58.0,41.3 -56.5,39.1 -55.3,38.1C-54.0,37.1 -51.9,36.3 -50.9,36.6C-49.9,37.0 -49.0,39.1 -49.4,40.3C-49.8,41.5 -51.9,43.1 -53.1,43.9C-54.3,44.8 -55.9,45.7 -56.7,45.4C-57.6,45.2 -58.4,43.7 -58.2,42.5Z" fill="#E12F00"/>
<path d="M-67.0,51.3C-66.6,50.2 -65.0,48.5 -64.1,48.3C-63.1,48.2 -61.2,49.6 -61.1,50.5C-61.0,51.5 -62.5,53.5 -63.3,54.2C-64.2,54.9 -65.6,55.4 -66.3,54.9C-66.9,54.4 -67.4,52.4 -67.0,51.3Z" fill="#FF7B47"/>
<path d="M-74.8,73.2C-74.4,72.6 -72.9,72.3 -72.1,72.5C-71.3,72.8 -69.9,73.9 -69.9,74.7C-69.9,75.5 -71.4,77.1 -72.1,77.3C-72.8,77.6 -73.9,76.9 -74.3,76.2C-74.8,75.5 -75.1,73.9 -74.8,73.2Z" fill="#FF4E15"/>
<path d="M-20.8,43.9C-20.0,42.5 -18.4,40.3 -17.2,39.6C-16.0,38.8 -14.0,38.3 -13.5,39.6C-13.0,40.8 -13.5,44.7 -14.3,46.9C-15.0,49.1 -16.7,51.3 -17.9,52.7C-19.1,54.2 -20.6,55.4 -21.6,55.7C-22.6,55.9 -23.7,55.4 -23.8,54.2C-23.9,53.0 -22.8,50.0 -22.3,48.3C-21.8,46.6 -21.7,45.4 -20.8,43.9Z" fill="#1652FF"/>
<path d="M-33.3,62.3C-33.1,60.7 -32.0,57.3 -30.8,55.7C-29.6,54.1 -27.6,52.9 -26.0,52.7C-24.3,52.5 -21.8,53.5 -20.8,54.5C-19.9,55.5 -19.7,57.3 -20.1,58.9C-20.6,60.4 -22.1,62.5 -23.5,63.7C-24.8,64.9 -26.7,65.7 -28.2,65.9C-29.6,66.2 -31.4,65.8 -32.3,65.2C-33.1,64.6 -33.5,63.8 -33.3,62.3Z" fill="#FF4E15"/>
<path d="M-31.8,61.5C-31.6,60.4 -30.6,58.3 -29.6,57.1C-28.7,56.0 -27.2,54.7 -26.0,54.5C-24.8,54.2 -23.0,55.0 -22.3,55.7C-21.7,56.3 -21.7,57.4 -22.0,58.6C-22.4,59.8 -23.5,61.7 -24.5,62.7C-25.5,63.7 -27.1,64.3 -28.2,64.5C-29.3,64.6 -30.5,64.4 -31.1,63.9C-31.7,63.4 -32.1,62.6 -31.8,61.5Z" fill="#B52100"/>
<path d="M-36.2,63.3C-36.2,62.0 -34.2,59.0 -33.3,57.9C-32.4,56.7 -31.0,55.8 -30.8,56.4C-30.6,57.0 -31.3,60.0 -31.8,61.5C-32.3,63.0 -33.0,65.0 -33.7,65.3C-34.5,65.6 -36.3,64.5 -36.2,63.3Z" fill="#1652FF"/>
<path d="M-13.5,20.5C-12.8,19.3 -10.5,20.6 -9.1,22.0C-7.8,23.3 -5.6,26.6 -5.5,28.6C-5.3,30.5 -7.3,32.3 -8.4,33.7C-9.5,35.0 -11.2,37.4 -12.1,36.6C-12.9,35.9 -13.3,32.0 -13.5,29.3C-13.8,26.6 -14.3,21.7 -13.5,20.5Z" fill="#FFA885"/>
<path d="M-41.4,14.6C-40.4,14.0 -36.5,13.2 -34.0,13.2C-31.6,13.2 -28.9,13.8 -26.7,14.6C-24.5,15.5 -21.3,17.5 -20.8,18.3C-20.4,19.2 -21.8,20.0 -23.8,19.8C-25.7,19.5 -29.9,17.3 -32.6,16.8C-35.2,16.4 -38.4,17.2 -39.9,16.8C-41.4,16.5 -42.3,15.3 -41.4,14.6Z" fill="#FF4E15"/>
<path d="M-19.4,57.1C-18.9,55.2 -16.7,52.2 -15.0,49.8C-13.3,47.4 -11.1,44.7 -9.1,42.5C-7.2,40.3 -5.1,37.8 -3.3,36.6C-1.5,35.4 0.9,33.2 1.7,35.2C2.5,37.1 2.8,45.2 1.7,48.3C0.6,51.5 -2.4,52.2 -4.7,54.2C-7.0,56.2 -9.9,58.8 -12.1,60.1C-14.3,61.3 -16.7,62.0 -17.9,61.5C-19.1,61.0 -19.9,59.1 -19.4,57.1Z" fill="#FFEADA"/>
<path d="M-13.5,52.7C-12.9,51.0 -9.6,47.4 -7.7,45.4C-5.7,43.5 -3.0,41.3 -1.8,41.0C-0.6,40.8 0.4,42.5 -0.3,43.9C-1.1,45.4 -4.4,47.9 -6.2,49.8C-8.0,51.8 -10.1,55.2 -11.3,55.7C-12.5,56.2 -14.1,54.4 -13.5,52.7Z" fill="#FFCDB8"/>
<path d="M-23.8,68.8C-23.0,67.4 -20.4,65.4 -17.9,64.5C-15.5,63.5 -12.4,63.5 -9.1,63.0C-5.9,62.5 -0.1,58.8 1.7,61.5C3.5,64.2 3.5,76.4 1.7,79.1C-0.1,81.8 -5.9,78.1 -9.1,77.6C-12.4,77.1 -15.7,76.9 -17.9,76.2C-20.1,75.4 -21.3,74.5 -22.3,73.2C-23.3,72.0 -24.5,70.3 -23.8,68.8Z" fill="#B4CDFF"/>
<path d="M-15.0,70.3C-15.0,69.1 -11.9,68.0 -9.1,67.4C-6.3,66.8 -0.1,65.2 1.7,66.7C3.5,68.1 3.5,74.8 1.7,76.2C-0.1,77.5 -6.3,75.7 -9.1,74.7C-11.9,73.7 -15.0,71.5 -15.0,70.3Z" fill="#86A7FF"/>
<path d="M-8.2,28.7C-6.3,28.3 -2.0,33.4 1.2,33.4C4.3,33.4 7.4,30.3 10.5,28.7C13.7,27.1 16.8,25.6 19.9,24.0C23.0,22.5 27.0,20.9 29.3,19.3C31.6,17.8 32.2,15.4 34.0,14.6C35.7,13.9 37.9,13.5 39.8,14.6C41.8,15.8 42.3,20.1 45.7,21.7C49.1,23.2 57.8,22.1 60.2,24.0C62.7,26.0 62.7,32.2 60.2,33.4C57.8,34.6 50.1,31.8 45.7,31.1C41.3,30.3 37.9,28.3 34.0,28.7C30.1,29.1 26.2,31.8 22.3,33.4C18.4,35.0 14.1,36.5 10.5,38.1C7.0,39.6 3.9,40.8 1.2,42.8C-1.6,44.7 -3.5,47.5 -5.9,49.8C-8.2,52.2 -10.7,55.7 -12.9,56.8C-15.0,58.0 -18.4,58.8 -18.8,56.8C-19.1,54.9 -16.6,48.6 -15.2,45.1C-13.9,41.6 -11.7,38.5 -10.5,35.7C-9.4,33.0 -10.2,29.1 -8.2,28.7Z" fill="#FFEADA"/>
<path d="M4.7,45.1C5.7,42.6 7.6,41.8 10.5,41.6C13.5,41.4 18.8,44.3 22.3,43.9C25.8,43.6 28.7,40.4 31.6,39.3C34.6,38.1 37.9,36.3 39.8,36.9C41.8,37.5 43.2,40.2 43.4,42.8C43.6,45.3 42.6,49.8 41.0,52.2C39.5,54.5 37.1,55.9 34.0,56.8C30.9,57.8 26.2,57.5 22.3,58.0C18.4,58.5 13.5,59.8 10.5,59.7C7.6,59.5 5.7,59.3 4.7,56.8C3.7,54.4 3.7,47.7 4.7,45.1Z" fill="#86A7FF"/>
<path d="M5.3,47.5C6.2,45.7 8.9,43.9 10.5,43.9C12.2,43.9 14.5,45.5 15.2,47.5C16.0,49.4 16.2,53.9 15.2,55.7C14.3,57.4 11.0,58.2 9.4,58.0C7.7,57.8 6.0,56.3 5.3,54.5C4.6,52.7 4.4,49.2 5.3,47.5Z" fill="#4579FF"/>
<path d="M-35.6,79.3L-33.6,77.3L-31.2,76.9L-31.7,79.8L-28.8,80.3L-24.8,79.3L-21.4,80.8L-20.0,83.7L-21.4,87.1L-25.3,88.1L-29.2,89.1L-32.7,87.6L-35.1,85.2L-34.1,82.2Z" fill="#FFEADA"/>
<path d="M-27.1,83.7C-27.0,83.3 -26.1,83.0 -25.7,83.2C-25.4,83.4 -25.0,84.7 -25.1,85.2C-25.3,85.6 -26.2,86.0 -26.5,85.7C-26.8,85.5 -27.2,84.1 -27.1,83.7Z" fill="#4579FF"/>
<path d="M-70.6,124.5C-71.1,122.1 -66.3,119.9 -64.8,117.2C-63.3,114.5 -62.6,111.8 -61.9,108.4C-61.1,105.0 -61.6,99.1 -60.4,96.7C-59.2,94.2 -56.7,94.0 -54.5,93.8C-52.3,93.5 -48.9,94.0 -47.2,95.2C-45.5,96.4 -45.7,99.9 -44.3,101.1C-42.8,102.3 -40.9,102.3 -38.4,102.5C-36.0,102.8 -33.1,102.3 -29.6,102.5C-26.2,102.8 -21.3,103.0 -17.9,104.0C-14.5,105.0 -12.4,107.4 -9.1,108.4C-5.9,109.4 -0.1,102.5 1.7,109.9C3.5,117.2 9.9,145.3 1.7,152.3C-6.4,159.4 -36.6,155.8 -47.2,152.3C-57.8,148.9 -58.0,136.5 -61.9,131.8C-65.8,127.2 -70.2,127.0 -70.6,124.5Z" fill="#FFEADA"/>
<path d="M-47.2,102.5C-46.4,98.9 -43.1,98.9 -42.1,102.5C-41.1,106.2 -41.0,119.6 -41.4,124.5C-41.7,129.4 -43.1,130.6 -44.3,131.8C-45.5,133.1 -48.2,133.1 -48.7,131.8C-49.2,130.6 -47.5,129.4 -47.2,124.5C-47.0,119.6 -48.1,106.2 -47.2,102.5Z" fill="#D7EAFF"/>
<path d="M-24.4,134.5L-21.9,132.5L-22.4,128.1L-19.5,125.7L-16.5,123.7L-13.1,124.2L-12.2,127.1L-13.1,131.1L-15.1,135.0L-18.5,135.9L-21.9,136.9Z" fill="#86A7FF"/>
<path d="M-21.8,132.9C-21.8,132.4 -20.6,132.3 -20.4,131.7C-20.2,131.1 -20.9,129.7 -20.7,129.0C-20.4,128.4 -19.5,128.0 -18.9,127.6C-18.3,127.1 -17.8,126.6 -17.2,126.4C-16.5,126.3 -15.5,126.4 -15.1,126.7C-14.7,127.0 -14.5,127.8 -14.5,128.5C-14.5,129.1 -14.8,130.0 -15.1,130.8C-15.4,131.6 -15.7,132.7 -16.3,133.1C-16.8,133.6 -17.6,133.5 -18.3,133.7C-19.0,133.9 -19.8,134.5 -20.4,134.3C-21.0,134.2 -21.8,133.3 -21.8,132.9Z" fill="#4579FF"/>
<path d="M-10.7,112.5L-8.7,111.5L-6.3,111.0L-7.8,114.0L-4.8,114.9L-3.4,116.4L-5.8,120.3L-6.8,121.8L-4.8,123.2L-2.9,127.1L-0.9,130.1L0.5,133.5L3.5,134.5L4.9,136.4L3.5,139.8L2.0,141.8L-2.9,142.3L-6.8,141.8L-9.7,142.8L-13.1,144.2L-11.2,141.8L-8.7,139.8L-6.8,138.9L-9.2,137.9L-11.2,135.9L-10.7,133.5L-7.8,132.5L-6.8,129.1L-8.2,127.1L-10.7,126.2L-11.2,123.2L-12.2,120.3L-11.7,117.4L-13.6,114.9L-12.6,112.5Z" fill="#B4CDFF"/>
<path d="M-11.2,133.0C-10.6,132.4 -8.5,132.0 -7.8,132.5C-7.0,133.0 -6.5,135.0 -6.8,135.9C-7.0,136.8 -8.5,137.9 -9.2,137.9C-10.0,137.9 -10.9,136.8 -11.2,135.9C-11.5,135.1 -11.7,133.6 -11.2,133.0Z" fill="#FFEADA"/>
<path d="M6.9,35.4L10.8,32.0L15.2,30.6L16.7,33.0L13.7,35.0L14.2,37.9L17.6,38.9L17.1,41.3L14.7,40.3L13.7,45.2L10.8,42.8L8.4,39.4Z" fill="#E12F00"/>
<path d="M42.0,17.4L43.5,16.4L45.5,20.3L46.4,25.2L47.9,30.1L50.2,34.0L53.8,37.9L56.2,40.3L57.7,41.3L56.2,42.8L52.8,41.3L49.9,39.4L46.9,35.0L44.0,29.1L42.0,24.2L41.6,18.4Z" fill="#FF7B47"/>
<path d="M23.0,22.8L25.4,21.3L24.5,18.4L27.4,16.4L28.4,13.5L29.8,16.4L28.4,19.3L26.4,22.3L24.5,23.7Z" fill="#FF4E15"/>
<path d="M30.8,-2.1L34.2,-6.1L38.1,-10.0L41.1,-10.9L42.5,-9.0L40.1,-6.1L37.2,-3.1L34.2,-1.2Z" fill="#FFEADA"/>
<use href="#coast"/>
</g>
<circle cx="0" cy="0" r="144.1" fill="none" stroke="#6a6a6a" stroke-width="1"/>
</g>
</svg></body></html>
